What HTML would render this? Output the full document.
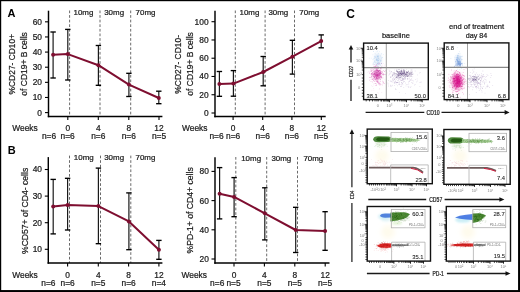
<!DOCTYPE html>
<html><head><meta charset="utf-8"><style>
html,body{margin:0;padding:0;background:#fff;}
svg{display:block;font-family:"Liberation Sans", sans-serif;filter:blur(0.3px);}
</style></head><body>
<svg width="520" height="292" viewBox="0 0 520 292">
<defs>
<filter id="b10" x="-50%" y="-50%" width="200%" height="200%"><feGaussianBlur stdDeviation="1.0"/></filter>
<filter id="b5" x="-50%" y="-50%" width="200%" height="200%"><feGaussianBlur stdDeviation="0.5"/></filter>
<filter id="b6" x="-50%" y="-50%" width="200%" height="200%"><feGaussianBlur stdDeviation="0.6"/></filter>
<filter id="b12" x="-50%" y="-50%" width="200%" height="200%"><feGaussianBlur stdDeviation="1.2"/></filter>
<filter id="b15" x="-50%" y="-50%" width="200%" height="200%"><feGaussianBlur stdDeviation="1.5"/></filter>
<filter id="b20" x="-50%" y="-50%" width="200%" height="200%"><feGaussianBlur stdDeviation="2.0"/></filter>
<filter id="b25" x="-50%" y="-50%" width="200%" height="200%"><feGaussianBlur stdDeviation="2.5"/></filter>
<filter id="b30" x="-50%" y="-50%" width="200%" height="200%"><feGaussianBlur stdDeviation="3.0"/></filter>
</defs>
<rect x="0" y="0" width="520" height="292" fill="#fff"/>
<line x1="69.60" y1="10.50" x2="69.60" y2="116.50" stroke="#6a6a6a" stroke-width="1.0" stroke-dasharray="2.7,1.9"/>
<line x1="100.00" y1="10.50" x2="100.00" y2="116.50" stroke="#6a6a6a" stroke-width="1.0" stroke-dasharray="2.7,1.9"/>
<line x1="130.70" y1="10.50" x2="130.70" y2="116.50" stroke="#6a6a6a" stroke-width="1.0" stroke-dasharray="2.7,1.9"/>
<line x1="48.50" y1="10.70" x2="48.50" y2="117.20" stroke="#000" stroke-width="1.45" />
<line x1="47.80" y1="116.50" x2="162.40" y2="116.50" stroke="#000" stroke-width="1.45" />
<line x1="45.00" y1="112.60" x2="48.50" y2="112.60" stroke="#000" stroke-width="1.1" />
<text x="42.00" y="115.50" font-size="8.4" text-anchor="end" font-weight="normal" fill="#1a1a1a" stroke="#1a1a1a" stroke-width="0.22" >0</text>
<line x1="45.00" y1="97.47" x2="48.50" y2="97.47" stroke="#000" stroke-width="1.1" />
<text x="42.00" y="100.37" font-size="8.4" text-anchor="end" font-weight="normal" fill="#1a1a1a" stroke="#1a1a1a" stroke-width="0.22" >10</text>
<line x1="45.00" y1="82.34" x2="48.50" y2="82.34" stroke="#000" stroke-width="1.1" />
<text x="42.00" y="85.24" font-size="8.4" text-anchor="end" font-weight="normal" fill="#1a1a1a" stroke="#1a1a1a" stroke-width="0.22" >20</text>
<line x1="45.00" y1="67.21" x2="48.50" y2="67.21" stroke="#000" stroke-width="1.1" />
<text x="42.00" y="70.11" font-size="8.4" text-anchor="end" font-weight="normal" fill="#1a1a1a" stroke="#1a1a1a" stroke-width="0.22" >30</text>
<line x1="45.00" y1="52.08" x2="48.50" y2="52.08" stroke="#000" stroke-width="1.1" />
<text x="42.00" y="54.98" font-size="8.4" text-anchor="end" font-weight="normal" fill="#1a1a1a" stroke="#1a1a1a" stroke-width="0.22" >40</text>
<line x1="45.00" y1="36.95" x2="48.50" y2="36.95" stroke="#000" stroke-width="1.1" />
<text x="42.00" y="39.85" font-size="8.4" text-anchor="end" font-weight="normal" fill="#1a1a1a" stroke="#1a1a1a" stroke-width="0.22" >50</text>
<line x1="45.00" y1="21.82" x2="48.50" y2="21.82" stroke="#000" stroke-width="1.1" />
<text x="42.00" y="24.72" font-size="8.4" text-anchor="end" font-weight="normal" fill="#1a1a1a" stroke="#1a1a1a" stroke-width="0.22" >60</text>
<line x1="67.80" y1="116.50" x2="67.80" y2="120.00" stroke="#000" stroke-width="1.1" />
<text x="67.80" y="131.40" font-size="8.4" text-anchor="middle" font-weight="normal" fill="#1a1a1a" stroke="#1a1a1a" stroke-width="0.22" >0</text>
<line x1="98.30" y1="116.50" x2="98.30" y2="120.00" stroke="#000" stroke-width="1.1" />
<text x="98.30" y="131.40" font-size="8.4" text-anchor="middle" font-weight="normal" fill="#1a1a1a" stroke="#1a1a1a" stroke-width="0.22" >4</text>
<line x1="128.80" y1="116.50" x2="128.80" y2="120.00" stroke="#000" stroke-width="1.1" />
<text x="128.80" y="131.40" font-size="8.4" text-anchor="middle" font-weight="normal" fill="#1a1a1a" stroke="#1a1a1a" stroke-width="0.22" >8</text>
<line x1="159.00" y1="116.50" x2="159.00" y2="120.00" stroke="#000" stroke-width="1.1" />
<text x="159.00" y="131.40" font-size="8.4" text-anchor="middle" font-weight="normal" fill="#1a1a1a" stroke="#1a1a1a" stroke-width="0.22" >12</text>
<text x="12.30" y="131.40" font-size="8.4" text-anchor="start" font-weight="normal" fill="#1a1a1a" stroke="#1a1a1a" stroke-width="0.22" >Weeks</text>
<text x="49.00" y="139.10" font-size="8.4" text-anchor="middle" font-weight="normal" fill="#1a1a1a" stroke="#1a1a1a" stroke-width="0.22" >n=6</text>
<text x="67.60" y="139.10" font-size="8.4" text-anchor="middle" font-weight="normal" fill="#1a1a1a" stroke="#1a1a1a" stroke-width="0.22" >n=6</text>
<text x="98.30" y="139.10" font-size="8.4" text-anchor="middle" font-weight="normal" fill="#1a1a1a" stroke="#1a1a1a" stroke-width="0.22" >n=6</text>
<text x="128.80" y="139.10" font-size="8.4" text-anchor="middle" font-weight="normal" fill="#1a1a1a" stroke="#1a1a1a" stroke-width="0.22" >n=6</text>
<text x="159.00" y="139.10" font-size="8.4" text-anchor="middle" font-weight="normal" fill="#1a1a1a" stroke="#1a1a1a" stroke-width="0.22" >n=5</text>
<line x1="53.10" y1="32.00" x2="53.10" y2="78.00" stroke="#1a1a1a" stroke-width="1.2" />
<line x1="50.40" y1="32.00" x2="55.80" y2="32.00" stroke="#000" stroke-width="1.35" />
<line x1="50.40" y1="78.00" x2="55.80" y2="78.00" stroke="#000" stroke-width="1.35" />
<line x1="67.80" y1="29.40" x2="67.80" y2="80.00" stroke="#1a1a1a" stroke-width="1.2" />
<line x1="65.10" y1="29.40" x2="70.50" y2="29.40" stroke="#000" stroke-width="1.35" />
<line x1="65.10" y1="80.00" x2="70.50" y2="80.00" stroke="#000" stroke-width="1.35" />
<line x1="98.40" y1="45.50" x2="98.40" y2="85.30" stroke="#1a1a1a" stroke-width="1.2" />
<line x1="95.70" y1="45.50" x2="101.10" y2="45.50" stroke="#000" stroke-width="1.35" />
<line x1="95.70" y1="85.30" x2="101.10" y2="85.30" stroke="#000" stroke-width="1.35" />
<line x1="128.90" y1="73.30" x2="128.90" y2="96.50" stroke="#1a1a1a" stroke-width="1.2" />
<line x1="126.20" y1="73.30" x2="131.60" y2="73.30" stroke="#000" stroke-width="1.35" />
<line x1="126.20" y1="96.50" x2="131.60" y2="96.50" stroke="#000" stroke-width="1.35" />
<line x1="158.80" y1="91.20" x2="158.80" y2="103.70" stroke="#1a1a1a" stroke-width="1.2" />
<line x1="156.10" y1="91.20" x2="161.50" y2="91.20" stroke="#000" stroke-width="1.35" />
<line x1="156.10" y1="103.70" x2="161.50" y2="103.70" stroke="#000" stroke-width="1.35" />
<path d="M53.10,54.70 L67.80,54.10 L98.40,65.20 L128.90,84.60 L158.80,98.00" fill="none" stroke="#7e0e30" stroke-width="2.0" stroke-linejoin="round"/>
<circle cx="53.10" cy="54.70" r="2.0" fill="#7e0e30"/>
<circle cx="67.80" cy="54.10" r="2.0" fill="#7e0e30"/>
<circle cx="98.40" cy="65.20" r="2.0" fill="#7e0e30"/>
<circle cx="128.90" cy="84.60" r="2.0" fill="#7e0e30"/>
<circle cx="158.80" cy="98.00" r="2.0" fill="#7e0e30"/>
<text x="73.50" y="14.75" font-size="7.95" text-anchor="start" font-weight="normal" fill="#1a1a1a" stroke="#1a1a1a" stroke-width="0.22" >10mg</text>
<text x="104.20" y="14.75" font-size="7.95" text-anchor="start" font-weight="normal" fill="#1a1a1a" stroke="#1a1a1a" stroke-width="0.22" >30mg</text>
<text x="135.60" y="14.75" font-size="7.95" text-anchor="start" font-weight="normal" fill="#1a1a1a" stroke="#1a1a1a" stroke-width="0.22" >70mg</text>
<text transform="translate(15.28,64.15) rotate(-90)" x="0" y="0" font-size="9.0" text-anchor="middle" fill="#1a1a1a" stroke="#1a1a1a" stroke-width="0.22" textLength="60.6" lengthAdjust="spacingAndGlyphs">%CD27- CD10+</text>
<text transform="translate(27.08,63.95) rotate(-90)" x="0" y="0" font-size="9.0" text-anchor="middle" fill="#1a1a1a" stroke="#1a1a1a" stroke-width="0.22" textLength="63.4" lengthAdjust="spacingAndGlyphs">of CD19+ B cells</text>
<line x1="235.30" y1="10.50" x2="235.30" y2="116.50" stroke="#6a6a6a" stroke-width="1.0" stroke-dasharray="2.7,1.9"/>
<line x1="265.10" y1="10.50" x2="265.10" y2="116.50" stroke="#6a6a6a" stroke-width="1.0" stroke-dasharray="2.7,1.9"/>
<line x1="294.50" y1="10.50" x2="294.50" y2="116.50" stroke="#6a6a6a" stroke-width="1.0" stroke-dasharray="2.7,1.9"/>
<line x1="215.00" y1="10.70" x2="215.00" y2="117.20" stroke="#000" stroke-width="1.45" />
<line x1="214.30" y1="116.50" x2="325.70" y2="116.50" stroke="#000" stroke-width="1.45" />
<line x1="211.50" y1="113.00" x2="215.00" y2="113.00" stroke="#000" stroke-width="1.1" />
<text x="208.60" y="115.90" font-size="8.4" text-anchor="end" font-weight="normal" fill="#1a1a1a" stroke="#1a1a1a" stroke-width="0.22" >0</text>
<line x1="211.50" y1="94.74" x2="215.00" y2="94.74" stroke="#000" stroke-width="1.1" />
<text x="208.60" y="97.64" font-size="8.4" text-anchor="end" font-weight="normal" fill="#1a1a1a" stroke="#1a1a1a" stroke-width="0.22" >20</text>
<line x1="211.50" y1="76.48" x2="215.00" y2="76.48" stroke="#000" stroke-width="1.1" />
<text x="208.60" y="79.38" font-size="8.4" text-anchor="end" font-weight="normal" fill="#1a1a1a" stroke="#1a1a1a" stroke-width="0.22" >40</text>
<line x1="211.50" y1="58.22" x2="215.00" y2="58.22" stroke="#000" stroke-width="1.1" />
<text x="208.60" y="61.12" font-size="8.4" text-anchor="end" font-weight="normal" fill="#1a1a1a" stroke="#1a1a1a" stroke-width="0.22" >60</text>
<line x1="211.50" y1="39.96" x2="215.00" y2="39.96" stroke="#000" stroke-width="1.1" />
<text x="208.60" y="42.86" font-size="8.4" text-anchor="end" font-weight="normal" fill="#1a1a1a" stroke="#1a1a1a" stroke-width="0.22" >80</text>
<line x1="211.50" y1="21.70" x2="215.00" y2="21.70" stroke="#000" stroke-width="1.1" />
<text x="208.60" y="24.60" font-size="8.4" text-anchor="end" font-weight="normal" fill="#1a1a1a" stroke="#1a1a1a" stroke-width="0.22" >100</text>
<line x1="233.10" y1="116.50" x2="233.10" y2="120.00" stroke="#000" stroke-width="1.1" />
<text x="233.10" y="131.40" font-size="8.4" text-anchor="middle" font-weight="normal" fill="#1a1a1a" stroke="#1a1a1a" stroke-width="0.22" >0</text>
<line x1="262.70" y1="116.50" x2="262.70" y2="120.00" stroke="#000" stroke-width="1.1" />
<text x="262.70" y="131.40" font-size="8.4" text-anchor="middle" font-weight="normal" fill="#1a1a1a" stroke="#1a1a1a" stroke-width="0.22" >4</text>
<line x1="291.90" y1="116.50" x2="291.90" y2="120.00" stroke="#000" stroke-width="1.1" />
<text x="291.90" y="131.40" font-size="8.4" text-anchor="middle" font-weight="normal" fill="#1a1a1a" stroke="#1a1a1a" stroke-width="0.22" >8</text>
<line x1="321.30" y1="116.50" x2="321.30" y2="120.00" stroke="#000" stroke-width="1.1" />
<text x="321.30" y="131.40" font-size="8.4" text-anchor="middle" font-weight="normal" fill="#1a1a1a" stroke="#1a1a1a" stroke-width="0.22" >12</text>
<text x="182.00" y="131.40" font-size="8.4" text-anchor="start" font-weight="normal" fill="#1a1a1a" stroke="#1a1a1a" stroke-width="0.22" >Weeks</text>
<text x="216.50" y="139.10" font-size="8.4" text-anchor="middle" font-weight="normal" fill="#1a1a1a" stroke="#1a1a1a" stroke-width="0.22" >n=6</text>
<text x="233.10" y="139.10" font-size="8.4" text-anchor="middle" font-weight="normal" fill="#1a1a1a" stroke="#1a1a1a" stroke-width="0.22" >n=6</text>
<text x="262.70" y="139.10" font-size="8.4" text-anchor="middle" font-weight="normal" fill="#1a1a1a" stroke="#1a1a1a" stroke-width="0.22" >n=6</text>
<text x="291.90" y="139.10" font-size="8.4" text-anchor="middle" font-weight="normal" fill="#1a1a1a" stroke="#1a1a1a" stroke-width="0.22" >n=6</text>
<text x="321.00" y="139.10" font-size="8.4" text-anchor="middle" font-weight="normal" fill="#1a1a1a" stroke="#1a1a1a" stroke-width="0.22" >n=5</text>
<line x1="219.40" y1="71.50" x2="219.40" y2="96.30" stroke="#1a1a1a" stroke-width="1.2" />
<line x1="216.70" y1="71.50" x2="222.10" y2="71.50" stroke="#000" stroke-width="1.35" />
<line x1="216.70" y1="96.30" x2="222.10" y2="96.30" stroke="#000" stroke-width="1.35" />
<line x1="233.40" y1="70.60" x2="233.40" y2="96.20" stroke="#1a1a1a" stroke-width="1.2" />
<line x1="230.70" y1="70.60" x2="236.10" y2="70.60" stroke="#000" stroke-width="1.35" />
<line x1="230.70" y1="96.20" x2="236.10" y2="96.20" stroke="#000" stroke-width="1.35" />
<line x1="263.20" y1="56.50" x2="263.20" y2="85.80" stroke="#1a1a1a" stroke-width="1.2" />
<line x1="260.50" y1="56.50" x2="265.90" y2="56.50" stroke="#000" stroke-width="1.35" />
<line x1="260.50" y1="85.80" x2="265.90" y2="85.80" stroke="#000" stroke-width="1.35" />
<line x1="292.40" y1="40.30" x2="292.40" y2="74.10" stroke="#1a1a1a" stroke-width="1.2" />
<line x1="289.70" y1="40.30" x2="295.10" y2="40.30" stroke="#000" stroke-width="1.35" />
<line x1="289.70" y1="74.10" x2="295.10" y2="74.10" stroke="#000" stroke-width="1.35" />
<line x1="321.20" y1="34.90" x2="321.20" y2="47.80" stroke="#1a1a1a" stroke-width="1.2" />
<line x1="318.50" y1="34.90" x2="323.90" y2="34.90" stroke="#000" stroke-width="1.35" />
<line x1="318.50" y1="47.80" x2="323.90" y2="47.80" stroke="#000" stroke-width="1.35" />
<path d="M219.40,84.00 L233.40,83.60 L263.20,72.00 L292.40,56.70 L321.20,41.10" fill="none" stroke="#7e0e30" stroke-width="2.0" stroke-linejoin="round"/>
<circle cx="219.40" cy="84.00" r="2.0" fill="#7e0e30"/>
<circle cx="233.40" cy="83.60" r="2.0" fill="#7e0e30"/>
<circle cx="263.20" cy="72.00" r="2.0" fill="#7e0e30"/>
<circle cx="292.40" cy="56.70" r="2.0" fill="#7e0e30"/>
<circle cx="321.20" cy="41.10" r="2.0" fill="#7e0e30"/>
<text x="239.50" y="14.65" font-size="7.95" text-anchor="start" font-weight="normal" fill="#1a1a1a" stroke="#1a1a1a" stroke-width="0.22" >10mg</text>
<text x="268.40" y="14.65" font-size="7.95" text-anchor="start" font-weight="normal" fill="#1a1a1a" stroke="#1a1a1a" stroke-width="0.22" >30mg</text>
<text x="299.30" y="14.65" font-size="7.95" text-anchor="start" font-weight="normal" fill="#1a1a1a" stroke="#1a1a1a" stroke-width="0.22" >70mg</text>
<text transform="translate(181.48,64.35) rotate(-90)" x="0" y="0" font-size="9.0" text-anchor="middle" fill="#1a1a1a" stroke="#1a1a1a" stroke-width="0.22" textLength="58.6" lengthAdjust="spacingAndGlyphs">%CD27- CD10-</text>
<text transform="translate(193.38,63.95) rotate(-90)" x="0" y="0" font-size="9.0" text-anchor="middle" fill="#1a1a1a" stroke="#1a1a1a" stroke-width="0.22" textLength="63.4" lengthAdjust="spacingAndGlyphs">of CD19+ B cells</text>
<line x1="69.50" y1="155.60" x2="69.50" y2="263.00" stroke="#6a6a6a" stroke-width="1.0" stroke-dasharray="2.7,1.9"/>
<line x1="100.50" y1="155.60" x2="100.50" y2="263.00" stroke="#6a6a6a" stroke-width="1.0" stroke-dasharray="2.7,1.9"/>
<line x1="130.80" y1="155.60" x2="130.80" y2="263.00" stroke="#6a6a6a" stroke-width="1.0" stroke-dasharray="2.7,1.9"/>
<line x1="48.30" y1="157.10" x2="48.30" y2="263.70" stroke="#000" stroke-width="1.45" />
<line x1="47.60" y1="263.00" x2="162.40" y2="263.00" stroke="#000" stroke-width="1.45" />
<line x1="44.80" y1="249.30" x2="48.30" y2="249.30" stroke="#000" stroke-width="1.1" />
<text x="42.00" y="252.20" font-size="8.4" text-anchor="end" font-weight="normal" fill="#1a1a1a" stroke="#1a1a1a" stroke-width="0.22" >10</text>
<line x1="44.80" y1="222.70" x2="48.30" y2="222.70" stroke="#000" stroke-width="1.1" />
<text x="42.00" y="225.60" font-size="8.4" text-anchor="end" font-weight="normal" fill="#1a1a1a" stroke="#1a1a1a" stroke-width="0.22" >20</text>
<line x1="44.80" y1="196.10" x2="48.30" y2="196.10" stroke="#000" stroke-width="1.1" />
<text x="42.00" y="199.00" font-size="8.4" text-anchor="end" font-weight="normal" fill="#1a1a1a" stroke="#1a1a1a" stroke-width="0.22" >30</text>
<line x1="44.80" y1="169.50" x2="48.30" y2="169.50" stroke="#000" stroke-width="1.1" />
<text x="42.00" y="172.40" font-size="8.4" text-anchor="end" font-weight="normal" fill="#1a1a1a" stroke="#1a1a1a" stroke-width="0.22" >40</text>
<line x1="67.60" y1="263.00" x2="67.60" y2="266.50" stroke="#000" stroke-width="1.1" />
<text x="67.60" y="277.70" font-size="8.4" text-anchor="middle" font-weight="normal" fill="#1a1a1a" stroke="#1a1a1a" stroke-width="0.22" >0</text>
<line x1="98.30" y1="263.00" x2="98.30" y2="266.50" stroke="#000" stroke-width="1.1" />
<text x="98.30" y="277.70" font-size="8.4" text-anchor="middle" font-weight="normal" fill="#1a1a1a" stroke="#1a1a1a" stroke-width="0.22" >4</text>
<line x1="128.60" y1="263.00" x2="128.60" y2="266.50" stroke="#000" stroke-width="1.1" />
<text x="128.60" y="277.70" font-size="8.4" text-anchor="middle" font-weight="normal" fill="#1a1a1a" stroke="#1a1a1a" stroke-width="0.22" >8</text>
<line x1="158.90" y1="263.00" x2="158.90" y2="266.50" stroke="#000" stroke-width="1.1" />
<text x="158.90" y="277.70" font-size="8.4" text-anchor="middle" font-weight="normal" fill="#1a1a1a" stroke="#1a1a1a" stroke-width="0.22" >12</text>
<text x="12.30" y="277.70" font-size="8.4" text-anchor="start" font-weight="normal" fill="#1a1a1a" stroke="#1a1a1a" stroke-width="0.22" >Weeks</text>
<text x="48.40" y="285.60" font-size="8.4" text-anchor="middle" font-weight="normal" fill="#1a1a1a" stroke="#1a1a1a" stroke-width="0.22" >n=6</text>
<text x="67.60" y="285.60" font-size="8.4" text-anchor="middle" font-weight="normal" fill="#1a1a1a" stroke="#1a1a1a" stroke-width="0.22" >n=6</text>
<text x="98.30" y="285.60" font-size="8.4" text-anchor="middle" font-weight="normal" fill="#1a1a1a" stroke="#1a1a1a" stroke-width="0.22" >n=5</text>
<text x="128.60" y="285.60" font-size="8.4" text-anchor="middle" font-weight="normal" fill="#1a1a1a" stroke="#1a1a1a" stroke-width="0.22" >n=6</text>
<text x="158.90" y="285.60" font-size="8.4" text-anchor="middle" font-weight="normal" fill="#1a1a1a" stroke="#1a1a1a" stroke-width="0.22" >n=4</text>
<line x1="53.20" y1="179.40" x2="53.20" y2="233.90" stroke="#1a1a1a" stroke-width="1.2" />
<line x1="50.50" y1="179.40" x2="55.90" y2="179.40" stroke="#000" stroke-width="1.35" />
<line x1="50.50" y1="233.90" x2="55.90" y2="233.90" stroke="#000" stroke-width="1.35" />
<line x1="67.60" y1="178.30" x2="67.60" y2="230.00" stroke="#1a1a1a" stroke-width="1.2" />
<line x1="64.90" y1="178.30" x2="70.30" y2="178.30" stroke="#000" stroke-width="1.35" />
<line x1="64.90" y1="230.00" x2="70.30" y2="230.00" stroke="#000" stroke-width="1.35" />
<line x1="98.40" y1="168.10" x2="98.40" y2="243.70" stroke="#1a1a1a" stroke-width="1.2" />
<line x1="95.70" y1="168.10" x2="101.10" y2="168.10" stroke="#000" stroke-width="1.35" />
<line x1="95.70" y1="243.70" x2="101.10" y2="243.70" stroke="#000" stroke-width="1.35" />
<line x1="128.90" y1="192.90" x2="128.90" y2="249.70" stroke="#1a1a1a" stroke-width="1.2" />
<line x1="126.20" y1="192.90" x2="131.60" y2="192.90" stroke="#000" stroke-width="1.35" />
<line x1="126.20" y1="249.70" x2="131.60" y2="249.70" stroke="#000" stroke-width="1.35" />
<line x1="158.90" y1="240.40" x2="158.90" y2="259.30" stroke="#1a1a1a" stroke-width="1.2" />
<line x1="156.20" y1="240.40" x2="161.60" y2="240.40" stroke="#000" stroke-width="1.35" />
<line x1="156.20" y1="259.30" x2="161.60" y2="259.30" stroke="#000" stroke-width="1.35" />
<path d="M53.20,206.50 L67.60,204.90 L98.40,206.10 L128.90,221.40 L158.90,249.70" fill="none" stroke="#7e0e30" stroke-width="2.0" stroke-linejoin="round"/>
<circle cx="53.20" cy="206.50" r="2.0" fill="#7e0e30"/>
<circle cx="67.60" cy="204.90" r="2.0" fill="#7e0e30"/>
<circle cx="98.40" cy="206.10" r="2.0" fill="#7e0e30"/>
<circle cx="128.90" cy="221.40" r="2.0" fill="#7e0e30"/>
<circle cx="158.90" cy="249.70" r="2.0" fill="#7e0e30"/>
<text x="73.80" y="160.45" font-size="7.95" text-anchor="start" font-weight="normal" fill="#1a1a1a" stroke="#1a1a1a" stroke-width="0.22" >10mg</text>
<text x="104.20" y="160.45" font-size="7.95" text-anchor="start" font-weight="normal" fill="#1a1a1a" stroke="#1a1a1a" stroke-width="0.22" >30mg</text>
<text x="135.50" y="160.45" font-size="7.95" text-anchor="start" font-weight="normal" fill="#1a1a1a" stroke="#1a1a1a" stroke-width="0.22" >70mg</text>
<text transform="translate(27.58,210.90) rotate(-90)" x="0" y="0" font-size="9.0" text-anchor="middle" fill="#1a1a1a" stroke="#1a1a1a" stroke-width="0.22" textLength="86.2" lengthAdjust="spacingAndGlyphs">%CD57+ of CD4- cells</text>
<line x1="235.80" y1="157.00" x2="235.80" y2="263.00" stroke="#6a6a6a" stroke-width="1.0" stroke-dasharray="2.7,1.9"/>
<line x1="266.70" y1="157.00" x2="266.70" y2="263.00" stroke="#6a6a6a" stroke-width="1.0" stroke-dasharray="2.7,1.9"/>
<line x1="297.50" y1="157.00" x2="297.50" y2="263.00" stroke="#6a6a6a" stroke-width="1.0" stroke-dasharray="2.7,1.9"/>
<line x1="215.00" y1="157.20" x2="215.00" y2="263.70" stroke="#000" stroke-width="1.45" />
<line x1="214.30" y1="263.00" x2="329.50" y2="263.00" stroke="#000" stroke-width="1.45" />
<line x1="211.50" y1="259.00" x2="215.00" y2="259.00" stroke="#000" stroke-width="1.1" />
<text x="208.80" y="261.90" font-size="8.4" text-anchor="end" font-weight="normal" fill="#1a1a1a" stroke="#1a1a1a" stroke-width="0.22" >20</text>
<line x1="211.50" y1="229.80" x2="215.00" y2="229.80" stroke="#000" stroke-width="1.1" />
<text x="208.80" y="232.70" font-size="8.4" text-anchor="end" font-weight="normal" fill="#1a1a1a" stroke="#1a1a1a" stroke-width="0.22" >40</text>
<line x1="211.50" y1="200.60" x2="215.00" y2="200.60" stroke="#000" stroke-width="1.1" />
<text x="208.80" y="203.50" font-size="8.4" text-anchor="end" font-weight="normal" fill="#1a1a1a" stroke="#1a1a1a" stroke-width="0.22" >60</text>
<line x1="211.50" y1="171.40" x2="215.00" y2="171.40" stroke="#000" stroke-width="1.1" />
<text x="208.80" y="174.30" font-size="8.4" text-anchor="end" font-weight="normal" fill="#1a1a1a" stroke="#1a1a1a" stroke-width="0.22" >80</text>
<line x1="234.00" y1="263.00" x2="234.00" y2="266.50" stroke="#000" stroke-width="1.1" />
<text x="234.00" y="277.70" font-size="8.4" text-anchor="middle" font-weight="normal" fill="#1a1a1a" stroke="#1a1a1a" stroke-width="0.22" >0</text>
<line x1="264.40" y1="263.00" x2="264.40" y2="266.50" stroke="#000" stroke-width="1.1" />
<text x="264.40" y="277.70" font-size="8.4" text-anchor="middle" font-weight="normal" fill="#1a1a1a" stroke="#1a1a1a" stroke-width="0.22" >4</text>
<line x1="294.80" y1="263.00" x2="294.80" y2="266.50" stroke="#000" stroke-width="1.1" />
<text x="294.80" y="277.70" font-size="8.4" text-anchor="middle" font-weight="normal" fill="#1a1a1a" stroke="#1a1a1a" stroke-width="0.22" >8</text>
<line x1="325.20" y1="263.00" x2="325.20" y2="266.50" stroke="#000" stroke-width="1.1" />
<text x="325.20" y="277.70" font-size="8.4" text-anchor="middle" font-weight="normal" fill="#1a1a1a" stroke="#1a1a1a" stroke-width="0.22" >12</text>
<text x="181.50" y="277.70" font-size="8.4" text-anchor="start" font-weight="normal" fill="#1a1a1a" stroke="#1a1a1a" stroke-width="0.22" >Weeks</text>
<text x="217.20" y="285.60" font-size="8.4" text-anchor="middle" font-weight="normal" fill="#1a1a1a" stroke="#1a1a1a" stroke-width="0.22" >n=6</text>
<text x="233.50" y="285.60" font-size="8.4" text-anchor="middle" font-weight="normal" fill="#1a1a1a" stroke="#1a1a1a" stroke-width="0.22" >n=5</text>
<text x="264.40" y="285.60" font-size="8.4" text-anchor="middle" font-weight="normal" fill="#1a1a1a" stroke="#1a1a1a" stroke-width="0.22" >n=5</text>
<text x="294.80" y="285.60" font-size="8.4" text-anchor="middle" font-weight="normal" fill="#1a1a1a" stroke="#1a1a1a" stroke-width="0.22" >n=5</text>
<text x="325.00" y="285.60" font-size="8.4" text-anchor="middle" font-weight="normal" fill="#1a1a1a" stroke="#1a1a1a" stroke-width="0.22" >n=5</text>
<line x1="219.60" y1="167.60" x2="219.60" y2="218.90" stroke="#1a1a1a" stroke-width="1.2" />
<line x1="216.90" y1="167.60" x2="222.30" y2="167.60" stroke="#000" stroke-width="1.35" />
<line x1="216.90" y1="218.90" x2="222.30" y2="218.90" stroke="#000" stroke-width="1.35" />
<line x1="234.10" y1="177.60" x2="234.10" y2="216.70" stroke="#1a1a1a" stroke-width="1.2" />
<line x1="231.40" y1="177.60" x2="236.80" y2="177.60" stroke="#000" stroke-width="1.35" />
<line x1="231.40" y1="216.70" x2="236.80" y2="216.70" stroke="#000" stroke-width="1.35" />
<line x1="264.80" y1="187.80" x2="264.80" y2="239.90" stroke="#1a1a1a" stroke-width="1.2" />
<line x1="262.10" y1="187.80" x2="267.50" y2="187.80" stroke="#000" stroke-width="1.35" />
<line x1="262.10" y1="239.90" x2="267.50" y2="239.90" stroke="#000" stroke-width="1.35" />
<line x1="295.70" y1="207.30" x2="295.70" y2="252.50" stroke="#1a1a1a" stroke-width="1.2" />
<line x1="293.00" y1="207.30" x2="298.40" y2="207.30" stroke="#000" stroke-width="1.35" />
<line x1="293.00" y1="252.50" x2="298.40" y2="252.50" stroke="#000" stroke-width="1.35" />
<line x1="325.10" y1="211.70" x2="325.10" y2="250.30" stroke="#1a1a1a" stroke-width="1.2" />
<line x1="322.40" y1="211.70" x2="327.80" y2="211.70" stroke="#000" stroke-width="1.35" />
<line x1="322.40" y1="250.30" x2="327.80" y2="250.30" stroke="#000" stroke-width="1.35" />
<path d="M219.60,193.70 L234.10,196.90 L264.80,213.30 L295.70,230.00 L325.10,231.10" fill="none" stroke="#7e0e30" stroke-width="2.0" stroke-linejoin="round"/>
<circle cx="219.60" cy="193.70" r="2.0" fill="#7e0e30"/>
<circle cx="234.10" cy="196.90" r="2.0" fill="#7e0e30"/>
<circle cx="264.80" cy="213.30" r="2.0" fill="#7e0e30"/>
<circle cx="295.70" cy="230.00" r="2.0" fill="#7e0e30"/>
<circle cx="325.10" cy="231.10" r="2.0" fill="#7e0e30"/>
<text x="241.20" y="160.95" font-size="7.95" text-anchor="start" font-weight="normal" fill="#1a1a1a" stroke="#1a1a1a" stroke-width="0.22" >10mg</text>
<text x="271.40" y="160.95" font-size="7.95" text-anchor="start" font-weight="normal" fill="#1a1a1a" stroke="#1a1a1a" stroke-width="0.22" >30mg</text>
<text x="303.40" y="160.95" font-size="7.95" text-anchor="start" font-weight="normal" fill="#1a1a1a" stroke="#1a1a1a" stroke-width="0.22" >70mg</text>
<text transform="translate(193.28,210.35) rotate(-90)" x="0" y="0" font-size="9.0" text-anchor="middle" fill="#1a1a1a" stroke="#1a1a1a" stroke-width="0.22" textLength="86.1" lengthAdjust="spacingAndGlyphs">%PD-1+ of CD4+ cells</text>
<text x="7.60" y="16.70" font-size="11" text-anchor="start" font-weight="bold" fill="#000" >A</text>
<text x="7.80" y="153.80" font-size="11" text-anchor="start" font-weight="bold" fill="#000" >B</text>
<text x="346.30" y="17.50" font-size="12" text-anchor="start" font-weight="bold" fill="#000" >C</text>
<text x="395.90" y="38.10" font-size="8.0" text-anchor="middle" font-weight="normal" fill="#1a1a1a" stroke="#1a1a1a" stroke-width="0.22" textLength="28.0" lengthAdjust="spacingAndGlyphs">baseline</text>
<text x="476.60" y="29.30" font-size="8.0" text-anchor="middle" font-weight="normal" fill="#1a1a1a" stroke="#1a1a1a" stroke-width="0.22" textLength="55.2" lengthAdjust="spacingAndGlyphs">end of treatment</text>
<text x="476.50" y="37.90" font-size="8.0" text-anchor="middle" font-weight="normal" fill="#1a1a1a" stroke="#1a1a1a" stroke-width="0.22" textLength="21.6" lengthAdjust="spacingAndGlyphs">day 84</text>
<ellipse cx="378" cy="60" rx="4" ry="7" fill="#e6eef8" fill-opacity="0.9" filter="url(#b15)"/>
<g fill="#8ab8e8" fill-opacity="0.4"><circle cx="378.0" cy="61.8" r="0.4"/><circle cx="377.3" cy="56.6" r="0.4"/><circle cx="376.8" cy="56.1" r="0.4"/><circle cx="378.2" cy="66.4" r="0.4"/><circle cx="376.7" cy="57.8" r="0.4"/><circle cx="379.3" cy="62.1" r="0.4"/><circle cx="378.3" cy="56.4" r="0.4"/><circle cx="377.9" cy="63.6" r="0.4"/><circle cx="374.4" cy="58.5" r="0.4"/><circle cx="372.9" cy="54.8" r="0.4"/><circle cx="373.0" cy="59.5" r="0.4"/><circle cx="374.6" cy="61.7" r="0.4"/><circle cx="378.4" cy="59.7" r="0.4"/><circle cx="371.2" cy="58.1" r="0.4"/><circle cx="377.9" cy="61.0" r="0.4"/><circle cx="373.9" cy="58.4" r="0.4"/><circle cx="375.4" cy="56.9" r="0.4"/><circle cx="380.9" cy="56.9" r="0.4"/><circle cx="377.9" cy="64.4" r="0.4"/><circle cx="376.4" cy="60.0" r="0.4"/><circle cx="378.3" cy="60.8" r="0.4"/><circle cx="374.7" cy="60.8" r="0.4"/><circle cx="381.7" cy="53.7" r="0.4"/><circle cx="380.3" cy="61.0" r="0.4"/><circle cx="376.3" cy="69.3" r="0.4"/><circle cx="380.1" cy="55.2" r="0.4"/><circle cx="378.2" cy="63.0" r="0.4"/><circle cx="377.5" cy="63.5" r="0.4"/><circle cx="377.8" cy="63.4" r="0.4"/><circle cx="381.9" cy="57.5" r="0.4"/><circle cx="378.5" cy="58.5" r="0.4"/><circle cx="378.3" cy="55.3" r="0.4"/><circle cx="376.4" cy="59.6" r="0.4"/><circle cx="380.4" cy="65.5" r="0.4"/><circle cx="374.4" cy="57.0" r="0.4"/><circle cx="379.7" cy="51.7" r="0.4"/><circle cx="376.7" cy="60.1" r="0.4"/><circle cx="381.4" cy="63.5" r="0.4"/><circle cx="377.1" cy="58.9" r="0.4"/><circle cx="377.3" cy="67.2" r="0.4"/><circle cx="376.8" cy="59.2" r="0.4"/><circle cx="379.0" cy="60.0" r="0.4"/><circle cx="377.5" cy="55.6" r="0.4"/><circle cx="378.0" cy="58.5" r="0.4"/><circle cx="381.1" cy="63.4" r="0.4"/><circle cx="377.9" cy="63.4" r="0.4"/><circle cx="377.1" cy="65.1" r="0.4"/><circle cx="378.0" cy="63.1" r="0.4"/><circle cx="374.5" cy="62.0" r="0.4"/><circle cx="373.4" cy="51.5" r="0.4"/><circle cx="377.2" cy="56.5" r="0.4"/><circle cx="378.4" cy="70.4" r="0.4"/><circle cx="375.8" cy="57.8" r="0.4"/><circle cx="378.6" cy="62.7" r="0.4"/><circle cx="377.5" cy="59.6" r="0.4"/><circle cx="379.9" cy="62.8" r="0.4"/><circle cx="375.2" cy="60.2" r="0.4"/><circle cx="378.1" cy="55.9" r="0.4"/><circle cx="378.7" cy="56.7" r="0.4"/><circle cx="380.6" cy="61.3" r="0.4"/><circle cx="378.2" cy="57.9" r="0.4"/><circle cx="377.7" cy="51.7" r="0.4"/><circle cx="374.9" cy="62.1" r="0.4"/><circle cx="372.3" cy="64.2" r="0.4"/><circle cx="373.3" cy="63.8" r="0.4"/><circle cx="375.7" cy="63.9" r="0.4"/><circle cx="378.4" cy="53.7" r="0.4"/><circle cx="381.4" cy="66.8" r="0.4"/><circle cx="377.8" cy="59.3" r="0.4"/><circle cx="377.6" cy="56.2" r="0.4"/><circle cx="381.0" cy="58.1" r="0.4"/><circle cx="377.9" cy="57.0" r="0.4"/><circle cx="376.3" cy="54.9" r="0.4"/><circle cx="381.4" cy="59.8" r="0.4"/><circle cx="380.6" cy="60.6" r="0.4"/><circle cx="376.1" cy="59.1" r="0.4"/><circle cx="376.5" cy="60.5" r="0.4"/><circle cx="377.0" cy="59.2" r="0.4"/><circle cx="374.3" cy="56.9" r="0.4"/><circle cx="382.5" cy="57.5" r="0.4"/><circle cx="375.2" cy="62.0" r="0.4"/><circle cx="381.8" cy="54.1" r="0.4"/><circle cx="377.4" cy="57.7" r="0.4"/><circle cx="373.2" cy="63.7" r="0.4"/><circle cx="377.9" cy="60.8" r="0.4"/><circle cx="376.0" cy="62.5" r="0.4"/><circle cx="376.5" cy="59.9" r="0.4"/><circle cx="375.0" cy="55.1" r="0.4"/><circle cx="381.6" cy="58.3" r="0.4"/><circle cx="378.8" cy="60.4" r="0.4"/><circle cx="376.8" cy="58.3" r="0.4"/><circle cx="379.7" cy="59.2" r="0.4"/><circle cx="377.6" cy="60.6" r="0.4"/><circle cx="381.2" cy="63.5" r="0.4"/><circle cx="379.0" cy="58.0" r="0.4"/><circle cx="374.3" cy="64.7" r="0.4"/><circle cx="380.6" cy="59.9" r="0.4"/><circle cx="379.5" cy="63.9" r="0.4"/><circle cx="380.2" cy="64.6" r="0.4"/><circle cx="376.8" cy="67.2" r="0.4"/><circle cx="374.6" cy="64.3" r="0.4"/><circle cx="379.3" cy="64.3" r="0.4"/><circle cx="383.1" cy="67.0" r="0.4"/><circle cx="374.9" cy="53.1" r="0.4"/><circle cx="380.2" cy="56.0" r="0.4"/><circle cx="378.0" cy="64.2" r="0.4"/><circle cx="373.6" cy="51.2" r="0.4"/><circle cx="378.7" cy="60.7" r="0.4"/><circle cx="377.3" cy="60.7" r="0.4"/><circle cx="375.7" cy="53.8" r="0.4"/><circle cx="377.6" cy="56.2" r="0.4"/><circle cx="373.6" cy="62.7" r="0.4"/><circle cx="377.8" cy="62.3" r="0.4"/><circle cx="375.3" cy="57.6" r="0.4"/><circle cx="375.3" cy="56.6" r="0.4"/><circle cx="378.5" cy="57.1" r="0.4"/><circle cx="379.0" cy="62.0" r="0.4"/><circle cx="383.5" cy="54.4" r="0.4"/><circle cx="380.4" cy="60.1" r="0.4"/><circle cx="378.0" cy="54.1" r="0.4"/><circle cx="376.8" cy="63.8" r="0.4"/><circle cx="377.8" cy="60.9" r="0.4"/><circle cx="377.2" cy="65.6" r="0.4"/><circle cx="377.9" cy="50.8" r="0.4"/><circle cx="376.1" cy="51.8" r="0.4"/><circle cx="369.2" cy="58.2" r="0.4"/><circle cx="381.6" cy="60.7" r="0.4"/><circle cx="374.8" cy="56.4" r="0.4"/><circle cx="381.1" cy="61.2" r="0.4"/><circle cx="378.1" cy="60.3" r="0.4"/></g>
<ellipse cx="377" cy="75" rx="3.2" ry="3.6" fill="#d040a8" fill-opacity="0.45" filter="url(#b12)"/>
<g fill="#c8209a" fill-opacity="0.48"><circle cx="377.1" cy="78.4" r="0.42"/><circle cx="378.8" cy="75.9" r="0.42"/><circle cx="373.6" cy="77.1" r="0.42"/><circle cx="374.7" cy="79.6" r="0.42"/><circle cx="372.8" cy="74.4" r="0.42"/><circle cx="377.0" cy="69.4" r="0.42"/><circle cx="382.7" cy="81.1" r="0.42"/><circle cx="375.5" cy="78.2" r="0.42"/><circle cx="378.2" cy="64.0" r="0.42"/><circle cx="377.8" cy="74.7" r="0.42"/><circle cx="377.3" cy="70.5" r="0.42"/><circle cx="376.1" cy="74.3" r="0.42"/><circle cx="380.9" cy="76.4" r="0.42"/><circle cx="377.0" cy="81.4" r="0.42"/><circle cx="375.2" cy="73.4" r="0.42"/><circle cx="371.0" cy="81.6" r="0.42"/><circle cx="380.2" cy="78.9" r="0.42"/><circle cx="379.2" cy="75.5" r="0.42"/><circle cx="377.7" cy="73.9" r="0.42"/><circle cx="376.3" cy="75.2" r="0.42"/><circle cx="382.0" cy="77.3" r="0.42"/><circle cx="376.8" cy="72.6" r="0.42"/><circle cx="374.9" cy="81.7" r="0.42"/><circle cx="378.7" cy="75.3" r="0.42"/><circle cx="375.9" cy="70.3" r="0.42"/><circle cx="376.8" cy="78.7" r="0.42"/><circle cx="375.7" cy="74.0" r="0.42"/><circle cx="376.3" cy="75.5" r="0.42"/><circle cx="371.7" cy="74.0" r="0.42"/><circle cx="374.2" cy="78.7" r="0.42"/><circle cx="374.5" cy="77.4" r="0.42"/><circle cx="382.0" cy="73.7" r="0.42"/><circle cx="375.0" cy="75.8" r="0.42"/><circle cx="377.0" cy="70.8" r="0.42"/><circle cx="378.5" cy="83.5" r="0.42"/><circle cx="376.1" cy="74.1" r="0.42"/><circle cx="373.6" cy="76.3" r="0.42"/><circle cx="372.9" cy="70.4" r="0.42"/><circle cx="381.2" cy="71.2" r="0.42"/><circle cx="380.6" cy="81.4" r="0.42"/><circle cx="377.9" cy="77.3" r="0.42"/><circle cx="383.4" cy="74.2" r="0.42"/><circle cx="375.0" cy="69.3" r="0.42"/><circle cx="377.1" cy="81.2" r="0.42"/><circle cx="380.2" cy="71.0" r="0.42"/><circle cx="374.2" cy="72.9" r="0.42"/><circle cx="378.0" cy="74.1" r="0.42"/><circle cx="377.7" cy="76.2" r="0.42"/><circle cx="376.0" cy="74.8" r="0.42"/><circle cx="377.7" cy="74.6" r="0.42"/><circle cx="378.7" cy="82.9" r="0.42"/><circle cx="379.0" cy="75.2" r="0.42"/><circle cx="371.4" cy="76.6" r="0.42"/><circle cx="370.6" cy="69.1" r="0.42"/><circle cx="379.8" cy="78.0" r="0.42"/><circle cx="376.5" cy="67.8" r="0.42"/><circle cx="375.8" cy="72.1" r="0.42"/><circle cx="379.1" cy="84.5" r="0.42"/><circle cx="377.7" cy="71.7" r="0.42"/><circle cx="373.1" cy="74.8" r="0.42"/><circle cx="376.4" cy="70.2" r="0.42"/><circle cx="377.4" cy="70.2" r="0.42"/><circle cx="380.7" cy="79.5" r="0.42"/><circle cx="380.6" cy="73.0" r="0.42"/><circle cx="378.7" cy="74.4" r="0.42"/><circle cx="375.7" cy="73.6" r="0.42"/><circle cx="372.7" cy="68.9" r="0.42"/><circle cx="379.6" cy="74.2" r="0.42"/><circle cx="377.7" cy="79.2" r="0.42"/><circle cx="371.3" cy="71.7" r="0.42"/><circle cx="377.6" cy="76.6" r="0.42"/><circle cx="375.8" cy="79.3" r="0.42"/><circle cx="377.7" cy="69.9" r="0.42"/><circle cx="373.9" cy="78.4" r="0.42"/><circle cx="378.5" cy="67.0" r="0.42"/><circle cx="381.4" cy="77.5" r="0.42"/><circle cx="381.4" cy="73.4" r="0.42"/><circle cx="376.0" cy="70.3" r="0.42"/><circle cx="385.4" cy="74.3" r="0.42"/><circle cx="382.2" cy="72.3" r="0.42"/><circle cx="377.5" cy="68.0" r="0.42"/><circle cx="375.7" cy="79.1" r="0.42"/><circle cx="372.9" cy="79.5" r="0.42"/><circle cx="378.1" cy="70.6" r="0.42"/><circle cx="375.3" cy="73.1" r="0.42"/><circle cx="376.8" cy="72.7" r="0.42"/><circle cx="374.3" cy="73.7" r="0.42"/><circle cx="373.6" cy="69.6" r="0.42"/><circle cx="376.8" cy="78.7" r="0.42"/><circle cx="372.0" cy="75.0" r="0.42"/><circle cx="374.9" cy="70.9" r="0.42"/><circle cx="379.8" cy="72.8" r="0.42"/><circle cx="381.9" cy="71.7" r="0.42"/><circle cx="378.3" cy="74.0" r="0.42"/><circle cx="374.5" cy="77.5" r="0.42"/><circle cx="376.5" cy="77.5" r="0.42"/><circle cx="376.8" cy="70.4" r="0.42"/><circle cx="376.7" cy="75.2" r="0.42"/><circle cx="380.2" cy="71.2" r="0.42"/><circle cx="376.9" cy="67.8" r="0.42"/><circle cx="379.1" cy="70.5" r="0.42"/><circle cx="371.0" cy="74.8" r="0.42"/><circle cx="380.6" cy="68.6" r="0.42"/><circle cx="373.4" cy="71.9" r="0.42"/><circle cx="373.3" cy="76.6" r="0.42"/><circle cx="374.3" cy="72.0" r="0.42"/><circle cx="378.9" cy="71.8" r="0.42"/><circle cx="378.4" cy="70.9" r="0.42"/><circle cx="373.0" cy="67.3" r="0.42"/><circle cx="383.1" cy="73.7" r="0.42"/><circle cx="377.8" cy="74.9" r="0.42"/><circle cx="377.5" cy="75.2" r="0.42"/><circle cx="383.3" cy="70.6" r="0.42"/><circle cx="371.9" cy="70.7" r="0.42"/><circle cx="372.6" cy="78.1" r="0.42"/><circle cx="379.7" cy="71.0" r="0.42"/><circle cx="372.4" cy="73.5" r="0.42"/><circle cx="381.6" cy="63.2" r="0.42"/><circle cx="378.7" cy="70.5" r="0.42"/><circle cx="380.4" cy="70.5" r="0.42"/><circle cx="376.1" cy="68.7" r="0.42"/><circle cx="373.8" cy="80.8" r="0.42"/><circle cx="379.7" cy="73.3" r="0.42"/><circle cx="374.1" cy="67.0" r="0.42"/><circle cx="375.7" cy="74.9" r="0.42"/><circle cx="376.7" cy="74.6" r="0.42"/><circle cx="373.3" cy="74.7" r="0.42"/><circle cx="376.9" cy="80.4" r="0.42"/><circle cx="383.2" cy="74.4" r="0.42"/><circle cx="374.5" cy="74.7" r="0.42"/><circle cx="375.0" cy="71.9" r="0.42"/><circle cx="376.8" cy="70.6" r="0.42"/><circle cx="379.0" cy="74.6" r="0.42"/><circle cx="377.8" cy="74.2" r="0.42"/><circle cx="374.6" cy="71.0" r="0.42"/><circle cx="376.2" cy="72.7" r="0.42"/><circle cx="377.8" cy="75.0" r="0.42"/><circle cx="372.5" cy="75.3" r="0.42"/><circle cx="372.6" cy="72.4" r="0.42"/><circle cx="376.0" cy="66.3" r="0.42"/><circle cx="377.3" cy="75.6" r="0.42"/><circle cx="376.5" cy="73.2" r="0.42"/><circle cx="375.8" cy="70.9" r="0.42"/><circle cx="376.1" cy="72.7" r="0.42"/><circle cx="377.3" cy="69.9" r="0.42"/><circle cx="377.8" cy="75.6" r="0.42"/><circle cx="376.5" cy="73.2" r="0.42"/><circle cx="378.8" cy="68.0" r="0.42"/><circle cx="378.5" cy="76.0" r="0.42"/><circle cx="377.9" cy="76.6" r="0.42"/><circle cx="374.8" cy="73.9" r="0.42"/><circle cx="379.1" cy="76.8" r="0.42"/><circle cx="377.7" cy="68.6" r="0.42"/><circle cx="378.8" cy="79.9" r="0.42"/><circle cx="380.3" cy="76.0" r="0.42"/><circle cx="371.9" cy="79.0" r="0.42"/><circle cx="376.5" cy="64.4" r="0.42"/><circle cx="378.2" cy="68.7" r="0.42"/><circle cx="372.7" cy="72.3" r="0.42"/><circle cx="381.2" cy="73.4" r="0.42"/><circle cx="377.9" cy="82.3" r="0.42"/><circle cx="382.3" cy="74.6" r="0.42"/><circle cx="376.2" cy="69.7" r="0.42"/><circle cx="374.7" cy="76.8" r="0.42"/><circle cx="378.3" cy="75.5" r="0.42"/><circle cx="380.3" cy="71.8" r="0.42"/><circle cx="376.8" cy="78.1" r="0.42"/><circle cx="378.9" cy="79.5" r="0.42"/><circle cx="378.3" cy="73.7" r="0.42"/><circle cx="378.2" cy="70.8" r="0.42"/><circle cx="371.6" cy="77.4" r="0.42"/><circle cx="376.8" cy="76.3" r="0.42"/><circle cx="371.4" cy="73.5" r="0.42"/><circle cx="375.0" cy="71.4" r="0.42"/><circle cx="369.6" cy="73.6" r="0.42"/><circle cx="380.0" cy="76.6" r="0.42"/><circle cx="375.0" cy="74.9" r="0.42"/><circle cx="379.5" cy="63.4" r="0.42"/><circle cx="376.6" cy="77.3" r="0.42"/><circle cx="379.3" cy="82.1" r="0.42"/><circle cx="380.7" cy="76.3" r="0.42"/><circle cx="378.0" cy="78.3" r="0.42"/><circle cx="375.2" cy="74.8" r="0.42"/><circle cx="380.0" cy="83.2" r="0.42"/><circle cx="376.5" cy="74.8" r="0.42"/><circle cx="377.7" cy="80.6" r="0.42"/><circle cx="376.9" cy="81.2" r="0.42"/><circle cx="373.8" cy="74.2" r="0.42"/><circle cx="376.3" cy="78.3" r="0.42"/><circle cx="380.4" cy="68.7" r="0.42"/><circle cx="374.0" cy="76.4" r="0.42"/><circle cx="374.8" cy="68.6" r="0.42"/><circle cx="380.4" cy="77.1" r="0.42"/><circle cx="378.6" cy="73.0" r="0.42"/><circle cx="380.4" cy="74.0" r="0.42"/><circle cx="380.6" cy="71.2" r="0.42"/><circle cx="374.2" cy="75.9" r="0.42"/><circle cx="374.7" cy="77.8" r="0.42"/><circle cx="377.9" cy="71.1" r="0.42"/><circle cx="377.2" cy="73.5" r="0.42"/><circle cx="380.0" cy="72.3" r="0.42"/><circle cx="375.6" cy="80.1" r="0.42"/><circle cx="384.4" cy="83.4" r="0.42"/><circle cx="377.2" cy="75.9" r="0.42"/><circle cx="382.1" cy="74.5" r="0.42"/><circle cx="373.8" cy="75.5" r="0.42"/><circle cx="378.5" cy="71.5" r="0.42"/><circle cx="371.6" cy="69.0" r="0.42"/><circle cx="379.2" cy="71.8" r="0.42"/><circle cx="376.5" cy="75.9" r="0.42"/><circle cx="379.0" cy="73.6" r="0.42"/><circle cx="378.6" cy="71.3" r="0.42"/><circle cx="375.8" cy="70.7" r="0.42"/><circle cx="380.7" cy="74.9" r="0.42"/><circle cx="374.6" cy="73.5" r="0.42"/><circle cx="376.3" cy="77.9" r="0.42"/><circle cx="371.7" cy="70.6" r="0.42"/><circle cx="375.8" cy="85.6" r="0.42"/><circle cx="380.2" cy="74.5" r="0.42"/><circle cx="379.3" cy="83.6" r="0.42"/><circle cx="376.2" cy="73.5" r="0.42"/><circle cx="381.0" cy="77.1" r="0.42"/><circle cx="379.2" cy="72.9" r="0.42"/><circle cx="383.3" cy="82.2" r="0.42"/><circle cx="378.9" cy="77.9" r="0.42"/><circle cx="370.3" cy="77.7" r="0.42"/><circle cx="376.4" cy="76.8" r="0.42"/><circle cx="379.3" cy="73.6" r="0.42"/><circle cx="371.4" cy="76.5" r="0.42"/><circle cx="374.6" cy="73.6" r="0.42"/><circle cx="375.0" cy="73.6" r="0.42"/><circle cx="369.4" cy="80.1" r="0.42"/><circle cx="377.8" cy="79.7" r="0.42"/><circle cx="383.5" cy="75.1" r="0.42"/><circle cx="371.1" cy="71.2" r="0.42"/><circle cx="373.0" cy="72.9" r="0.42"/><circle cx="377.3" cy="66.6" r="0.42"/><circle cx="378.1" cy="68.7" r="0.42"/><circle cx="378.0" cy="74.5" r="0.42"/><circle cx="376.0" cy="74.7" r="0.42"/><circle cx="375.2" cy="72.4" r="0.42"/><circle cx="371.4" cy="74.9" r="0.42"/><circle cx="383.1" cy="83.3" r="0.42"/><circle cx="381.4" cy="78.0" r="0.42"/><circle cx="374.8" cy="81.1" r="0.42"/><circle cx="376.8" cy="74.7" r="0.42"/><circle cx="376.0" cy="75.4" r="0.42"/><circle cx="375.6" cy="74.6" r="0.42"/><circle cx="373.4" cy="73.4" r="0.42"/><circle cx="384.5" cy="74.7" r="0.42"/><circle cx="376.2" cy="77.2" r="0.42"/><circle cx="379.3" cy="70.3" r="0.42"/><circle cx="376.3" cy="78.9" r="0.42"/><circle cx="377.9" cy="75.5" r="0.42"/><circle cx="382.1" cy="72.2" r="0.42"/><circle cx="377.3" cy="72.8" r="0.42"/><circle cx="381.9" cy="66.8" r="0.42"/><circle cx="374.8" cy="72.8" r="0.42"/><circle cx="379.2" cy="77.5" r="0.42"/><circle cx="381.6" cy="68.4" r="0.42"/><circle cx="379.5" cy="73.8" r="0.42"/><circle cx="374.8" cy="77.3" r="0.42"/><circle cx="374.0" cy="66.3" r="0.42"/><circle cx="375.8" cy="68.7" r="0.42"/><circle cx="374.9" cy="76.6" r="0.42"/><circle cx="378.0" cy="81.7" r="0.42"/><circle cx="376.3" cy="68.6" r="0.42"/><circle cx="374.5" cy="71.1" r="0.42"/><circle cx="373.0" cy="76.8" r="0.42"/><circle cx="374.9" cy="66.7" r="0.42"/><circle cx="379.3" cy="74.5" r="0.42"/><circle cx="378.2" cy="75.4" r="0.42"/><circle cx="379.1" cy="75.2" r="0.42"/><circle cx="381.1" cy="76.8" r="0.42"/><circle cx="378.3" cy="76.7" r="0.42"/><circle cx="372.2" cy="74.3" r="0.42"/><circle cx="376.1" cy="75.9" r="0.42"/><circle cx="372.5" cy="81.9" r="0.42"/><circle cx="377.3" cy="69.9" r="0.42"/><circle cx="371.4" cy="73.8" r="0.42"/><circle cx="376.7" cy="72.0" r="0.42"/><circle cx="377.3" cy="72.3" r="0.42"/><circle cx="378.8" cy="72.0" r="0.42"/><circle cx="376.9" cy="79.1" r="0.42"/><circle cx="385.5" cy="70.8" r="0.42"/><circle cx="375.5" cy="71.5" r="0.42"/><circle cx="379.6" cy="70.2" r="0.42"/><circle cx="375.4" cy="74.9" r="0.42"/><circle cx="373.8" cy="71.0" r="0.42"/><circle cx="375.4" cy="66.2" r="0.42"/><circle cx="372.2" cy="73.3" r="0.42"/><circle cx="377.5" cy="74.2" r="0.42"/><circle cx="371.1" cy="73.1" r="0.42"/><circle cx="379.6" cy="77.3" r="0.42"/><circle cx="376.7" cy="71.3" r="0.42"/><circle cx="379.1" cy="72.6" r="0.42"/><circle cx="373.1" cy="71.6" r="0.42"/><circle cx="381.8" cy="75.9" r="0.42"/><circle cx="380.8" cy="73.0" r="0.42"/><circle cx="380.1" cy="72.5" r="0.42"/><circle cx="376.5" cy="85.4" r="0.42"/><circle cx="379.5" cy="72.9" r="0.42"/><circle cx="376.7" cy="76.4" r="0.42"/><circle cx="381.0" cy="72.9" r="0.42"/><circle cx="371.3" cy="73.8" r="0.42"/><circle cx="377.1" cy="75.5" r="0.42"/><circle cx="381.3" cy="76.3" r="0.42"/><circle cx="379.7" cy="70.4" r="0.42"/><circle cx="379.9" cy="83.8" r="0.42"/><circle cx="379.6" cy="76.1" r="0.42"/><circle cx="377.5" cy="82.5" r="0.42"/><circle cx="373.9" cy="74.5" r="0.42"/><circle cx="378.5" cy="78.1" r="0.42"/><circle cx="375.6" cy="76.3" r="0.42"/><circle cx="376.1" cy="75.5" r="0.42"/><circle cx="376.6" cy="70.2" r="0.42"/><circle cx="376.9" cy="78.7" r="0.42"/><circle cx="373.8" cy="74.0" r="0.42"/><circle cx="379.2" cy="70.5" r="0.42"/><circle cx="377.6" cy="70.5" r="0.42"/><circle cx="380.7" cy="84.7" r="0.42"/><circle cx="383.7" cy="74.1" r="0.42"/><circle cx="379.4" cy="75.5" r="0.42"/><circle cx="377.3" cy="81.5" r="0.42"/><circle cx="372.6" cy="79.4" r="0.42"/><circle cx="376.8" cy="80.9" r="0.42"/><circle cx="377.6" cy="72.2" r="0.42"/><circle cx="377.9" cy="78.1" r="0.42"/><circle cx="377.1" cy="77.0" r="0.42"/><circle cx="375.3" cy="66.0" r="0.42"/><circle cx="380.0" cy="77.9" r="0.42"/><circle cx="377.5" cy="75.3" r="0.42"/><circle cx="380.4" cy="73.1" r="0.42"/><circle cx="374.7" cy="74.2" r="0.42"/><circle cx="380.9" cy="69.2" r="0.42"/><circle cx="380.9" cy="72.3" r="0.42"/><circle cx="373.4" cy="80.3" r="0.42"/><circle cx="376.7" cy="69.5" r="0.42"/><circle cx="375.8" cy="78.9" r="0.42"/><circle cx="380.9" cy="73.2" r="0.42"/><circle cx="378.3" cy="78.0" r="0.42"/><circle cx="374.9" cy="76.5" r="0.42"/><circle cx="376.9" cy="72.7" r="0.42"/><circle cx="375.4" cy="75.3" r="0.42"/><circle cx="377.1" cy="72.6" r="0.42"/><circle cx="375.6" cy="79.7" r="0.42"/><circle cx="377.7" cy="78.7" r="0.42"/><circle cx="381.0" cy="77.5" r="0.42"/><circle cx="384.5" cy="71.5" r="0.42"/><circle cx="379.7" cy="73.7" r="0.42"/><circle cx="383.1" cy="82.1" r="0.42"/><circle cx="370.6" cy="70.9" r="0.42"/><circle cx="379.2" cy="78.3" r="0.42"/><circle cx="379.4" cy="74.7" r="0.42"/><circle cx="378.5" cy="77.7" r="0.42"/><circle cx="376.7" cy="79.3" r="0.42"/><circle cx="369.5" cy="77.7" r="0.42"/><circle cx="373.6" cy="79.0" r="0.42"/><circle cx="376.2" cy="71.3" r="0.42"/><circle cx="378.2" cy="71.2" r="0.42"/><circle cx="374.0" cy="68.4" r="0.42"/><circle cx="376.9" cy="77.1" r="0.42"/><circle cx="380.4" cy="74.4" r="0.42"/><circle cx="380.5" cy="75.1" r="0.42"/><circle cx="376.7" cy="77.4" r="0.42"/><circle cx="380.5" cy="73.6" r="0.42"/><circle cx="376.2" cy="74.3" r="0.42"/><circle cx="377.3" cy="71.2" r="0.42"/><circle cx="380.4" cy="73.3" r="0.42"/><circle cx="378.5" cy="71.5" r="0.42"/><circle cx="378.2" cy="76.6" r="0.42"/><circle cx="375.6" cy="83.5" r="0.42"/><circle cx="378.2" cy="82.5" r="0.42"/><circle cx="380.2" cy="72.2" r="0.42"/><circle cx="375.7" cy="76.8" r="0.42"/><circle cx="377.2" cy="75.2" r="0.42"/><circle cx="376.1" cy="67.4" r="0.42"/><circle cx="376.3" cy="65.7" r="0.42"/><circle cx="378.2" cy="72.0" r="0.42"/><circle cx="374.6" cy="74.1" r="0.42"/></g>
<g fill="#e4a0d0" fill-opacity="0.45"><circle cx="378.2" cy="69.4" r="0.4"/><circle cx="369.1" cy="71.6" r="0.4"/><circle cx="367.8" cy="72.2" r="0.4"/><circle cx="384.2" cy="71.7" r="0.4"/><circle cx="379.9" cy="69.8" r="0.4"/><circle cx="378.3" cy="76.1" r="0.4"/><circle cx="376.7" cy="81.4" r="0.4"/><circle cx="384.9" cy="79.2" r="0.4"/><circle cx="377.6" cy="72.2" r="0.4"/><circle cx="379.6" cy="76.5" r="0.4"/><circle cx="380.7" cy="77.7" r="0.4"/><circle cx="384.8" cy="66.1" r="0.4"/><circle cx="375.7" cy="83.3" r="0.4"/><circle cx="375.4" cy="73.2" r="0.4"/><circle cx="375.8" cy="69.7" r="0.4"/><circle cx="377.5" cy="92.6" r="0.4"/><circle cx="382.2" cy="71.3" r="0.4"/><circle cx="373.1" cy="75.6" r="0.4"/><circle cx="381.5" cy="73.1" r="0.4"/><circle cx="373.9" cy="83.3" r="0.4"/><circle cx="380.9" cy="75.8" r="0.4"/><circle cx="372.0" cy="68.7" r="0.4"/><circle cx="373.9" cy="64.6" r="0.4"/><circle cx="380.4" cy="74.2" r="0.4"/><circle cx="379.2" cy="89.2" r="0.4"/><circle cx="382.3" cy="71.1" r="0.4"/><circle cx="380.9" cy="84.9" r="0.4"/><circle cx="373.6" cy="72.3" r="0.4"/><circle cx="376.5" cy="68.4" r="0.4"/><circle cx="383.6" cy="63.6" r="0.4"/><circle cx="372.0" cy="76.4" r="0.4"/><circle cx="376.0" cy="79.0" r="0.4"/><circle cx="378.2" cy="76.7" r="0.4"/><circle cx="382.1" cy="65.2" r="0.4"/><circle cx="377.0" cy="73.7" r="0.4"/><circle cx="377.6" cy="79.3" r="0.4"/><circle cx="372.9" cy="74.2" r="0.4"/><circle cx="380.6" cy="80.1" r="0.4"/><circle cx="373.9" cy="90.2" r="0.4"/><circle cx="387.4" cy="69.2" r="0.4"/><circle cx="378.4" cy="93.1" r="0.4"/><circle cx="380.5" cy="79.3" r="0.4"/><circle cx="376.1" cy="74.8" r="0.4"/><circle cx="376.0" cy="74.7" r="0.4"/><circle cx="380.4" cy="75.6" r="0.4"/><circle cx="375.0" cy="70.8" r="0.4"/><circle cx="376.8" cy="72.6" r="0.4"/><circle cx="376.2" cy="84.3" r="0.4"/><circle cx="378.6" cy="81.0" r="0.4"/><circle cx="378.6" cy="78.4" r="0.4"/><circle cx="376.4" cy="76.2" r="0.4"/><circle cx="380.4" cy="71.5" r="0.4"/><circle cx="383.0" cy="78.2" r="0.4"/><circle cx="373.6" cy="75.1" r="0.4"/><circle cx="374.0" cy="79.0" r="0.4"/><circle cx="373.8" cy="84.9" r="0.4"/><circle cx="373.5" cy="64.4" r="0.4"/><circle cx="373.7" cy="65.9" r="0.4"/><circle cx="376.8" cy="84.4" r="0.4"/><circle cx="379.9" cy="70.0" r="0.4"/><circle cx="373.6" cy="88.7" r="0.4"/><circle cx="378.4" cy="78.0" r="0.4"/><circle cx="381.8" cy="92.7" r="0.4"/><circle cx="382.8" cy="78.8" r="0.4"/><circle cx="378.6" cy="81.7" r="0.4"/><circle cx="374.2" cy="71.6" r="0.4"/><circle cx="377.2" cy="72.3" r="0.4"/><circle cx="376.7" cy="78.6" r="0.4"/><circle cx="387.5" cy="72.9" r="0.4"/><circle cx="376.5" cy="77.0" r="0.4"/><circle cx="379.0" cy="84.3" r="0.4"/><circle cx="374.8" cy="73.1" r="0.4"/><circle cx="369.6" cy="72.4" r="0.4"/><circle cx="379.4" cy="78.3" r="0.4"/><circle cx="372.4" cy="75.8" r="0.4"/><circle cx="377.1" cy="81.0" r="0.4"/><circle cx="374.3" cy="76.5" r="0.4"/><circle cx="368.8" cy="71.1" r="0.4"/><circle cx="384.3" cy="64.9" r="0.4"/><circle cx="375.5" cy="79.3" r="0.4"/><circle cx="375.3" cy="73.2" r="0.4"/><circle cx="376.7" cy="78.0" r="0.4"/><circle cx="376.6" cy="66.7" r="0.4"/><circle cx="376.3" cy="72.9" r="0.4"/><circle cx="374.5" cy="79.4" r="0.4"/><circle cx="379.9" cy="83.4" r="0.4"/><circle cx="374.8" cy="83.5" r="0.4"/><circle cx="382.3" cy="84.8" r="0.4"/><circle cx="383.3" cy="77.1" r="0.4"/><circle cx="376.2" cy="83.0" r="0.4"/><circle cx="370.9" cy="79.3" r="0.4"/><circle cx="374.6" cy="75.8" r="0.4"/><circle cx="369.2" cy="72.7" r="0.4"/><circle cx="376.9" cy="83.3" r="0.4"/><circle cx="381.5" cy="77.5" r="0.4"/><circle cx="376.1" cy="73.0" r="0.4"/><circle cx="378.8" cy="76.5" r="0.4"/><circle cx="379.7" cy="88.5" r="0.4"/><circle cx="376.9" cy="69.0" r="0.4"/><circle cx="373.1" cy="69.3" r="0.4"/><circle cx="371.6" cy="85.8" r="0.4"/><circle cx="378.0" cy="68.9" r="0.4"/><circle cx="379.9" cy="85.6" r="0.4"/><circle cx="375.4" cy="73.9" r="0.4"/><circle cx="375.5" cy="79.7" r="0.4"/><circle cx="379.9" cy="85.1" r="0.4"/><circle cx="382.5" cy="85.1" r="0.4"/><circle cx="383.1" cy="82.0" r="0.4"/><circle cx="370.1" cy="77.2" r="0.4"/><circle cx="378.4" cy="75.7" r="0.4"/><circle cx="381.1" cy="75.8" r="0.4"/><circle cx="372.8" cy="86.7" r="0.4"/><circle cx="380.0" cy="79.3" r="0.4"/><circle cx="381.2" cy="84.4" r="0.4"/><circle cx="378.5" cy="63.3" r="0.4"/><circle cx="374.0" cy="75.3" r="0.4"/><circle cx="372.6" cy="79.2" r="0.4"/><circle cx="382.4" cy="75.1" r="0.4"/><circle cx="371.9" cy="90.2" r="0.4"/><circle cx="375.0" cy="70.6" r="0.4"/></g>
<g fill="#8a6aa8" fill-opacity="0.38"><circle cx="401.8" cy="80.6" r="0.4"/><circle cx="394.7" cy="82.5" r="0.4"/><circle cx="396.3" cy="73.9" r="0.4"/><circle cx="401.3" cy="82.4" r="0.4"/><circle cx="395.2" cy="80.2" r="0.4"/><circle cx="399.3" cy="92.6" r="0.4"/><circle cx="394.7" cy="85.4" r="0.4"/><circle cx="399.6" cy="77.9" r="0.4"/><circle cx="405.4" cy="83.0" r="0.4"/><circle cx="409.5" cy="80.1" r="0.4"/><circle cx="395.5" cy="75.8" r="0.4"/><circle cx="403.8" cy="81.4" r="0.4"/><circle cx="410.5" cy="80.6" r="0.4"/><circle cx="408.0" cy="86.1" r="0.4"/><circle cx="401.2" cy="71.1" r="0.4"/><circle cx="391.2" cy="71.3" r="0.4"/><circle cx="411.9" cy="74.3" r="0.4"/><circle cx="409.2" cy="81.4" r="0.4"/><circle cx="412.9" cy="83.5" r="0.4"/><circle cx="399.2" cy="77.5" r="0.4"/><circle cx="400.6" cy="79.4" r="0.4"/><circle cx="396.0" cy="78.3" r="0.4"/><circle cx="412.1" cy="70.0" r="0.4"/><circle cx="401.9" cy="74.0" r="0.4"/><circle cx="401.4" cy="82.7" r="0.4"/><circle cx="399.6" cy="82.4" r="0.4"/><circle cx="388.1" cy="84.0" r="0.4"/><circle cx="395.5" cy="81.6" r="0.4"/><circle cx="394.3" cy="79.6" r="0.4"/><circle cx="411.7" cy="79.9" r="0.4"/><circle cx="401.9" cy="71.4" r="0.4"/><circle cx="410.7" cy="87.5" r="0.4"/><circle cx="400.2" cy="77.4" r="0.4"/><circle cx="387.9" cy="82.9" r="0.4"/><circle cx="420.3" cy="82.1" r="0.4"/><circle cx="409.5" cy="81.2" r="0.4"/><circle cx="392.6" cy="85.2" r="0.4"/><circle cx="390.7" cy="77.4" r="0.4"/><circle cx="402.1" cy="82.9" r="0.4"/><circle cx="403.1" cy="80.4" r="0.4"/><circle cx="394.3" cy="72.1" r="0.4"/><circle cx="400.5" cy="74.9" r="0.4"/><circle cx="390.2" cy="72.2" r="0.4"/><circle cx="396.3" cy="69.2" r="0.4"/><circle cx="389.9" cy="70.3" r="0.4"/><circle cx="401.4" cy="80.5" r="0.4"/><circle cx="415.1" cy="71.0" r="0.4"/><circle cx="394.9" cy="83.1" r="0.4"/><circle cx="398.4" cy="76.9" r="0.4"/><circle cx="412.8" cy="76.8" r="0.4"/><circle cx="391.3" cy="71.9" r="0.4"/><circle cx="402.5" cy="80.0" r="0.4"/><circle cx="389.7" cy="73.6" r="0.4"/><circle cx="404.0" cy="81.4" r="0.4"/><circle cx="395.2" cy="81.6" r="0.4"/><circle cx="404.3" cy="69.6" r="0.4"/><circle cx="397.7" cy="80.6" r="0.4"/><circle cx="397.9" cy="82.3" r="0.4"/><circle cx="419.6" cy="72.9" r="0.4"/><circle cx="407.2" cy="84.7" r="0.4"/><circle cx="407.4" cy="79.2" r="0.4"/><circle cx="391.3" cy="81.6" r="0.4"/><circle cx="421.2" cy="82.0" r="0.4"/><circle cx="413.6" cy="73.9" r="0.4"/><circle cx="411.0" cy="86.4" r="0.4"/><circle cx="411.7" cy="78.4" r="0.4"/><circle cx="391.0" cy="77.6" r="0.4"/><circle cx="400.7" cy="73.5" r="0.4"/><circle cx="398.8" cy="78.0" r="0.4"/><circle cx="414.5" cy="85.0" r="0.4"/><circle cx="399.7" cy="84.5" r="0.4"/><circle cx="394.2" cy="76.8" r="0.4"/><circle cx="406.8" cy="72.3" r="0.4"/><circle cx="397.9" cy="71.9" r="0.4"/><circle cx="400.9" cy="86.7" r="0.4"/><circle cx="394.4" cy="79.6" r="0.4"/><circle cx="393.3" cy="72.8" r="0.4"/><circle cx="390.7" cy="85.8" r="0.4"/><circle cx="417.7" cy="80.9" r="0.4"/><circle cx="394.6" cy="82.0" r="0.4"/><circle cx="397.5" cy="82.5" r="0.4"/><circle cx="402.2" cy="79.9" r="0.4"/><circle cx="404.6" cy="75.6" r="0.4"/><circle cx="397.0" cy="69.9" r="0.4"/><circle cx="396.7" cy="71.4" r="0.4"/><circle cx="398.9" cy="73.7" r="0.4"/><circle cx="400.8" cy="80.8" r="0.4"/><circle cx="389.3" cy="74.4" r="0.4"/><circle cx="392.9" cy="82.2" r="0.4"/><circle cx="412.8" cy="82.8" r="0.4"/><circle cx="397.4" cy="85.8" r="0.4"/><circle cx="388.6" cy="86.0" r="0.4"/><circle cx="419.9" cy="86.4" r="0.4"/><circle cx="392.3" cy="79.3" r="0.4"/><circle cx="398.4" cy="79.0" r="0.4"/><circle cx="388.9" cy="75.1" r="0.4"/><circle cx="403.5" cy="79.6" r="0.4"/><circle cx="409.0" cy="78.9" r="0.4"/><circle cx="417.6" cy="74.9" r="0.4"/><circle cx="390.6" cy="85.1" r="0.4"/><circle cx="392.9" cy="81.2" r="0.4"/><circle cx="399.5" cy="73.3" r="0.4"/><circle cx="397.4" cy="75.9" r="0.4"/><circle cx="396.3" cy="82.3" r="0.4"/><circle cx="404.9" cy="75.6" r="0.4"/><circle cx="393.2" cy="79.9" r="0.4"/><circle cx="399.2" cy="83.6" r="0.4"/><circle cx="419.9" cy="82.7" r="0.4"/><circle cx="399.7" cy="77.6" r="0.4"/><circle cx="393.6" cy="74.0" r="0.4"/><circle cx="392.5" cy="76.5" r="0.4"/><circle cx="396.8" cy="82.2" r="0.4"/><circle cx="397.0" cy="77.5" r="0.4"/><circle cx="390.9" cy="86.7" r="0.4"/><circle cx="403.8" cy="87.4" r="0.4"/><circle cx="406.0" cy="85.9" r="0.4"/><circle cx="398.1" cy="82.1" r="0.4"/><circle cx="420.3" cy="72.4" r="0.4"/><circle cx="408.8" cy="87.0" r="0.4"/><circle cx="403.2" cy="82.3" r="0.4"/><circle cx="409.6" cy="75.1" r="0.4"/><circle cx="403.1" cy="74.1" r="0.4"/><circle cx="394.8" cy="75.3" r="0.4"/><circle cx="398.9" cy="79.2" r="0.4"/><circle cx="403.5" cy="71.2" r="0.4"/><circle cx="415.2" cy="84.4" r="0.4"/><circle cx="405.6" cy="76.7" r="0.4"/><circle cx="399.3" cy="81.3" r="0.4"/><circle cx="403.2" cy="69.9" r="0.4"/><circle cx="405.7" cy="93.4" r="0.4"/><circle cx="402.8" cy="77.9" r="0.4"/><circle cx="410.6" cy="72.4" r="0.4"/><circle cx="401.3" cy="86.0" r="0.4"/><circle cx="398.5" cy="76.4" r="0.4"/><circle cx="400.9" cy="76.2" r="0.4"/><circle cx="411.9" cy="73.8" r="0.4"/><circle cx="406.7" cy="72.1" r="0.4"/><circle cx="405.2" cy="78.0" r="0.4"/><circle cx="391.8" cy="76.2" r="0.4"/><circle cx="411.9" cy="72.8" r="0.4"/><circle cx="391.8" cy="85.9" r="0.4"/><circle cx="400.9" cy="86.4" r="0.4"/><circle cx="402.5" cy="74.0" r="0.4"/><circle cx="399.5" cy="84.8" r="0.4"/><circle cx="407.3" cy="78.5" r="0.4"/><circle cx="400.4" cy="77.9" r="0.4"/><circle cx="395.5" cy="88.4" r="0.4"/><circle cx="400.1" cy="72.7" r="0.4"/><circle cx="396.3" cy="82.2" r="0.4"/><circle cx="404.9" cy="77.8" r="0.4"/><circle cx="394.8" cy="78.6" r="0.4"/><circle cx="406.2" cy="76.0" r="0.4"/><circle cx="402.9" cy="84.8" r="0.4"/><circle cx="405.0" cy="78.6" r="0.4"/><circle cx="416.4" cy="81.9" r="0.4"/><circle cx="397.3" cy="82.3" r="0.4"/><circle cx="403.1" cy="74.1" r="0.4"/><circle cx="400.6" cy="77.7" r="0.4"/><circle cx="397.8" cy="76.2" r="0.4"/><circle cx="399.7" cy="79.0" r="0.4"/><circle cx="391.2" cy="81.8" r="0.4"/><circle cx="390.6" cy="77.3" r="0.4"/><circle cx="410.1" cy="74.9" r="0.4"/><circle cx="396.1" cy="84.0" r="0.4"/><circle cx="397.0" cy="77.0" r="0.4"/><circle cx="401.7" cy="83.9" r="0.4"/><circle cx="392.2" cy="72.9" r="0.4"/><circle cx="393.4" cy="74.2" r="0.4"/><circle cx="402.3" cy="73.9" r="0.4"/><circle cx="400.9" cy="80.6" r="0.4"/><circle cx="394.4" cy="79.2" r="0.4"/><circle cx="412.6" cy="80.2" r="0.4"/><circle cx="395.1" cy="78.2" r="0.4"/><circle cx="393.0" cy="79.9" r="0.4"/><circle cx="406.6" cy="74.3" r="0.4"/><circle cx="398.4" cy="84.2" r="0.4"/><circle cx="396.2" cy="79.5" r="0.4"/><circle cx="392.2" cy="74.3" r="0.4"/><circle cx="396.1" cy="89.4" r="0.4"/><circle cx="396.9" cy="75.9" r="0.4"/><circle cx="395.8" cy="77.7" r="0.4"/><circle cx="404.9" cy="79.4" r="0.4"/><circle cx="415.4" cy="79.6" r="0.4"/><circle cx="410.9" cy="79.9" r="0.4"/><circle cx="404.5" cy="71.3" r="0.4"/><circle cx="399.0" cy="78.2" r="0.4"/><circle cx="406.6" cy="76.6" r="0.4"/><circle cx="396.7" cy="77.2" r="0.4"/><circle cx="398.3" cy="80.5" r="0.4"/><circle cx="390.5" cy="73.8" r="0.4"/><circle cx="402.2" cy="79.2" r="0.4"/><circle cx="397.2" cy="75.6" r="0.4"/><circle cx="393.7" cy="78.2" r="0.4"/><circle cx="408.9" cy="73.2" r="0.4"/><circle cx="411.4" cy="82.7" r="0.4"/><circle cx="396.6" cy="82.4" r="0.4"/><circle cx="389.0" cy="69.8" r="0.4"/><circle cx="390.3" cy="76.5" r="0.4"/><circle cx="397.6" cy="75.9" r="0.4"/><circle cx="403.7" cy="71.4" r="0.4"/><circle cx="395.0" cy="76.4" r="0.4"/><circle cx="391.3" cy="71.6" r="0.4"/><circle cx="392.5" cy="78.4" r="0.4"/><circle cx="404.4" cy="81.3" r="0.4"/><circle cx="392.5" cy="74.5" r="0.4"/><circle cx="393.1" cy="80.7" r="0.4"/><circle cx="396.4" cy="74.6" r="0.4"/><circle cx="402.5" cy="83.7" r="0.4"/><circle cx="402.6" cy="83.8" r="0.4"/><circle cx="401.0" cy="84.6" r="0.4"/><circle cx="409.3" cy="78.0" r="0.4"/><circle cx="410.8" cy="79.3" r="0.4"/><circle cx="400.7" cy="73.9" r="0.4"/><circle cx="397.8" cy="82.4" r="0.4"/><circle cx="390.2" cy="81.7" r="0.4"/><circle cx="402.6" cy="79.9" r="0.4"/><circle cx="404.9" cy="74.7" r="0.4"/><circle cx="405.0" cy="75.2" r="0.4"/><circle cx="406.5" cy="69.3" r="0.4"/><circle cx="405.2" cy="77.3" r="0.4"/><circle cx="406.1" cy="73.9" r="0.4"/><circle cx="395.4" cy="89.7" r="0.4"/><circle cx="393.8" cy="75.0" r="0.4"/><circle cx="397.9" cy="73.4" r="0.4"/><circle cx="408.9" cy="87.1" r="0.4"/><circle cx="394.7" cy="69.9" r="0.4"/><circle cx="408.8" cy="84.0" r="0.4"/><circle cx="406.2" cy="84.3" r="0.4"/><circle cx="393.5" cy="77.7" r="0.4"/><circle cx="389.6" cy="71.4" r="0.4"/><circle cx="407.4" cy="75.1" r="0.4"/><circle cx="417.1" cy="78.9" r="0.4"/><circle cx="395.2" cy="82.5" r="0.4"/><circle cx="413.5" cy="80.9" r="0.4"/><circle cx="390.9" cy="80.4" r="0.4"/><circle cx="410.3" cy="76.0" r="0.4"/><circle cx="394.2" cy="83.6" r="0.4"/><circle cx="401.0" cy="73.0" r="0.4"/><circle cx="397.2" cy="74.7" r="0.4"/><circle cx="402.2" cy="79.0" r="0.4"/><circle cx="408.6" cy="82.0" r="0.4"/><circle cx="388.3" cy="80.5" r="0.4"/></g>
<g fill="#4a2e6e" fill-opacity="0.5"><circle cx="407.0" cy="74.7" r="0.4"/><circle cx="407.6" cy="72.7" r="0.4"/><circle cx="398.7" cy="75.7" r="0.4"/><circle cx="398.2" cy="69.5" r="0.4"/><circle cx="407.6" cy="72.4" r="0.4"/><circle cx="401.6" cy="71.0" r="0.4"/><circle cx="397.0" cy="71.5" r="0.4"/><circle cx="401.4" cy="74.5" r="0.4"/><circle cx="392.7" cy="75.3" r="0.4"/><circle cx="397.7" cy="71.7" r="0.4"/><circle cx="406.1" cy="73.7" r="0.4"/><circle cx="396.1" cy="77.5" r="0.4"/><circle cx="399.1" cy="74.3" r="0.4"/><circle cx="403.9" cy="76.6" r="0.4"/><circle cx="400.9" cy="75.8" r="0.4"/><circle cx="399.7" cy="76.0" r="0.4"/><circle cx="399.6" cy="73.1" r="0.4"/><circle cx="411.5" cy="74.4" r="0.4"/><circle cx="403.5" cy="78.3" r="0.4"/><circle cx="404.6" cy="72.2" r="0.4"/><circle cx="406.3" cy="71.4" r="0.4"/><circle cx="408.1" cy="76.2" r="0.4"/><circle cx="400.4" cy="72.5" r="0.4"/><circle cx="403.8" cy="73.8" r="0.4"/><circle cx="398.6" cy="74.9" r="0.4"/><circle cx="393.8" cy="72.9" r="0.4"/><circle cx="401.2" cy="73.3" r="0.4"/><circle cx="404.4" cy="71.3" r="0.4"/><circle cx="405.6" cy="73.4" r="0.4"/><circle cx="400.1" cy="71.1" r="0.4"/><circle cx="397.7" cy="74.5" r="0.4"/><circle cx="398.7" cy="73.9" r="0.4"/><circle cx="407.8" cy="75.9" r="0.4"/><circle cx="410.0" cy="73.2" r="0.4"/><circle cx="398.1" cy="75.8" r="0.4"/><circle cx="404.4" cy="76.0" r="0.4"/><circle cx="403.0" cy="76.2" r="0.4"/><circle cx="406.8" cy="75.2" r="0.4"/><circle cx="405.3" cy="74.6" r="0.4"/><circle cx="404.0" cy="74.3" r="0.4"/><circle cx="407.5" cy="72.8" r="0.4"/><circle cx="410.8" cy="73.6" r="0.4"/><circle cx="407.4" cy="73.6" r="0.4"/><circle cx="401.9" cy="77.9" r="0.4"/><circle cx="401.6" cy="71.2" r="0.4"/><circle cx="399.8" cy="73.2" r="0.4"/><circle cx="412.7" cy="74.2" r="0.4"/><circle cx="407.2" cy="71.8" r="0.4"/><circle cx="404.6" cy="75.1" r="0.4"/><circle cx="411.1" cy="72.4" r="0.4"/><circle cx="405.7" cy="74.4" r="0.4"/><circle cx="398.4" cy="73.8" r="0.4"/><circle cx="401.8" cy="69.1" r="0.4"/><circle cx="405.7" cy="74.9" r="0.4"/><circle cx="401.0" cy="71.1" r="0.4"/><circle cx="409.7" cy="74.3" r="0.4"/><circle cx="407.6" cy="76.6" r="0.4"/><circle cx="400.7" cy="75.4" r="0.4"/><circle cx="401.9" cy="73.7" r="0.4"/><circle cx="402.6" cy="73.8" r="0.4"/><circle cx="408.0" cy="74.0" r="0.4"/><circle cx="402.3" cy="73.2" r="0.4"/><circle cx="404.5" cy="72.0" r="0.4"/><circle cx="400.7" cy="73.7" r="0.4"/><circle cx="400.5" cy="73.6" r="0.4"/><circle cx="400.3" cy="77.8" r="0.4"/><circle cx="409.0" cy="74.7" r="0.4"/><circle cx="402.8" cy="78.2" r="0.4"/><circle cx="404.5" cy="73.6" r="0.4"/><circle cx="404.4" cy="74.4" r="0.4"/><circle cx="409.3" cy="73.8" r="0.4"/><circle cx="412.4" cy="72.0" r="0.4"/><circle cx="406.1" cy="71.8" r="0.4"/><circle cx="411.2" cy="73.1" r="0.4"/><circle cx="402.7" cy="75.6" r="0.4"/><circle cx="408.6" cy="71.6" r="0.4"/><circle cx="401.4" cy="71.0" r="0.4"/><circle cx="403.6" cy="73.6" r="0.4"/><circle cx="401.4" cy="72.4" r="0.4"/><circle cx="401.3" cy="72.3" r="0.4"/><circle cx="405.4" cy="76.8" r="0.4"/><circle cx="394.3" cy="73.6" r="0.4"/><circle cx="401.1" cy="74.8" r="0.4"/><circle cx="398.7" cy="73.5" r="0.4"/><circle cx="398.3" cy="75.2" r="0.4"/><circle cx="403.4" cy="73.5" r="0.4"/><circle cx="404.7" cy="73.3" r="0.4"/><circle cx="396.0" cy="75.0" r="0.4"/><circle cx="404.3" cy="73.5" r="0.4"/><circle cx="407.4" cy="76.2" r="0.4"/><circle cx="398.1" cy="72.2" r="0.4"/><circle cx="410.0" cy="76.6" r="0.4"/><circle cx="399.7" cy="71.4" r="0.4"/><circle cx="400.1" cy="72.8" r="0.4"/><circle cx="395.9" cy="73.9" r="0.4"/><circle cx="397.2" cy="71.4" r="0.4"/><circle cx="407.1" cy="72.4" r="0.4"/><circle cx="402.7" cy="75.1" r="0.4"/><circle cx="406.7" cy="73.1" r="0.4"/><circle cx="403.2" cy="72.1" r="0.4"/><circle cx="410.9" cy="75.1" r="0.4"/><circle cx="398.0" cy="73.8" r="0.4"/><circle cx="406.2" cy="74.8" r="0.4"/><circle cx="411.2" cy="76.5" r="0.4"/><circle cx="400.6" cy="73.6" r="0.4"/><circle cx="397.2" cy="74.3" r="0.4"/><circle cx="403.7" cy="79.2" r="0.4"/><circle cx="403.4" cy="69.6" r="0.4"/><circle cx="400.0" cy="74.0" r="0.4"/><circle cx="397.3" cy="72.1" r="0.4"/><circle cx="401.4" cy="74.5" r="0.4"/><circle cx="402.3" cy="72.0" r="0.4"/><circle cx="406.5" cy="72.7" r="0.4"/><circle cx="400.8" cy="71.0" r="0.4"/><circle cx="399.5" cy="75.1" r="0.4"/><circle cx="395.7" cy="73.7" r="0.4"/><circle cx="406.2" cy="73.0" r="0.4"/><circle cx="404.1" cy="71.6" r="0.4"/><circle cx="408.9" cy="76.0" r="0.4"/><circle cx="404.1" cy="70.3" r="0.4"/><circle cx="398.3" cy="75.8" r="0.4"/><circle cx="410.7" cy="74.4" r="0.4"/><circle cx="408.6" cy="72.6" r="0.4"/><circle cx="402.1" cy="73.8" r="0.4"/><circle cx="404.9" cy="70.7" r="0.4"/><circle cx="407.2" cy="76.4" r="0.4"/><circle cx="397.8" cy="71.1" r="0.4"/><circle cx="404.6" cy="72.5" r="0.4"/><circle cx="392.3" cy="75.4" r="0.4"/><circle cx="403.7" cy="72.8" r="0.4"/><circle cx="412.5" cy="74.1" r="0.4"/><circle cx="399.6" cy="74.0" r="0.4"/><circle cx="398.3" cy="72.3" r="0.4"/><circle cx="404.7" cy="72.7" r="0.4"/><circle cx="401.0" cy="77.1" r="0.4"/><circle cx="406.9" cy="75.4" r="0.4"/><circle cx="405.4" cy="74.8" r="0.4"/><circle cx="409.6" cy="73.8" r="0.4"/><circle cx="411.3" cy="71.9" r="0.4"/><circle cx="401.9" cy="71.0" r="0.4"/><circle cx="401.5" cy="74.8" r="0.4"/><circle cx="409.5" cy="72.5" r="0.4"/><circle cx="403.0" cy="73.1" r="0.4"/><circle cx="399.7" cy="71.4" r="0.4"/><circle cx="403.3" cy="70.3" r="0.4"/><circle cx="403.5" cy="73.8" r="0.4"/><circle cx="400.0" cy="71.8" r="0.4"/><circle cx="396.8" cy="77.5" r="0.4"/><circle cx="397.0" cy="76.9" r="0.4"/><circle cx="405.7" cy="73.1" r="0.4"/><circle cx="397.8" cy="75.9" r="0.4"/><circle cx="410.8" cy="71.9" r="0.4"/><circle cx="401.7" cy="75.9" r="0.4"/><circle cx="404.5" cy="77.8" r="0.4"/><circle cx="400.4" cy="74.9" r="0.4"/><circle cx="397.4" cy="78.0" r="0.4"/><circle cx="399.7" cy="69.4" r="0.4"/><circle cx="402.4" cy="73.5" r="0.4"/><circle cx="411.6" cy="73.1" r="0.4"/><circle cx="402.9" cy="75.0" r="0.4"/><circle cx="410.1" cy="73.7" r="0.4"/><circle cx="407.7" cy="74.8" r="0.4"/><circle cx="401.7" cy="74.0" r="0.4"/><circle cx="403.1" cy="72.0" r="0.4"/><circle cx="408.5" cy="71.0" r="0.4"/><circle cx="408.3" cy="75.7" r="0.4"/><circle cx="402.6" cy="72.3" r="0.4"/><circle cx="402.0" cy="74.7" r="0.4"/><circle cx="406.3" cy="74.4" r="0.4"/><circle cx="407.5" cy="72.7" r="0.4"/><circle cx="404.1" cy="70.7" r="0.4"/><circle cx="406.4" cy="74.1" r="0.4"/><circle cx="401.1" cy="76.1" r="0.4"/><circle cx="403.2" cy="70.9" r="0.4"/><circle cx="407.8" cy="78.8" r="0.4"/><circle cx="400.7" cy="73.9" r="0.4"/><circle cx="401.9" cy="74.5" r="0.4"/><circle cx="405.9" cy="76.4" r="0.4"/><circle cx="398.6" cy="76.9" r="0.4"/><circle cx="398.8" cy="74.4" r="0.4"/><circle cx="408.2" cy="75.2" r="0.4"/><circle cx="398.8" cy="72.4" r="0.4"/><circle cx="400.9" cy="73.7" r="0.4"/><circle cx="408.2" cy="71.2" r="0.4"/><circle cx="405.1" cy="75.0" r="0.4"/><circle cx="405.5" cy="74.7" r="0.4"/><circle cx="409.8" cy="74.8" r="0.4"/><circle cx="406.9" cy="74.9" r="0.4"/><circle cx="411.1" cy="70.0" r="0.4"/><circle cx="408.8" cy="73.3" r="0.4"/><circle cx="401.7" cy="71.9" r="0.4"/><circle cx="394.6" cy="73.0" r="0.4"/><circle cx="399.9" cy="74.8" r="0.4"/><circle cx="396.4" cy="76.7" r="0.4"/><circle cx="404.2" cy="73.3" r="0.4"/><circle cx="399.8" cy="72.2" r="0.4"/><circle cx="397.9" cy="72.7" r="0.4"/><circle cx="403.0" cy="73.4" r="0.4"/><circle cx="396.6" cy="73.3" r="0.4"/><circle cx="399.0" cy="74.1" r="0.4"/><circle cx="411.4" cy="75.1" r="0.4"/><circle cx="401.6" cy="70.6" r="0.4"/><circle cx="396.6" cy="70.4" r="0.4"/><circle cx="406.3" cy="72.3" r="0.4"/><circle cx="403.3" cy="72.6" r="0.4"/><circle cx="403.4" cy="76.6" r="0.4"/><circle cx="399.9" cy="73.1" r="0.4"/><circle cx="399.4" cy="75.5" r="0.4"/><circle cx="398.4" cy="71.5" r="0.4"/><circle cx="396.8" cy="71.0" r="0.4"/><circle cx="405.1" cy="78.9" r="0.4"/><circle cx="398.5" cy="75.7" r="0.4"/><circle cx="404.1" cy="71.6" r="0.4"/><circle cx="401.8" cy="73.3" r="0.4"/><circle cx="399.9" cy="77.7" r="0.4"/><circle cx="394.4" cy="74.6" r="0.4"/><circle cx="404.5" cy="72.6" r="0.4"/><circle cx="403.7" cy="75.6" r="0.4"/><circle cx="403.7" cy="74.6" r="0.4"/></g>
<line x1="386.30" y1="43.10" x2="386.30" y2="99.60" stroke="#8a8a8a" stroke-width="0.8" />
<line x1="363.60" y1="67.60" x2="428.30" y2="67.60" stroke="#888" stroke-width="1.3" />
<rect x="363.60" y="43.10" width="64.70" height="56.50" fill="none" stroke="#111" stroke-width="1.4"/>
<line x1="361.00" y1="48.30" x2="363.60" y2="48.30" stroke="#111" stroke-width="0.9" />
<line x1="361.80" y1="57.25" x2="363.60" y2="57.25" stroke="#111" stroke-width="0.75" />
<line x1="361.80" y1="54.99" x2="363.60" y2="54.99" stroke="#111" stroke-width="0.75" />
<line x1="361.80" y1="53.39" x2="363.60" y2="53.39" stroke="#111" stroke-width="0.75" />
<line x1="361.80" y1="52.15" x2="363.60" y2="52.15" stroke="#111" stroke-width="0.75" />
<line x1="361.80" y1="51.14" x2="363.60" y2="51.14" stroke="#111" stroke-width="0.75" />
<line x1="361.80" y1="50.28" x2="363.60" y2="50.28" stroke="#111" stroke-width="0.75" />
<line x1="361.80" y1="49.54" x2="363.60" y2="49.54" stroke="#111" stroke-width="0.75" />
<line x1="361.80" y1="48.89" x2="363.60" y2="48.89" stroke="#111" stroke-width="0.75" />
<line x1="361.00" y1="61.10" x2="363.60" y2="61.10" stroke="#111" stroke-width="0.9" />
<line x1="361.80" y1="70.05" x2="363.60" y2="70.05" stroke="#111" stroke-width="0.75" />
<line x1="361.80" y1="67.79" x2="363.60" y2="67.79" stroke="#111" stroke-width="0.75" />
<line x1="361.80" y1="66.19" x2="363.60" y2="66.19" stroke="#111" stroke-width="0.75" />
<line x1="361.80" y1="64.95" x2="363.60" y2="64.95" stroke="#111" stroke-width="0.75" />
<line x1="361.80" y1="63.94" x2="363.60" y2="63.94" stroke="#111" stroke-width="0.75" />
<line x1="361.80" y1="63.08" x2="363.60" y2="63.08" stroke="#111" stroke-width="0.75" />
<line x1="361.80" y1="62.34" x2="363.60" y2="62.34" stroke="#111" stroke-width="0.75" />
<line x1="361.80" y1="61.69" x2="363.60" y2="61.69" stroke="#111" stroke-width="0.75" />
<line x1="361.80" y1="74.60" x2="363.60" y2="74.60" stroke="#111" stroke-width="0.75" />
<line x1="361.80" y1="78.00" x2="363.60" y2="78.00" stroke="#111" stroke-width="0.75" />
<line x1="361.80" y1="81.00" x2="363.60" y2="81.00" stroke="#111" stroke-width="0.75" />
<line x1="361.80" y1="84.00" x2="363.60" y2="84.00" stroke="#111" stroke-width="0.75" />
<line x1="361.80" y1="87.50" x2="363.60" y2="87.50" stroke="#111" stroke-width="0.75" />
<line x1="361.80" y1="90.30" x2="363.60" y2="90.30" stroke="#111" stroke-width="0.75" />
<line x1="361.80" y1="93.20" x2="363.60" y2="93.20" stroke="#111" stroke-width="0.75" />
<line x1="361.80" y1="96.30" x2="363.60" y2="96.30" stroke="#111" stroke-width="0.75" />
<text x="359.00" y="49.60" font-size="3.9" text-anchor="middle" font-weight="normal" fill="#808080" >10⁵</text>
<text x="359.00" y="62.40" font-size="3.9" text-anchor="middle" font-weight="normal" fill="#808080" >10⁴</text>
<text x="359.00" y="75.90" font-size="3.9" text-anchor="middle" font-weight="normal" fill="#808080" >10³</text>
<text x="359.00" y="88.80" font-size="3.9" text-anchor="middle" font-weight="normal" fill="#808080" >0</text>
<line x1="389.40" y1="99.60" x2="389.40" y2="102.20" stroke="#111" stroke-width="0.9" />
<line x1="381.36" y1="99.60" x2="381.36" y2="101.40" stroke="#111" stroke-width="0.75" />
<line x1="383.39" y1="99.60" x2="383.39" y2="101.40" stroke="#111" stroke-width="0.75" />
<line x1="384.82" y1="99.60" x2="384.82" y2="101.40" stroke="#111" stroke-width="0.75" />
<line x1="385.94" y1="99.60" x2="385.94" y2="101.40" stroke="#111" stroke-width="0.75" />
<line x1="386.85" y1="99.60" x2="386.85" y2="101.40" stroke="#111" stroke-width="0.75" />
<line x1="387.62" y1="99.60" x2="387.62" y2="101.40" stroke="#111" stroke-width="0.75" />
<line x1="388.29" y1="99.60" x2="388.29" y2="101.40" stroke="#111" stroke-width="0.75" />
<line x1="388.87" y1="99.60" x2="388.87" y2="101.40" stroke="#111" stroke-width="0.75" />
<line x1="406.50" y1="99.60" x2="406.50" y2="102.20" stroke="#111" stroke-width="0.9" />
<line x1="394.62" y1="99.60" x2="394.62" y2="101.40" stroke="#111" stroke-width="0.75" />
<line x1="397.61" y1="99.60" x2="397.61" y2="101.40" stroke="#111" stroke-width="0.75" />
<line x1="399.74" y1="99.60" x2="399.74" y2="101.40" stroke="#111" stroke-width="0.75" />
<line x1="401.38" y1="99.60" x2="401.38" y2="101.40" stroke="#111" stroke-width="0.75" />
<line x1="402.73" y1="99.60" x2="402.73" y2="101.40" stroke="#111" stroke-width="0.75" />
<line x1="403.87" y1="99.60" x2="403.87" y2="101.40" stroke="#111" stroke-width="0.75" />
<line x1="404.85" y1="99.60" x2="404.85" y2="101.40" stroke="#111" stroke-width="0.75" />
<line x1="405.72" y1="99.60" x2="405.72" y2="101.40" stroke="#111" stroke-width="0.75" />
<line x1="422.20" y1="99.60" x2="422.20" y2="102.20" stroke="#111" stroke-width="0.9" />
<line x1="411.23" y1="99.60" x2="411.23" y2="101.40" stroke="#111" stroke-width="0.75" />
<line x1="413.99" y1="99.60" x2="413.99" y2="101.40" stroke="#111" stroke-width="0.75" />
<line x1="415.95" y1="99.60" x2="415.95" y2="101.40" stroke="#111" stroke-width="0.75" />
<line x1="417.47" y1="99.60" x2="417.47" y2="101.40" stroke="#111" stroke-width="0.75" />
<line x1="418.72" y1="99.60" x2="418.72" y2="101.40" stroke="#111" stroke-width="0.75" />
<line x1="419.77" y1="99.60" x2="419.77" y2="101.40" stroke="#111" stroke-width="0.75" />
<line x1="420.68" y1="99.60" x2="420.68" y2="101.40" stroke="#111" stroke-width="0.75" />
<line x1="421.48" y1="99.60" x2="421.48" y2="101.40" stroke="#111" stroke-width="0.75" />
<line x1="366.20" y1="99.60" x2="366.20" y2="101.40" stroke="#111" stroke-width="0.75" />
<line x1="369.50" y1="99.60" x2="369.50" y2="101.40" stroke="#111" stroke-width="0.75" />
<line x1="372.50" y1="99.60" x2="372.50" y2="101.40" stroke="#111" stroke-width="0.75" />
<line x1="375.00" y1="99.60" x2="375.00" y2="101.40" stroke="#111" stroke-width="0.75" />
<line x1="376.90" y1="99.60" x2="376.90" y2="101.40" stroke="#111" stroke-width="0.75" />
<line x1="378.30" y1="99.60" x2="378.30" y2="101.40" stroke="#111" stroke-width="0.75" />
<line x1="381.00" y1="99.60" x2="381.00" y2="101.40" stroke="#111" stroke-width="0.75" />
<line x1="384.00" y1="99.60" x2="384.00" y2="101.40" stroke="#111" stroke-width="0.75" />
<text x="377.90" y="106.80" font-size="3.9" text-anchor="middle" font-weight="normal" fill="#808080" >0</text>
<text x="389.40" y="106.80" font-size="3.9" text-anchor="middle" font-weight="normal" fill="#808080" >10³</text>
<text x="406.50" y="106.80" font-size="3.9" text-anchor="middle" font-weight="normal" fill="#808080" >10⁴</text>
<text x="422.20" y="106.80" font-size="3.9" text-anchor="middle" font-weight="normal" fill="#808080" >10⁵</text>
<text x="366.50" y="49.60" font-size="5.8" text-anchor="start" font-weight="normal" fill="#1a1a1a" stroke="#1a1a1a" stroke-width="0.08" >10.4</text>
<text x="366.50" y="98.30" font-size="5.8" text-anchor="start" font-weight="normal" fill="#1a1a1a" stroke="#1a1a1a" stroke-width="0.08" >38.1</text>
<text x="425.90" y="98.30" font-size="5.8" text-anchor="end" font-weight="normal" fill="#1a1a1a" stroke="#1a1a1a" stroke-width="0.08" >50.0</text>
<ellipse cx="458.5" cy="60" rx="2.8" ry="5.5" fill="#d0e0f4" fill-opacity="0.9" filter="url(#b12)"/>
<g fill="#8ab4e4" fill-opacity="0.45"><circle cx="460.0" cy="53.2" r="0.4"/><circle cx="461.8" cy="68.7" r="0.4"/><circle cx="460.7" cy="64.1" r="0.4"/><circle cx="455.4" cy="60.1" r="0.4"/><circle cx="456.7" cy="58.4" r="0.4"/><circle cx="460.6" cy="57.6" r="0.4"/><circle cx="458.2" cy="53.6" r="0.4"/><circle cx="458.2" cy="60.8" r="0.4"/><circle cx="456.9" cy="57.9" r="0.4"/><circle cx="462.7" cy="56.1" r="0.4"/><circle cx="456.2" cy="57.6" r="0.4"/><circle cx="461.1" cy="68.1" r="0.4"/><circle cx="459.2" cy="57.9" r="0.4"/><circle cx="457.6" cy="64.3" r="0.4"/><circle cx="456.5" cy="65.7" r="0.4"/><circle cx="461.6" cy="60.8" r="0.4"/><circle cx="459.9" cy="63.2" r="0.4"/><circle cx="461.9" cy="56.7" r="0.4"/><circle cx="461.1" cy="59.1" r="0.4"/><circle cx="456.8" cy="60.9" r="0.4"/><circle cx="458.0" cy="56.9" r="0.4"/><circle cx="455.0" cy="57.1" r="0.4"/><circle cx="461.7" cy="67.6" r="0.4"/><circle cx="459.9" cy="64.8" r="0.4"/><circle cx="457.4" cy="60.2" r="0.4"/><circle cx="459.1" cy="56.6" r="0.4"/><circle cx="456.3" cy="60.8" r="0.4"/><circle cx="457.8" cy="56.7" r="0.4"/><circle cx="459.4" cy="59.6" r="0.4"/><circle cx="460.7" cy="60.5" r="0.4"/><circle cx="457.8" cy="61.0" r="0.4"/><circle cx="458.1" cy="58.1" r="0.4"/><circle cx="457.6" cy="63.2" r="0.4"/><circle cx="459.9" cy="65.1" r="0.4"/><circle cx="454.8" cy="59.1" r="0.4"/><circle cx="457.6" cy="61.1" r="0.4"/><circle cx="457.5" cy="58.7" r="0.4"/><circle cx="460.2" cy="61.1" r="0.4"/><circle cx="455.9" cy="65.3" r="0.4"/><circle cx="460.7" cy="58.4" r="0.4"/><circle cx="460.3" cy="57.9" r="0.4"/><circle cx="461.0" cy="59.7" r="0.4"/><circle cx="456.7" cy="59.2" r="0.4"/><circle cx="456.8" cy="61.2" r="0.4"/><circle cx="458.9" cy="60.6" r="0.4"/><circle cx="457.3" cy="47.3" r="0.4"/><circle cx="458.7" cy="53.7" r="0.4"/><circle cx="459.0" cy="64.6" r="0.4"/><circle cx="459.1" cy="59.1" r="0.4"/><circle cx="458.1" cy="60.0" r="0.4"/><circle cx="457.3" cy="58.4" r="0.4"/><circle cx="456.5" cy="64.8" r="0.4"/><circle cx="458.5" cy="63.9" r="0.4"/><circle cx="457.9" cy="60.8" r="0.4"/><circle cx="458.1" cy="62.2" r="0.4"/><circle cx="460.3" cy="61.4" r="0.4"/><circle cx="457.0" cy="57.7" r="0.4"/><circle cx="462.2" cy="59.5" r="0.4"/><circle cx="457.9" cy="65.8" r="0.4"/><circle cx="460.9" cy="62.4" r="0.4"/><circle cx="457.6" cy="69.0" r="0.4"/><circle cx="459.4" cy="62.5" r="0.4"/><circle cx="458.1" cy="55.4" r="0.4"/><circle cx="455.6" cy="62.0" r="0.4"/><circle cx="459.4" cy="59.6" r="0.4"/><circle cx="455.9" cy="55.3" r="0.4"/><circle cx="457.8" cy="55.3" r="0.4"/><circle cx="460.5" cy="64.6" r="0.4"/><circle cx="464.7" cy="63.7" r="0.4"/><circle cx="457.2" cy="57.4" r="0.4"/><circle cx="450.9" cy="58.4" r="0.4"/><circle cx="458.1" cy="64.0" r="0.4"/><circle cx="459.8" cy="62.6" r="0.4"/><circle cx="459.0" cy="62.9" r="0.4"/><circle cx="461.7" cy="56.7" r="0.4"/><circle cx="457.5" cy="55.5" r="0.4"/><circle cx="462.1" cy="65.2" r="0.4"/><circle cx="460.2" cy="56.2" r="0.4"/><circle cx="458.9" cy="59.7" r="0.4"/><circle cx="458.7" cy="59.8" r="0.4"/><circle cx="459.6" cy="59.1" r="0.4"/><circle cx="460.4" cy="61.4" r="0.4"/><circle cx="457.9" cy="60.1" r="0.4"/><circle cx="457.5" cy="63.4" r="0.4"/><circle cx="457.9" cy="61.6" r="0.4"/><circle cx="457.6" cy="55.2" r="0.4"/><circle cx="460.5" cy="56.7" r="0.4"/><circle cx="460.0" cy="62.0" r="0.4"/><circle cx="454.9" cy="57.1" r="0.4"/><circle cx="457.4" cy="57.5" r="0.4"/><circle cx="455.9" cy="63.2" r="0.4"/><circle cx="458.0" cy="61.9" r="0.4"/><circle cx="457.6" cy="61.6" r="0.4"/><circle cx="456.8" cy="60.4" r="0.4"/><circle cx="459.8" cy="60.7" r="0.4"/><circle cx="457.5" cy="56.6" r="0.4"/><circle cx="458.9" cy="61.7" r="0.4"/><circle cx="457.9" cy="57.7" r="0.4"/><circle cx="459.7" cy="69.4" r="0.4"/><circle cx="457.8" cy="61.7" r="0.4"/><circle cx="459.3" cy="51.3" r="0.4"/><circle cx="458.8" cy="58.0" r="0.4"/><circle cx="461.5" cy="59.6" r="0.4"/><circle cx="456.8" cy="59.7" r="0.4"/><circle cx="458.9" cy="58.5" r="0.4"/><circle cx="458.4" cy="55.6" r="0.4"/><circle cx="458.0" cy="63.3" r="0.4"/><circle cx="462.8" cy="63.0" r="0.4"/><circle cx="459.1" cy="64.8" r="0.4"/><circle cx="460.7" cy="66.5" r="0.4"/></g>
<g fill="#4a7ad0" fill-opacity="0.5"><circle cx="460.7" cy="63.8" r="0.4"/><circle cx="459.0" cy="64.4" r="0.4"/><circle cx="459.1" cy="64.4" r="0.4"/><circle cx="456.9" cy="59.8" r="0.4"/><circle cx="457.2" cy="59.9" r="0.4"/><circle cx="458.6" cy="64.0" r="0.4"/><circle cx="455.1" cy="65.4" r="0.4"/><circle cx="460.2" cy="64.2" r="0.4"/><circle cx="456.1" cy="66.1" r="0.4"/><circle cx="459.4" cy="64.8" r="0.4"/><circle cx="460.4" cy="62.6" r="0.4"/><circle cx="457.3" cy="62.3" r="0.4"/><circle cx="457.0" cy="63.8" r="0.4"/><circle cx="455.6" cy="61.9" r="0.4"/><circle cx="459.7" cy="63.9" r="0.4"/><circle cx="459.3" cy="60.2" r="0.4"/><circle cx="456.9" cy="62.9" r="0.4"/><circle cx="458.6" cy="62.8" r="0.4"/><circle cx="460.4" cy="63.9" r="0.4"/><circle cx="458.5" cy="64.0" r="0.4"/><circle cx="459.9" cy="63.1" r="0.4"/><circle cx="460.7" cy="64.9" r="0.4"/><circle cx="458.8" cy="64.1" r="0.4"/><circle cx="459.5" cy="66.0" r="0.4"/><circle cx="460.4" cy="64.8" r="0.4"/><circle cx="460.3" cy="64.2" r="0.4"/><circle cx="461.0" cy="63.9" r="0.4"/><circle cx="454.3" cy="66.7" r="0.4"/><circle cx="458.7" cy="61.7" r="0.4"/><circle cx="458.1" cy="62.2" r="0.4"/><circle cx="462.7" cy="65.0" r="0.4"/><circle cx="455.4" cy="65.1" r="0.4"/><circle cx="456.4" cy="59.5" r="0.4"/><circle cx="458.6" cy="63.3" r="0.4"/><circle cx="457.7" cy="59.7" r="0.4"/><circle cx="454.7" cy="66.3" r="0.4"/><circle cx="459.4" cy="63.6" r="0.4"/><circle cx="460.7" cy="65.1" r="0.4"/><circle cx="457.3" cy="65.4" r="0.4"/><circle cx="457.5" cy="60.4" r="0.4"/><circle cx="462.6" cy="63.3" r="0.4"/><circle cx="457.3" cy="64.7" r="0.4"/><circle cx="455.4" cy="61.3" r="0.4"/><circle cx="457.5" cy="63.0" r="0.4"/><circle cx="458.6" cy="66.2" r="0.4"/><circle cx="457.6" cy="65.0" r="0.4"/><circle cx="459.7" cy="61.8" r="0.4"/><circle cx="459.0" cy="62.1" r="0.4"/><circle cx="460.6" cy="64.9" r="0.4"/><circle cx="458.5" cy="61.3" r="0.4"/><circle cx="458.7" cy="62.5" r="0.4"/><circle cx="459.9" cy="63.8" r="0.4"/><circle cx="456.9" cy="65.9" r="0.4"/><circle cx="459.9" cy="62.8" r="0.4"/><circle cx="460.8" cy="63.4" r="0.4"/><circle cx="457.9" cy="64.2" r="0.4"/><circle cx="457.0" cy="63.1" r="0.4"/><circle cx="461.5" cy="63.5" r="0.4"/><circle cx="461.7" cy="63.9" r="0.4"/><circle cx="459.3" cy="65.8" r="0.4"/><circle cx="459.0" cy="61.6" r="0.4"/><circle cx="461.1" cy="63.2" r="0.4"/><circle cx="457.9" cy="58.0" r="0.4"/><circle cx="460.5" cy="65.6" r="0.4"/><circle cx="460.1" cy="66.0" r="0.4"/><circle cx="461.9" cy="63.9" r="0.4"/><circle cx="460.4" cy="62.5" r="0.4"/><circle cx="457.8" cy="66.1" r="0.4"/><circle cx="459.3" cy="61.3" r="0.4"/><circle cx="459.2" cy="63.6" r="0.4"/><circle cx="456.9" cy="64.9" r="0.4"/><circle cx="457.7" cy="60.9" r="0.4"/><circle cx="455.5" cy="64.4" r="0.4"/><circle cx="459.7" cy="65.3" r="0.4"/><circle cx="456.0" cy="63.4" r="0.4"/><circle cx="458.8" cy="65.6" r="0.4"/><circle cx="457.2" cy="61.7" r="0.4"/><circle cx="460.5" cy="66.2" r="0.4"/><circle cx="459.2" cy="62.8" r="0.4"/><circle cx="459.3" cy="64.2" r="0.4"/><circle cx="460.2" cy="61.5" r="0.4"/><circle cx="458.7" cy="63.7" r="0.4"/><circle cx="456.3" cy="64.4" r="0.4"/></g>
<ellipse cx="457.5" cy="82" rx="5.5" ry="8.5" fill="#f0b0d8" fill-opacity="0.8" filter="url(#b20)"/>
<ellipse cx="457.5" cy="81" rx="3.8" ry="6.5" fill="#e0209a" fill-opacity="0.75" filter="url(#b15)"/>
<g fill="#d80a88" fill-opacity="0.5"><circle cx="457.6" cy="79.4" r="0.42"/><circle cx="458.8" cy="74.4" r="0.42"/><circle cx="457.3" cy="83.7" r="0.42"/><circle cx="458.4" cy="86.9" r="0.42"/><circle cx="453.5" cy="74.0" r="0.42"/><circle cx="458.3" cy="83.8" r="0.42"/><circle cx="464.5" cy="84.6" r="0.42"/><circle cx="454.6" cy="85.5" r="0.42"/><circle cx="454.7" cy="74.1" r="0.42"/><circle cx="466.1" cy="83.1" r="0.42"/><circle cx="459.9" cy="84.3" r="0.42"/><circle cx="463.5" cy="82.9" r="0.42"/><circle cx="461.5" cy="76.4" r="0.42"/><circle cx="452.9" cy="88.6" r="0.42"/><circle cx="462.4" cy="84.1" r="0.42"/><circle cx="458.2" cy="82.3" r="0.42"/><circle cx="455.2" cy="89.2" r="0.42"/><circle cx="459.7" cy="84.0" r="0.42"/><circle cx="458.7" cy="86.7" r="0.42"/><circle cx="459.2" cy="85.2" r="0.42"/><circle cx="453.6" cy="84.1" r="0.42"/><circle cx="464.7" cy="78.9" r="0.42"/><circle cx="457.1" cy="86.0" r="0.42"/><circle cx="460.7" cy="84.6" r="0.42"/><circle cx="452.2" cy="84.0" r="0.42"/><circle cx="453.6" cy="77.4" r="0.42"/><circle cx="459.3" cy="80.0" r="0.42"/><circle cx="460.2" cy="97.2" r="0.42"/><circle cx="460.1" cy="85.1" r="0.42"/><circle cx="454.5" cy="78.3" r="0.42"/><circle cx="454.0" cy="78.8" r="0.42"/><circle cx="453.9" cy="78.2" r="0.42"/><circle cx="456.8" cy="76.5" r="0.42"/><circle cx="452.8" cy="74.7" r="0.42"/><circle cx="459.0" cy="81.8" r="0.42"/><circle cx="460.9" cy="86.7" r="0.42"/><circle cx="456.4" cy="84.9" r="0.42"/><circle cx="452.7" cy="92.9" r="0.42"/><circle cx="461.4" cy="80.4" r="0.42"/><circle cx="453.7" cy="83.4" r="0.42"/><circle cx="451.3" cy="77.6" r="0.42"/><circle cx="460.0" cy="81.9" r="0.42"/><circle cx="455.9" cy="86.3" r="0.42"/><circle cx="454.1" cy="82.9" r="0.42"/><circle cx="455.9" cy="77.3" r="0.42"/><circle cx="459.0" cy="76.5" r="0.42"/><circle cx="463.8" cy="78.6" r="0.42"/><circle cx="464.1" cy="76.0" r="0.42"/><circle cx="459.5" cy="75.5" r="0.42"/><circle cx="453.1" cy="82.3" r="0.42"/><circle cx="459.7" cy="75.1" r="0.42"/><circle cx="461.4" cy="77.5" r="0.42"/><circle cx="457.9" cy="83.4" r="0.42"/><circle cx="459.5" cy="72.5" r="0.42"/><circle cx="462.8" cy="84.3" r="0.42"/><circle cx="456.1" cy="76.4" r="0.42"/><circle cx="451.9" cy="74.7" r="0.42"/><circle cx="459.3" cy="79.8" r="0.42"/><circle cx="453.8" cy="78.9" r="0.42"/><circle cx="462.7" cy="79.8" r="0.42"/><circle cx="455.6" cy="88.3" r="0.42"/><circle cx="459.0" cy="81.7" r="0.42"/><circle cx="455.5" cy="73.7" r="0.42"/><circle cx="453.6" cy="79.1" r="0.42"/><circle cx="456.8" cy="83.3" r="0.42"/><circle cx="459.3" cy="82.6" r="0.42"/><circle cx="458.2" cy="76.5" r="0.42"/><circle cx="450.4" cy="78.9" r="0.42"/><circle cx="454.4" cy="78.2" r="0.42"/><circle cx="456.6" cy="75.3" r="0.42"/><circle cx="453.8" cy="81.0" r="0.42"/><circle cx="457.9" cy="78.2" r="0.42"/><circle cx="459.1" cy="80.4" r="0.42"/><circle cx="454.1" cy="81.7" r="0.42"/><circle cx="463.7" cy="78.1" r="0.42"/><circle cx="461.3" cy="88.4" r="0.42"/><circle cx="462.4" cy="77.4" r="0.42"/><circle cx="464.2" cy="82.1" r="0.42"/><circle cx="456.7" cy="80.3" r="0.42"/><circle cx="459.5" cy="81.8" r="0.42"/><circle cx="456.9" cy="87.9" r="0.42"/><circle cx="455.1" cy="76.3" r="0.42"/><circle cx="460.1" cy="85.0" r="0.42"/><circle cx="461.1" cy="76.1" r="0.42"/><circle cx="461.1" cy="83.9" r="0.42"/><circle cx="463.3" cy="75.3" r="0.42"/><circle cx="458.2" cy="80.1" r="0.42"/><circle cx="452.3" cy="77.9" r="0.42"/><circle cx="461.2" cy="79.2" r="0.42"/><circle cx="455.1" cy="85.8" r="0.42"/><circle cx="460.8" cy="86.4" r="0.42"/><circle cx="454.9" cy="81.2" r="0.42"/><circle cx="460.9" cy="78.2" r="0.42"/><circle cx="455.0" cy="85.6" r="0.42"/><circle cx="462.7" cy="75.7" r="0.42"/><circle cx="448.9" cy="74.2" r="0.42"/><circle cx="454.2" cy="80.8" r="0.42"/><circle cx="459.5" cy="80.8" r="0.42"/><circle cx="455.2" cy="82.3" r="0.42"/><circle cx="454.3" cy="81.3" r="0.42"/><circle cx="455.4" cy="94.9" r="0.42"/><circle cx="460.2" cy="77.3" r="0.42"/><circle cx="454.2" cy="79.3" r="0.42"/><circle cx="452.1" cy="77.8" r="0.42"/><circle cx="455.1" cy="85.9" r="0.42"/><circle cx="456.1" cy="77.5" r="0.42"/><circle cx="453.1" cy="75.6" r="0.42"/><circle cx="457.3" cy="80.4" r="0.42"/><circle cx="461.2" cy="78.4" r="0.42"/><circle cx="461.0" cy="82.8" r="0.42"/><circle cx="457.5" cy="71.5" r="0.42"/><circle cx="453.2" cy="85.2" r="0.42"/><circle cx="462.1" cy="82.5" r="0.42"/><circle cx="460.0" cy="79.5" r="0.42"/><circle cx="456.3" cy="78.2" r="0.42"/><circle cx="460.7" cy="83.2" r="0.42"/><circle cx="456.7" cy="79.9" r="0.42"/><circle cx="459.3" cy="83.1" r="0.42"/><circle cx="454.8" cy="90.1" r="0.42"/><circle cx="458.3" cy="81.6" r="0.42"/><circle cx="462.4" cy="86.6" r="0.42"/><circle cx="457.2" cy="84.2" r="0.42"/><circle cx="454.0" cy="78.3" r="0.42"/><circle cx="450.0" cy="87.6" r="0.42"/><circle cx="451.2" cy="84.9" r="0.42"/><circle cx="454.8" cy="76.6" r="0.42"/><circle cx="456.9" cy="82.8" r="0.42"/><circle cx="459.5" cy="90.4" r="0.42"/><circle cx="458.7" cy="85.9" r="0.42"/><circle cx="455.5" cy="85.1" r="0.42"/><circle cx="458.0" cy="79.2" r="0.42"/><circle cx="457.2" cy="81.2" r="0.42"/><circle cx="458.1" cy="83.5" r="0.42"/><circle cx="455.8" cy="77.8" r="0.42"/><circle cx="460.0" cy="73.0" r="0.42"/><circle cx="455.5" cy="89.3" r="0.42"/><circle cx="448.6" cy="78.0" r="0.42"/><circle cx="459.8" cy="73.2" r="0.42"/><circle cx="466.1" cy="68.6" r="0.42"/><circle cx="462.2" cy="89.3" r="0.42"/><circle cx="460.5" cy="80.4" r="0.42"/><circle cx="458.7" cy="77.0" r="0.42"/><circle cx="460.2" cy="75.9" r="0.42"/><circle cx="456.6" cy="86.5" r="0.42"/><circle cx="453.8" cy="79.7" r="0.42"/><circle cx="458.0" cy="74.8" r="0.42"/><circle cx="461.3" cy="83.2" r="0.42"/><circle cx="452.5" cy="81.3" r="0.42"/><circle cx="454.9" cy="78.2" r="0.42"/><circle cx="457.8" cy="78.0" r="0.42"/><circle cx="460.7" cy="78.0" r="0.42"/><circle cx="460.7" cy="81.3" r="0.42"/><circle cx="460.3" cy="78.8" r="0.42"/><circle cx="455.8" cy="75.7" r="0.42"/><circle cx="459.4" cy="86.2" r="0.42"/><circle cx="464.5" cy="88.0" r="0.42"/><circle cx="458.3" cy="80.4" r="0.42"/><circle cx="458.8" cy="81.4" r="0.42"/><circle cx="462.3" cy="86.2" r="0.42"/><circle cx="454.7" cy="78.1" r="0.42"/><circle cx="462.0" cy="83.0" r="0.42"/><circle cx="456.7" cy="87.4" r="0.42"/><circle cx="456.2" cy="80.1" r="0.42"/><circle cx="456.0" cy="71.7" r="0.42"/><circle cx="460.4" cy="75.5" r="0.42"/><circle cx="455.6" cy="77.8" r="0.42"/><circle cx="459.9" cy="81.2" r="0.42"/><circle cx="457.6" cy="73.1" r="0.42"/><circle cx="457.2" cy="74.1" r="0.42"/><circle cx="458.5" cy="83.3" r="0.42"/><circle cx="457.4" cy="91.7" r="0.42"/><circle cx="459.2" cy="84.5" r="0.42"/><circle cx="458.0" cy="80.5" r="0.42"/><circle cx="460.7" cy="87.0" r="0.42"/><circle cx="453.2" cy="86.8" r="0.42"/><circle cx="459.2" cy="86.3" r="0.42"/><circle cx="459.0" cy="75.3" r="0.42"/><circle cx="453.6" cy="90.6" r="0.42"/><circle cx="458.3" cy="74.4" r="0.42"/><circle cx="458.6" cy="79.7" r="0.42"/><circle cx="451.4" cy="70.0" r="0.42"/><circle cx="452.2" cy="82.9" r="0.42"/><circle cx="457.3" cy="80.3" r="0.42"/><circle cx="458.4" cy="84.5" r="0.42"/><circle cx="450.6" cy="80.0" r="0.42"/><circle cx="454.8" cy="75.3" r="0.42"/><circle cx="455.7" cy="80.9" r="0.42"/><circle cx="456.6" cy="74.2" r="0.42"/><circle cx="455.9" cy="91.6" r="0.42"/><circle cx="454.0" cy="73.1" r="0.42"/><circle cx="458.4" cy="84.5" r="0.42"/><circle cx="459.0" cy="75.9" r="0.42"/><circle cx="460.8" cy="77.6" r="0.42"/><circle cx="453.8" cy="78.5" r="0.42"/><circle cx="457.1" cy="85.1" r="0.42"/><circle cx="459.6" cy="81.4" r="0.42"/><circle cx="460.6" cy="81.9" r="0.42"/><circle cx="460.5" cy="74.5" r="0.42"/><circle cx="452.3" cy="85.4" r="0.42"/><circle cx="452.9" cy="80.0" r="0.42"/><circle cx="457.2" cy="79.1" r="0.42"/><circle cx="456.0" cy="88.5" r="0.42"/><circle cx="449.2" cy="85.9" r="0.42"/><circle cx="465.1" cy="81.6" r="0.42"/><circle cx="457.4" cy="85.1" r="0.42"/><circle cx="463.5" cy="75.6" r="0.42"/><circle cx="457.8" cy="80.6" r="0.42"/><circle cx="459.3" cy="82.3" r="0.42"/><circle cx="459.7" cy="79.4" r="0.42"/><circle cx="457.7" cy="78.1" r="0.42"/><circle cx="455.3" cy="80.8" r="0.42"/><circle cx="457.0" cy="75.6" r="0.42"/><circle cx="462.7" cy="80.8" r="0.42"/><circle cx="452.9" cy="87.0" r="0.42"/><circle cx="455.0" cy="84.0" r="0.42"/><circle cx="457.4" cy="82.8" r="0.42"/><circle cx="458.1" cy="78.6" r="0.42"/><circle cx="457.6" cy="91.7" r="0.42"/><circle cx="450.1" cy="81.8" r="0.42"/><circle cx="458.9" cy="76.2" r="0.42"/><circle cx="453.0" cy="92.3" r="0.42"/><circle cx="456.3" cy="91.9" r="0.42"/><circle cx="459.3" cy="81.9" r="0.42"/><circle cx="459.1" cy="84.7" r="0.42"/><circle cx="461.4" cy="83.7" r="0.42"/><circle cx="458.0" cy="82.4" r="0.42"/><circle cx="462.0" cy="85.6" r="0.42"/><circle cx="454.2" cy="78.3" r="0.42"/><circle cx="458.6" cy="78.4" r="0.42"/><circle cx="456.3" cy="76.7" r="0.42"/><circle cx="456.6" cy="83.6" r="0.42"/><circle cx="460.8" cy="81.5" r="0.42"/><circle cx="464.3" cy="81.1" r="0.42"/><circle cx="468.0" cy="86.5" r="0.42"/><circle cx="459.1" cy="79.0" r="0.42"/><circle cx="448.2" cy="80.7" r="0.42"/><circle cx="458.1" cy="91.1" r="0.42"/><circle cx="452.9" cy="91.0" r="0.42"/><circle cx="456.7" cy="85.1" r="0.42"/><circle cx="449.1" cy="82.2" r="0.42"/><circle cx="456.4" cy="84.9" r="0.42"/><circle cx="457.8" cy="75.8" r="0.42"/><circle cx="460.6" cy="85.0" r="0.42"/><circle cx="459.5" cy="86.5" r="0.42"/><circle cx="461.1" cy="81.4" r="0.42"/><circle cx="453.0" cy="74.6" r="0.42"/><circle cx="462.0" cy="85.1" r="0.42"/><circle cx="457.8" cy="79.3" r="0.42"/><circle cx="457.6" cy="81.6" r="0.42"/><circle cx="456.4" cy="78.0" r="0.42"/><circle cx="464.6" cy="82.6" r="0.42"/><circle cx="455.5" cy="75.0" r="0.42"/><circle cx="455.1" cy="85.1" r="0.42"/><circle cx="460.0" cy="80.4" r="0.42"/><circle cx="457.7" cy="80.0" r="0.42"/><circle cx="453.8" cy="88.0" r="0.42"/><circle cx="458.7" cy="93.9" r="0.42"/><circle cx="455.0" cy="80.8" r="0.42"/><circle cx="460.4" cy="80.3" r="0.42"/><circle cx="452.9" cy="76.8" r="0.42"/><circle cx="457.8" cy="83.2" r="0.42"/><circle cx="457.2" cy="86.5" r="0.42"/><circle cx="460.8" cy="83.1" r="0.42"/><circle cx="457.6" cy="80.2" r="0.42"/><circle cx="459.3" cy="86.1" r="0.42"/><circle cx="457.7" cy="83.7" r="0.42"/><circle cx="456.4" cy="74.4" r="0.42"/><circle cx="454.2" cy="85.3" r="0.42"/><circle cx="459.0" cy="89.5" r="0.42"/><circle cx="457.7" cy="85.8" r="0.42"/><circle cx="461.9" cy="86.5" r="0.42"/><circle cx="455.5" cy="80.6" r="0.42"/><circle cx="457.9" cy="76.6" r="0.42"/><circle cx="459.1" cy="86.6" r="0.42"/><circle cx="455.9" cy="91.4" r="0.42"/><circle cx="456.5" cy="80.5" r="0.42"/><circle cx="456.7" cy="78.0" r="0.42"/><circle cx="458.9" cy="81.6" r="0.42"/><circle cx="463.0" cy="84.5" r="0.42"/><circle cx="459.3" cy="80.4" r="0.42"/><circle cx="452.8" cy="81.1" r="0.42"/><circle cx="454.7" cy="86.3" r="0.42"/><circle cx="457.4" cy="89.8" r="0.42"/><circle cx="459.9" cy="85.7" r="0.42"/><circle cx="458.3" cy="82.5" r="0.42"/><circle cx="459.7" cy="86.1" r="0.42"/><circle cx="455.2" cy="84.0" r="0.42"/><circle cx="466.1" cy="81.1" r="0.42"/><circle cx="456.7" cy="78.0" r="0.42"/><circle cx="452.7" cy="87.4" r="0.42"/><circle cx="457.7" cy="83.0" r="0.42"/><circle cx="463.6" cy="94.0" r="0.42"/><circle cx="454.6" cy="86.8" r="0.42"/><circle cx="459.6" cy="83.5" r="0.42"/><circle cx="459.1" cy="81.4" r="0.42"/><circle cx="462.8" cy="84.6" r="0.42"/><circle cx="458.6" cy="87.7" r="0.42"/><circle cx="460.5" cy="83.8" r="0.42"/><circle cx="458.6" cy="90.3" r="0.42"/><circle cx="459.2" cy="81.1" r="0.42"/><circle cx="454.7" cy="79.8" r="0.42"/><circle cx="454.0" cy="82.1" r="0.42"/><circle cx="458.4" cy="71.3" r="0.42"/><circle cx="457.6" cy="84.8" r="0.42"/><circle cx="458.1" cy="76.7" r="0.42"/><circle cx="461.7" cy="78.0" r="0.42"/><circle cx="453.5" cy="76.1" r="0.42"/><circle cx="457.5" cy="86.4" r="0.42"/><circle cx="461.4" cy="82.6" r="0.42"/><circle cx="453.6" cy="78.2" r="0.42"/><circle cx="454.5" cy="80.6" r="0.42"/><circle cx="451.7" cy="82.1" r="0.42"/><circle cx="459.6" cy="80.8" r="0.42"/><circle cx="459.0" cy="76.8" r="0.42"/><circle cx="452.7" cy="78.3" r="0.42"/><circle cx="461.3" cy="86.7" r="0.42"/><circle cx="456.0" cy="87.5" r="0.42"/><circle cx="456.4" cy="89.1" r="0.42"/><circle cx="459.1" cy="79.2" r="0.42"/><circle cx="460.1" cy="77.6" r="0.42"/><circle cx="454.4" cy="74.2" r="0.42"/><circle cx="458.4" cy="81.2" r="0.42"/><circle cx="457.2" cy="79.5" r="0.42"/><circle cx="462.2" cy="79.4" r="0.42"/><circle cx="455.1" cy="87.7" r="0.42"/><circle cx="462.2" cy="83.2" r="0.42"/><circle cx="451.8" cy="78.5" r="0.42"/><circle cx="459.5" cy="81.6" r="0.42"/><circle cx="462.6" cy="74.7" r="0.42"/><circle cx="459.7" cy="78.4" r="0.42"/><circle cx="461.9" cy="81.1" r="0.42"/><circle cx="460.9" cy="78.3" r="0.42"/><circle cx="452.8" cy="75.9" r="0.42"/><circle cx="455.5" cy="76.4" r="0.42"/><circle cx="461.5" cy="88.2" r="0.42"/><circle cx="458.4" cy="76.3" r="0.42"/><circle cx="457.1" cy="78.1" r="0.42"/><circle cx="462.3" cy="83.1" r="0.42"/><circle cx="459.1" cy="79.5" r="0.42"/><circle cx="450.9" cy="77.6" r="0.42"/><circle cx="453.8" cy="83.4" r="0.42"/><circle cx="457.8" cy="77.5" r="0.42"/><circle cx="456.2" cy="89.3" r="0.42"/><circle cx="454.3" cy="76.9" r="0.42"/><circle cx="456.7" cy="78.0" r="0.42"/><circle cx="456.1" cy="84.2" r="0.42"/><circle cx="463.2" cy="72.6" r="0.42"/><circle cx="457.4" cy="81.7" r="0.42"/><circle cx="457.2" cy="80.6" r="0.42"/><circle cx="456.4" cy="86.5" r="0.42"/><circle cx="456.0" cy="80.9" r="0.42"/><circle cx="457.5" cy="82.0" r="0.42"/><circle cx="456.9" cy="86.5" r="0.42"/><circle cx="457.5" cy="82.4" r="0.42"/><circle cx="457.3" cy="76.5" r="0.42"/><circle cx="454.8" cy="76.2" r="0.42"/><circle cx="458.1" cy="77.9" r="0.42"/><circle cx="454.0" cy="82.7" r="0.42"/><circle cx="459.2" cy="72.7" r="0.42"/><circle cx="463.1" cy="81.7" r="0.42"/><circle cx="457.2" cy="86.8" r="0.42"/><circle cx="457.7" cy="78.5" r="0.42"/><circle cx="464.7" cy="76.1" r="0.42"/><circle cx="457.2" cy="85.7" r="0.42"/><circle cx="454.0" cy="81.0" r="0.42"/><circle cx="458.8" cy="93.5" r="0.42"/><circle cx="454.6" cy="81.3" r="0.42"/><circle cx="459.7" cy="81.9" r="0.42"/><circle cx="453.5" cy="83.5" r="0.42"/><circle cx="457.9" cy="83.7" r="0.42"/><circle cx="461.2" cy="86.6" r="0.42"/><circle cx="458.8" cy="83.1" r="0.42"/><circle cx="453.9" cy="80.8" r="0.42"/><circle cx="458.2" cy="79.5" r="0.42"/><circle cx="457.8" cy="77.4" r="0.42"/><circle cx="462.6" cy="92.3" r="0.42"/><circle cx="456.2" cy="83.5" r="0.42"/><circle cx="456.7" cy="87.8" r="0.42"/><circle cx="458.9" cy="81.9" r="0.42"/><circle cx="456.8" cy="82.1" r="0.42"/><circle cx="454.2" cy="84.9" r="0.42"/><circle cx="455.1" cy="84.2" r="0.42"/><circle cx="457.9" cy="87.0" r="0.42"/><circle cx="457.4" cy="86.6" r="0.42"/><circle cx="454.5" cy="84.5" r="0.42"/><circle cx="456.8" cy="82.5" r="0.42"/><circle cx="457.7" cy="86.2" r="0.42"/><circle cx="450.8" cy="83.1" r="0.42"/><circle cx="452.6" cy="87.5" r="0.42"/><circle cx="451.0" cy="76.5" r="0.42"/><circle cx="452.0" cy="89.7" r="0.42"/><circle cx="453.2" cy="82.1" r="0.42"/><circle cx="455.7" cy="72.5" r="0.42"/><circle cx="456.4" cy="84.8" r="0.42"/><circle cx="456.9" cy="86.2" r="0.42"/><circle cx="456.3" cy="81.5" r="0.42"/><circle cx="456.2" cy="83.2" r="0.42"/><circle cx="463.8" cy="83.3" r="0.42"/><circle cx="458.1" cy="78.4" r="0.42"/><circle cx="455.0" cy="88.8" r="0.42"/><circle cx="453.8" cy="76.9" r="0.42"/><circle cx="457.2" cy="79.4" r="0.42"/><circle cx="464.0" cy="69.7" r="0.42"/><circle cx="458.7" cy="85.1" r="0.42"/><circle cx="453.8" cy="78.3" r="0.42"/><circle cx="458.9" cy="89.6" r="0.42"/><circle cx="454.5" cy="73.6" r="0.42"/><circle cx="460.7" cy="89.1" r="0.42"/><circle cx="456.4" cy="70.4" r="0.42"/><circle cx="462.3" cy="80.5" r="0.42"/><circle cx="461.2" cy="81.3" r="0.42"/><circle cx="456.3" cy="79.2" r="0.42"/><circle cx="462.4" cy="88.7" r="0.42"/><circle cx="450.4" cy="76.8" r="0.42"/><circle cx="463.4" cy="79.7" r="0.42"/><circle cx="453.0" cy="81.5" r="0.42"/><circle cx="457.1" cy="81.0" r="0.42"/><circle cx="455.9" cy="79.9" r="0.42"/><circle cx="456.0" cy="83.2" r="0.42"/><circle cx="454.8" cy="80.1" r="0.42"/><circle cx="457.0" cy="88.0" r="0.42"/><circle cx="458.7" cy="81.0" r="0.42"/><circle cx="459.3" cy="83.5" r="0.42"/><circle cx="461.1" cy="84.0" r="0.42"/><circle cx="463.4" cy="88.2" r="0.42"/><circle cx="457.4" cy="79.4" r="0.42"/><circle cx="460.4" cy="84.1" r="0.42"/><circle cx="457.2" cy="74.1" r="0.42"/><circle cx="451.5" cy="83.2" r="0.42"/><circle cx="460.0" cy="85.5" r="0.42"/><circle cx="453.3" cy="86.7" r="0.42"/><circle cx="455.7" cy="83.4" r="0.42"/><circle cx="458.9" cy="77.5" r="0.42"/><circle cx="455.5" cy="71.1" r="0.42"/><circle cx="454.5" cy="72.5" r="0.42"/><circle cx="458.9" cy="81.8" r="0.42"/><circle cx="460.5" cy="83.3" r="0.42"/><circle cx="455.4" cy="83.2" r="0.42"/><circle cx="456.2" cy="84.5" r="0.42"/><circle cx="458.5" cy="76.6" r="0.42"/><circle cx="457.5" cy="81.8" r="0.42"/><circle cx="456.5" cy="86.0" r="0.42"/><circle cx="463.2" cy="79.7" r="0.42"/><circle cx="456.3" cy="70.3" r="0.42"/><circle cx="457.1" cy="79.3" r="0.42"/><circle cx="450.4" cy="82.9" r="0.42"/><circle cx="459.5" cy="77.8" r="0.42"/><circle cx="456.3" cy="76.7" r="0.42"/><circle cx="460.0" cy="73.9" r="0.42"/><circle cx="456.5" cy="91.3" r="0.42"/><circle cx="457.7" cy="83.8" r="0.42"/><circle cx="457.0" cy="75.6" r="0.42"/><circle cx="457.4" cy="83.5" r="0.42"/><circle cx="454.1" cy="83.2" r="0.42"/><circle cx="461.6" cy="86.8" r="0.42"/><circle cx="452.3" cy="76.6" r="0.42"/><circle cx="452.2" cy="86.9" r="0.42"/><circle cx="459.5" cy="85.0" r="0.42"/><circle cx="454.6" cy="75.7" r="0.42"/><circle cx="457.8" cy="82.0" r="0.42"/><circle cx="454.7" cy="82.2" r="0.42"/><circle cx="459.6" cy="82.6" r="0.42"/><circle cx="454.1" cy="70.9" r="0.42"/><circle cx="456.6" cy="82.3" r="0.42"/><circle cx="456.6" cy="79.4" r="0.42"/><circle cx="455.2" cy="85.1" r="0.42"/><circle cx="457.3" cy="82.1" r="0.42"/><circle cx="454.3" cy="78.4" r="0.42"/><circle cx="458.0" cy="76.5" r="0.42"/><circle cx="453.3" cy="79.9" r="0.42"/><circle cx="461.5" cy="82.5" r="0.42"/><circle cx="462.3" cy="80.8" r="0.42"/><circle cx="456.5" cy="74.5" r="0.42"/><circle cx="455.6" cy="88.7" r="0.42"/><circle cx="458.6" cy="85.2" r="0.42"/><circle cx="459.8" cy="81.5" r="0.42"/><circle cx="456.8" cy="82.1" r="0.42"/><circle cx="459.7" cy="83.8" r="0.42"/><circle cx="459.1" cy="82.3" r="0.42"/><circle cx="455.0" cy="80.2" r="0.42"/><circle cx="454.4" cy="86.5" r="0.42"/><circle cx="450.6" cy="80.4" r="0.42"/><circle cx="465.4" cy="79.8" r="0.42"/><circle cx="453.8" cy="81.4" r="0.42"/><circle cx="461.8" cy="80.7" r="0.42"/><circle cx="459.5" cy="82.0" r="0.42"/><circle cx="456.3" cy="97.3" r="0.42"/><circle cx="457.7" cy="78.8" r="0.42"/><circle cx="455.9" cy="83.4" r="0.42"/><circle cx="458.9" cy="85.4" r="0.42"/><circle cx="458.0" cy="74.3" r="0.42"/><circle cx="459.3" cy="80.0" r="0.42"/><circle cx="456.6" cy="74.1" r="0.42"/><circle cx="455.6" cy="77.9" r="0.42"/><circle cx="457.4" cy="74.2" r="0.42"/><circle cx="457.7" cy="82.1" r="0.42"/><circle cx="453.8" cy="78.4" r="0.42"/><circle cx="454.7" cy="86.0" r="0.42"/><circle cx="449.2" cy="79.8" r="0.42"/><circle cx="452.0" cy="79.3" r="0.42"/></g>
<g fill="#8a6aa8" fill-opacity="0.42"><circle cx="481.5" cy="78.3" r="0.4"/><circle cx="476.9" cy="77.3" r="0.4"/><circle cx="488.6" cy="86.1" r="0.4"/><circle cx="483.3" cy="74.9" r="0.4"/><circle cx="468.8" cy="86.9" r="0.4"/><circle cx="474.7" cy="80.2" r="0.4"/><circle cx="478.2" cy="75.2" r="0.4"/><circle cx="481.0" cy="81.6" r="0.4"/><circle cx="479.1" cy="78.1" r="0.4"/><circle cx="479.3" cy="78.0" r="0.4"/><circle cx="482.2" cy="87.1" r="0.4"/><circle cx="481.9" cy="84.1" r="0.4"/><circle cx="481.4" cy="80.1" r="0.4"/><circle cx="476.6" cy="80.1" r="0.4"/><circle cx="480.3" cy="88.6" r="0.4"/><circle cx="472.0" cy="77.0" r="0.4"/><circle cx="485.4" cy="77.1" r="0.4"/><circle cx="489.5" cy="81.8" r="0.4"/><circle cx="470.3" cy="86.4" r="0.4"/><circle cx="487.0" cy="74.3" r="0.4"/><circle cx="486.1" cy="80.1" r="0.4"/><circle cx="485.7" cy="79.6" r="0.4"/><circle cx="482.0" cy="92.0" r="0.4"/><circle cx="487.2" cy="85.0" r="0.4"/><circle cx="474.5" cy="78.9" r="0.4"/><circle cx="474.1" cy="77.3" r="0.4"/><circle cx="474.2" cy="68.8" r="0.4"/><circle cx="477.2" cy="81.4" r="0.4"/><circle cx="492.7" cy="85.3" r="0.4"/><circle cx="472.9" cy="84.3" r="0.4"/><circle cx="468.0" cy="78.5" r="0.4"/><circle cx="479.9" cy="75.6" r="0.4"/><circle cx="475.6" cy="86.2" r="0.4"/><circle cx="479.2" cy="83.4" r="0.4"/><circle cx="470.4" cy="78.3" r="0.4"/><circle cx="476.6" cy="86.1" r="0.4"/><circle cx="470.6" cy="75.9" r="0.4"/><circle cx="483.4" cy="76.8" r="0.4"/><circle cx="483.0" cy="82.7" r="0.4"/><circle cx="481.7" cy="90.2" r="0.4"/><circle cx="480.5" cy="85.4" r="0.4"/><circle cx="470.0" cy="78.0" r="0.4"/><circle cx="480.2" cy="89.2" r="0.4"/><circle cx="485.0" cy="93.1" r="0.4"/><circle cx="478.0" cy="82.5" r="0.4"/><circle cx="482.5" cy="81.6" r="0.4"/><circle cx="475.6" cy="76.3" r="0.4"/><circle cx="482.4" cy="76.1" r="0.4"/><circle cx="479.3" cy="74.4" r="0.4"/><circle cx="483.1" cy="76.4" r="0.4"/><circle cx="481.5" cy="73.6" r="0.4"/><circle cx="473.1" cy="87.4" r="0.4"/><circle cx="470.8" cy="81.8" r="0.4"/><circle cx="472.9" cy="70.0" r="0.4"/><circle cx="478.0" cy="83.7" r="0.4"/><circle cx="468.8" cy="84.4" r="0.4"/><circle cx="470.8" cy="76.5" r="0.4"/><circle cx="476.0" cy="78.1" r="0.4"/><circle cx="490.9" cy="73.7" r="0.4"/><circle cx="480.8" cy="86.4" r="0.4"/><circle cx="479.7" cy="79.1" r="0.4"/><circle cx="478.5" cy="87.2" r="0.4"/><circle cx="473.6" cy="76.2" r="0.4"/><circle cx="470.0" cy="83.1" r="0.4"/><circle cx="477.5" cy="74.6" r="0.4"/><circle cx="487.2" cy="86.9" r="0.4"/><circle cx="481.5" cy="75.6" r="0.4"/><circle cx="473.4" cy="78.8" r="0.4"/><circle cx="473.3" cy="75.9" r="0.4"/><circle cx="478.8" cy="82.6" r="0.4"/><circle cx="478.4" cy="79.0" r="0.4"/><circle cx="484.4" cy="82.4" r="0.4"/><circle cx="475.6" cy="86.3" r="0.4"/><circle cx="474.0" cy="80.2" r="0.4"/><circle cx="471.7" cy="84.8" r="0.4"/><circle cx="473.1" cy="78.5" r="0.4"/><circle cx="471.2" cy="84.3" r="0.4"/><circle cx="472.5" cy="73.1" r="0.4"/><circle cx="480.0" cy="78.0" r="0.4"/><circle cx="478.3" cy="83.4" r="0.4"/><circle cx="483.8" cy="86.7" r="0.4"/><circle cx="472.3" cy="80.7" r="0.4"/><circle cx="478.9" cy="88.5" r="0.4"/><circle cx="473.9" cy="71.3" r="0.4"/><circle cx="486.0" cy="82.0" r="0.4"/><circle cx="476.9" cy="81.8" r="0.4"/><circle cx="480.2" cy="84.2" r="0.4"/><circle cx="472.6" cy="79.2" r="0.4"/><circle cx="487.2" cy="86.1" r="0.4"/><circle cx="473.8" cy="72.2" r="0.4"/><circle cx="477.1" cy="84.2" r="0.4"/><circle cx="475.5" cy="75.3" r="0.4"/><circle cx="470.9" cy="75.2" r="0.4"/><circle cx="477.4" cy="85.6" r="0.4"/><circle cx="482.7" cy="77.8" r="0.4"/><circle cx="477.5" cy="84.3" r="0.4"/><circle cx="472.7" cy="80.8" r="0.4"/><circle cx="489.8" cy="82.5" r="0.4"/><circle cx="481.7" cy="79.3" r="0.4"/><circle cx="476.3" cy="72.9" r="0.4"/><circle cx="475.8" cy="87.5" r="0.4"/><circle cx="489.6" cy="87.5" r="0.4"/><circle cx="480.5" cy="81.8" r="0.4"/><circle cx="472.1" cy="80.7" r="0.4"/><circle cx="480.0" cy="77.6" r="0.4"/><circle cx="482.1" cy="76.6" r="0.4"/><circle cx="483.4" cy="80.5" r="0.4"/><circle cx="477.4" cy="87.3" r="0.4"/><circle cx="484.2" cy="79.0" r="0.4"/><circle cx="484.6" cy="83.4" r="0.4"/><circle cx="476.0" cy="83.7" r="0.4"/><circle cx="475.3" cy="84.5" r="0.4"/><circle cx="473.6" cy="80.9" r="0.4"/><circle cx="482.3" cy="88.6" r="0.4"/><circle cx="481.0" cy="87.8" r="0.4"/><circle cx="473.4" cy="80.0" r="0.4"/><circle cx="478.1" cy="80.0" r="0.4"/><circle cx="472.7" cy="89.8" r="0.4"/><circle cx="474.7" cy="76.7" r="0.4"/><circle cx="479.2" cy="90.7" r="0.4"/><circle cx="476.5" cy="87.7" r="0.4"/><circle cx="473.2" cy="79.0" r="0.4"/><circle cx="471.5" cy="80.8" r="0.4"/><circle cx="487.9" cy="75.7" r="0.4"/><circle cx="486.6" cy="76.5" r="0.4"/><circle cx="474.5" cy="85.7" r="0.4"/><circle cx="480.1" cy="82.9" r="0.4"/><circle cx="469.4" cy="94.3" r="0.4"/><circle cx="474.6" cy="82.4" r="0.4"/><circle cx="468.5" cy="79.1" r="0.4"/><circle cx="474.3" cy="84.3" r="0.4"/><circle cx="471.6" cy="79.0" r="0.4"/><circle cx="484.4" cy="76.6" r="0.4"/><circle cx="468.6" cy="79.3" r="0.4"/><circle cx="481.9" cy="77.4" r="0.4"/><circle cx="481.7" cy="78.1" r="0.4"/><circle cx="485.7" cy="88.1" r="0.4"/><circle cx="472.9" cy="80.4" r="0.4"/><circle cx="470.6" cy="82.5" r="0.4"/><circle cx="483.5" cy="74.3" r="0.4"/><circle cx="482.0" cy="74.9" r="0.4"/><circle cx="470.4" cy="72.6" r="0.4"/><circle cx="489.7" cy="81.8" r="0.4"/><circle cx="477.6" cy="78.1" r="0.4"/><circle cx="482.9" cy="71.0" r="0.4"/><circle cx="476.2" cy="92.5" r="0.4"/><circle cx="473.5" cy="81.6" r="0.4"/><circle cx="480.4" cy="77.4" r="0.4"/><circle cx="476.1" cy="86.3" r="0.4"/><circle cx="477.3" cy="83.4" r="0.4"/><circle cx="473.7" cy="83.1" r="0.4"/><circle cx="476.4" cy="88.8" r="0.4"/><circle cx="480.7" cy="80.3" r="0.4"/><circle cx="480.9" cy="76.9" r="0.4"/><circle cx="482.0" cy="76.2" r="0.4"/><circle cx="473.0" cy="82.6" r="0.4"/><circle cx="484.0" cy="81.4" r="0.4"/><circle cx="475.3" cy="78.8" r="0.4"/><circle cx="486.6" cy="86.8" r="0.4"/><circle cx="475.4" cy="74.5" r="0.4"/><circle cx="470.9" cy="84.4" r="0.4"/><circle cx="471.3" cy="86.0" r="0.4"/><circle cx="478.3" cy="83.0" r="0.4"/><circle cx="480.2" cy="84.0" r="0.4"/><circle cx="470.4" cy="79.9" r="0.4"/><circle cx="491.2" cy="75.5" r="0.4"/><circle cx="472.9" cy="86.8" r="0.4"/><circle cx="475.0" cy="77.4" r="0.4"/><circle cx="482.6" cy="88.5" r="0.4"/><circle cx="476.3" cy="86.7" r="0.4"/><circle cx="469.3" cy="82.3" r="0.4"/><circle cx="471.6" cy="82.4" r="0.4"/><circle cx="480.9" cy="86.8" r="0.4"/><circle cx="469.6" cy="87.8" r="0.4"/><circle cx="472.9" cy="76.4" r="0.4"/><circle cx="474.9" cy="74.2" r="0.4"/><circle cx="476.0" cy="82.9" r="0.4"/><circle cx="474.7" cy="84.2" r="0.4"/><circle cx="474.0" cy="81.5" r="0.4"/><circle cx="470.5" cy="79.3" r="0.4"/><circle cx="475.4" cy="82.5" r="0.4"/><circle cx="474.0" cy="83.9" r="0.4"/><circle cx="478.3" cy="86.0" r="0.4"/><circle cx="484.5" cy="84.0" r="0.4"/><circle cx="475.9" cy="76.3" r="0.4"/><circle cx="469.9" cy="79.2" r="0.4"/><circle cx="477.7" cy="82.6" r="0.4"/><circle cx="476.0" cy="80.7" r="0.4"/><circle cx="480.1" cy="82.5" r="0.4"/><circle cx="477.9" cy="83.0" r="0.4"/><circle cx="472.4" cy="76.3" r="0.4"/><circle cx="479.2" cy="83.6" r="0.4"/><circle cx="474.6" cy="79.4" r="0.4"/><circle cx="490.8" cy="77.7" r="0.4"/><circle cx="474.6" cy="82.8" r="0.4"/><circle cx="468.5" cy="82.1" r="0.4"/><circle cx="487.7" cy="86.2" r="0.4"/><circle cx="480.1" cy="84.5" r="0.4"/><circle cx="476.7" cy="86.3" r="0.4"/><circle cx="475.0" cy="79.4" r="0.4"/></g>
<g fill="#4a2e6e" fill-opacity="0.45"><circle cx="474.8" cy="79.9" r="0.4"/><circle cx="475.3" cy="79.5" r="0.4"/><circle cx="469.4" cy="80.3" r="0.4"/><circle cx="480.4" cy="80.5" r="0.4"/><circle cx="473.7" cy="77.2" r="0.4"/><circle cx="475.2" cy="77.0" r="0.4"/><circle cx="476.3" cy="77.7" r="0.4"/><circle cx="476.9" cy="80.5" r="0.4"/><circle cx="469.4" cy="78.9" r="0.4"/><circle cx="472.8" cy="76.4" r="0.4"/><circle cx="473.0" cy="78.2" r="0.4"/><circle cx="477.1" cy="76.2" r="0.4"/><circle cx="477.1" cy="81.5" r="0.4"/><circle cx="476.0" cy="79.3" r="0.4"/><circle cx="474.5" cy="76.7" r="0.4"/><circle cx="475.8" cy="79.1" r="0.4"/><circle cx="476.3" cy="82.4" r="0.4"/><circle cx="476.3" cy="79.1" r="0.4"/><circle cx="478.4" cy="76.5" r="0.4"/><circle cx="471.6" cy="77.9" r="0.4"/><circle cx="472.9" cy="79.5" r="0.4"/><circle cx="473.7" cy="81.1" r="0.4"/><circle cx="478.3" cy="79.7" r="0.4"/><circle cx="473.5" cy="79.4" r="0.4"/><circle cx="476.5" cy="76.9" r="0.4"/><circle cx="475.4" cy="79.6" r="0.4"/><circle cx="475.0" cy="80.9" r="0.4"/><circle cx="477.5" cy="77.3" r="0.4"/><circle cx="474.8" cy="77.2" r="0.4"/><circle cx="475.9" cy="77.2" r="0.4"/><circle cx="476.8" cy="79.1" r="0.4"/><circle cx="476.9" cy="78.3" r="0.4"/><circle cx="470.9" cy="81.1" r="0.4"/><circle cx="474.1" cy="80.6" r="0.4"/><circle cx="475.6" cy="79.5" r="0.4"/><circle cx="479.1" cy="79.0" r="0.4"/><circle cx="478.0" cy="76.3" r="0.4"/><circle cx="476.7" cy="78.1" r="0.4"/><circle cx="474.2" cy="78.5" r="0.4"/><circle cx="475.4" cy="81.0" r="0.4"/><circle cx="469.9" cy="78.6" r="0.4"/><circle cx="472.7" cy="80.2" r="0.4"/><circle cx="473.4" cy="79.2" r="0.4"/><circle cx="473.5" cy="79.5" r="0.4"/><circle cx="477.0" cy="77.9" r="0.4"/><circle cx="474.6" cy="76.4" r="0.4"/><circle cx="475.3" cy="79.8" r="0.4"/><circle cx="473.1" cy="80.2" r="0.4"/><circle cx="469.3" cy="75.7" r="0.4"/><circle cx="471.0" cy="77.8" r="0.4"/><circle cx="474.5" cy="78.4" r="0.4"/><circle cx="474.3" cy="79.6" r="0.4"/><circle cx="473.3" cy="76.6" r="0.4"/><circle cx="471.4" cy="81.7" r="0.4"/><circle cx="468.6" cy="78.2" r="0.4"/><circle cx="478.1" cy="79.2" r="0.4"/><circle cx="472.4" cy="78.5" r="0.4"/><circle cx="476.7" cy="80.3" r="0.4"/><circle cx="472.3" cy="79.6" r="0.4"/><circle cx="475.1" cy="80.2" r="0.4"/></g>
<line x1="467.50" y1="42.90" x2="467.50" y2="99.60" stroke="#8a8a8a" stroke-width="0.8" />
<line x1="444.20" y1="67.40" x2="508.90" y2="67.40" stroke="#888" stroke-width="1.3" />
<rect x="444.20" y="42.90" width="64.70" height="56.70" fill="none" stroke="#111" stroke-width="1.4"/>
<line x1="441.60" y1="48.30" x2="444.20" y2="48.30" stroke="#111" stroke-width="0.9" />
<line x1="442.40" y1="57.25" x2="444.20" y2="57.25" stroke="#111" stroke-width="0.75" />
<line x1="442.40" y1="54.99" x2="444.20" y2="54.99" stroke="#111" stroke-width="0.75" />
<line x1="442.40" y1="53.39" x2="444.20" y2="53.39" stroke="#111" stroke-width="0.75" />
<line x1="442.40" y1="52.15" x2="444.20" y2="52.15" stroke="#111" stroke-width="0.75" />
<line x1="442.40" y1="51.14" x2="444.20" y2="51.14" stroke="#111" stroke-width="0.75" />
<line x1="442.40" y1="50.28" x2="444.20" y2="50.28" stroke="#111" stroke-width="0.75" />
<line x1="442.40" y1="49.54" x2="444.20" y2="49.54" stroke="#111" stroke-width="0.75" />
<line x1="442.40" y1="48.89" x2="444.20" y2="48.89" stroke="#111" stroke-width="0.75" />
<line x1="441.60" y1="61.10" x2="444.20" y2="61.10" stroke="#111" stroke-width="0.9" />
<line x1="442.40" y1="70.05" x2="444.20" y2="70.05" stroke="#111" stroke-width="0.75" />
<line x1="442.40" y1="67.79" x2="444.20" y2="67.79" stroke="#111" stroke-width="0.75" />
<line x1="442.40" y1="66.19" x2="444.20" y2="66.19" stroke="#111" stroke-width="0.75" />
<line x1="442.40" y1="64.95" x2="444.20" y2="64.95" stroke="#111" stroke-width="0.75" />
<line x1="442.40" y1="63.94" x2="444.20" y2="63.94" stroke="#111" stroke-width="0.75" />
<line x1="442.40" y1="63.08" x2="444.20" y2="63.08" stroke="#111" stroke-width="0.75" />
<line x1="442.40" y1="62.34" x2="444.20" y2="62.34" stroke="#111" stroke-width="0.75" />
<line x1="442.40" y1="61.69" x2="444.20" y2="61.69" stroke="#111" stroke-width="0.75" />
<line x1="442.40" y1="74.60" x2="444.20" y2="74.60" stroke="#111" stroke-width="0.75" />
<line x1="442.40" y1="78.00" x2="444.20" y2="78.00" stroke="#111" stroke-width="0.75" />
<line x1="442.40" y1="81.00" x2="444.20" y2="81.00" stroke="#111" stroke-width="0.75" />
<line x1="442.40" y1="84.00" x2="444.20" y2="84.00" stroke="#111" stroke-width="0.75" />
<line x1="442.40" y1="87.70" x2="444.20" y2="87.70" stroke="#111" stroke-width="0.75" />
<line x1="442.40" y1="90.50" x2="444.20" y2="90.50" stroke="#111" stroke-width="0.75" />
<line x1="442.40" y1="93.20" x2="444.20" y2="93.20" stroke="#111" stroke-width="0.75" />
<line x1="442.40" y1="96.30" x2="444.20" y2="96.30" stroke="#111" stroke-width="0.75" />
<text x="439.60" y="49.60" font-size="3.9" text-anchor="middle" font-weight="normal" fill="#808080" >10⁵</text>
<text x="439.60" y="62.40" font-size="3.9" text-anchor="middle" font-weight="normal" fill="#808080" >10⁴</text>
<text x="439.60" y="75.90" font-size="3.9" text-anchor="middle" font-weight="normal" fill="#808080" >10³</text>
<text x="439.60" y="88.80" font-size="3.9" text-anchor="middle" font-weight="normal" fill="#808080" >0</text>
<line x1="470.00" y1="99.60" x2="470.00" y2="102.20" stroke="#111" stroke-width="0.9" />
<line x1="461.96" y1="99.60" x2="461.96" y2="101.40" stroke="#111" stroke-width="0.75" />
<line x1="463.99" y1="99.60" x2="463.99" y2="101.40" stroke="#111" stroke-width="0.75" />
<line x1="465.42" y1="99.60" x2="465.42" y2="101.40" stroke="#111" stroke-width="0.75" />
<line x1="466.54" y1="99.60" x2="466.54" y2="101.40" stroke="#111" stroke-width="0.75" />
<line x1="467.45" y1="99.60" x2="467.45" y2="101.40" stroke="#111" stroke-width="0.75" />
<line x1="468.22" y1="99.60" x2="468.22" y2="101.40" stroke="#111" stroke-width="0.75" />
<line x1="468.89" y1="99.60" x2="468.89" y2="101.40" stroke="#111" stroke-width="0.75" />
<line x1="469.47" y1="99.60" x2="469.47" y2="101.40" stroke="#111" stroke-width="0.75" />
<line x1="487.00" y1="99.60" x2="487.00" y2="102.20" stroke="#111" stroke-width="0.9" />
<line x1="475.12" y1="99.60" x2="475.12" y2="101.40" stroke="#111" stroke-width="0.75" />
<line x1="478.11" y1="99.60" x2="478.11" y2="101.40" stroke="#111" stroke-width="0.75" />
<line x1="480.24" y1="99.60" x2="480.24" y2="101.40" stroke="#111" stroke-width="0.75" />
<line x1="481.88" y1="99.60" x2="481.88" y2="101.40" stroke="#111" stroke-width="0.75" />
<line x1="483.23" y1="99.60" x2="483.23" y2="101.40" stroke="#111" stroke-width="0.75" />
<line x1="484.37" y1="99.60" x2="484.37" y2="101.40" stroke="#111" stroke-width="0.75" />
<line x1="485.35" y1="99.60" x2="485.35" y2="101.40" stroke="#111" stroke-width="0.75" />
<line x1="486.22" y1="99.60" x2="486.22" y2="101.40" stroke="#111" stroke-width="0.75" />
<line x1="503.00" y1="99.60" x2="503.00" y2="102.20" stroke="#111" stroke-width="0.9" />
<line x1="492.03" y1="99.60" x2="492.03" y2="101.40" stroke="#111" stroke-width="0.75" />
<line x1="494.79" y1="99.60" x2="494.79" y2="101.40" stroke="#111" stroke-width="0.75" />
<line x1="496.75" y1="99.60" x2="496.75" y2="101.40" stroke="#111" stroke-width="0.75" />
<line x1="498.27" y1="99.60" x2="498.27" y2="101.40" stroke="#111" stroke-width="0.75" />
<line x1="499.52" y1="99.60" x2="499.52" y2="101.40" stroke="#111" stroke-width="0.75" />
<line x1="500.57" y1="99.60" x2="500.57" y2="101.40" stroke="#111" stroke-width="0.75" />
<line x1="501.48" y1="99.60" x2="501.48" y2="101.40" stroke="#111" stroke-width="0.75" />
<line x1="502.28" y1="99.60" x2="502.28" y2="101.40" stroke="#111" stroke-width="0.75" />
<line x1="447.00" y1="99.60" x2="447.00" y2="101.40" stroke="#111" stroke-width="0.75" />
<line x1="450.00" y1="99.60" x2="450.00" y2="101.40" stroke="#111" stroke-width="0.75" />
<line x1="453.00" y1="99.60" x2="453.00" y2="101.40" stroke="#111" stroke-width="0.75" />
<line x1="456.00" y1="99.60" x2="456.00" y2="101.40" stroke="#111" stroke-width="0.75" />
<line x1="457.50" y1="99.60" x2="457.50" y2="101.40" stroke="#111" stroke-width="0.75" />
<line x1="459.00" y1="99.60" x2="459.00" y2="101.40" stroke="#111" stroke-width="0.75" />
<line x1="461.50" y1="99.60" x2="461.50" y2="101.40" stroke="#111" stroke-width="0.75" />
<line x1="464.50" y1="99.60" x2="464.50" y2="101.40" stroke="#111" stroke-width="0.75" />
<text x="458.30" y="106.80" font-size="3.9" text-anchor="middle" font-weight="normal" fill="#808080" >0</text>
<text x="470.00" y="106.80" font-size="3.9" text-anchor="middle" font-weight="normal" fill="#808080" >10³</text>
<text x="487.00" y="106.80" font-size="3.9" text-anchor="middle" font-weight="normal" fill="#808080" >10⁴</text>
<text x="503.00" y="106.80" font-size="3.9" text-anchor="middle" font-weight="normal" fill="#808080" >10⁵</text>
<text x="445.80" y="49.60" font-size="5.8" text-anchor="start" font-weight="normal" fill="#1a1a1a" stroke="#1a1a1a" stroke-width="0.08" >8.8</text>
<text x="447.80" y="98.30" font-size="5.8" text-anchor="start" font-weight="normal" fill="#1a1a1a" stroke="#1a1a1a" stroke-width="0.08" >84.1</text>
<text x="505.90" y="98.30" font-size="5.8" text-anchor="end" font-weight="normal" fill="#1a1a1a" stroke="#1a1a1a" stroke-width="0.08" >6.8</text>
<line x1="351.00" y1="48.00" x2="351.00" y2="62.50" stroke="#1a1a1a" stroke-width="1.3" />
<line x1="351.00" y1="79.80" x2="351.00" y2="101.00" stroke="#1a1a1a" stroke-width="1.3" />
<path d="M351,45 L353.3,49.6 L348.7,49.6 Z" fill="#111"/>
<text transform="translate(352.94,71.50) rotate(-90)" x="0" y="0" font-size="5.6" text-anchor="middle" fill="#1a1a1a" stroke="#1a1a1a" stroke-width="0.22" textLength="11.4" lengthAdjust="spacingAndGlyphs">CD27</text>
<line x1="365.60" y1="112.40" x2="424.30" y2="112.40" stroke="#1a1a1a" stroke-width="1.3" />
<line x1="441.50" y1="112.40" x2="505.00" y2="112.40" stroke="#1a1a1a" stroke-width="1.3" />
<path d="M509.6,112.4 L504.6,110.1 L504.6,114.7 Z" fill="#111"/>
<text x="433.10" y="114.80" font-size="6.3" text-anchor="middle" font-weight="normal" fill="#1a1a1a" stroke="#1a1a1a" stroke-width="0.22" textLength="13.2" lengthAdjust="spacingAndGlyphs">CD10</text>
<ellipse cx="382" cy="156" rx="7" ry="7" fill="#fcf6d8" fill-opacity="0.45" filter="url(#b25)"/>
<ellipse cx="381" cy="144.2" rx="5" ry="2.2" fill="#d4e8c8" fill-opacity="0.5" filter="url(#b12)"/>
<g fill="#70a860" fill-opacity="0.35"><circle cx="385.9" cy="144.4" r="0.35"/><circle cx="375.9" cy="145.7" r="0.35"/><circle cx="387.2" cy="146.2" r="0.35"/><circle cx="381.8" cy="149.3" r="0.35"/><circle cx="377.4" cy="146.6" r="0.35"/><circle cx="379.0" cy="145.1" r="0.35"/><circle cx="381.3" cy="147.7" r="0.35"/><circle cx="377.7" cy="144.0" r="0.35"/><circle cx="375.4" cy="145.9" r="0.35"/><circle cx="379.4" cy="145.8" r="0.35"/><circle cx="377.2" cy="144.4" r="0.35"/><circle cx="384.6" cy="144.7" r="0.35"/><circle cx="383.2" cy="146.0" r="0.35"/><circle cx="379.8" cy="142.2" r="0.35"/><circle cx="384.4" cy="145.3" r="0.35"/><circle cx="384.4" cy="141.4" r="0.35"/><circle cx="375.2" cy="141.1" r="0.35"/><circle cx="377.9" cy="146.9" r="0.35"/><circle cx="383.0" cy="144.9" r="0.35"/><circle cx="381.5" cy="146.4" r="0.35"/><circle cx="379.9" cy="145.7" r="0.35"/><circle cx="381.5" cy="141.1" r="0.35"/><circle cx="379.7" cy="147.4" r="0.35"/><circle cx="379.6" cy="144.7" r="0.35"/><circle cx="378.9" cy="144.1" r="0.35"/><circle cx="384.9" cy="144.5" r="0.35"/><circle cx="377.4" cy="139.4" r="0.35"/><circle cx="379.0" cy="141.5" r="0.35"/><circle cx="374.6" cy="146.4" r="0.35"/><circle cx="383.5" cy="141.5" r="0.35"/><circle cx="384.0" cy="145.8" r="0.35"/><circle cx="378.3" cy="146.3" r="0.35"/><circle cx="375.3" cy="142.8" r="0.35"/><circle cx="376.0" cy="143.0" r="0.35"/><circle cx="384.1" cy="142.6" r="0.35"/><circle cx="377.0" cy="143.3" r="0.35"/><circle cx="381.7" cy="144.4" r="0.35"/><circle cx="384.0" cy="143.7" r="0.35"/><circle cx="376.5" cy="144.1" r="0.35"/><circle cx="381.1" cy="143.3" r="0.35"/></g>
<path d="M373.2,139.2 Q373.5,136.3 378,136.2 L389,136.6 Q391.5,137.2 391.5,139.3 Q391.5,141.6 388,142 L378,142.2 Q373.3,142.2 373.2,139.2 Z" fill="#3c7a28" fill-opacity="0.9" filter="url(#b6)"/>
<path d="M376,139.2 Q377,137.3 380,137.3 L388,137.6 Q390,138.2 389.5,139.6 Q389,140.9 386,141 L380,141.1 Q376.5,141 376,139.2 Z" fill="#1e5410" fill-opacity="0.9" filter="url(#b5)"/>
<path d="M390,137.8 L412,138.6 Q418,139.3 420.2,140.3 Q418,141.6 412,141.8 L390,142 Z" fill="#9cc88a" fill-opacity="0.85" filter="url(#b6)"/>
<g fill="#4e8a38" fill-opacity="0.55"><circle cx="406.2" cy="142.0" r="0.35"/><circle cx="399.3" cy="140.0" r="0.35"/><circle cx="414.7" cy="139.3" r="0.35"/><circle cx="397.1" cy="138.8" r="0.35"/><circle cx="407.1" cy="140.6" r="0.35"/><circle cx="402.7" cy="140.0" r="0.35"/><circle cx="414.1" cy="140.9" r="0.35"/><circle cx="392.6" cy="140.0" r="0.35"/><circle cx="404.7" cy="140.8" r="0.35"/><circle cx="402.0" cy="139.3" r="0.35"/><circle cx="400.1" cy="138.0" r="0.35"/><circle cx="403.6" cy="139.3" r="0.35"/><circle cx="407.5" cy="138.8" r="0.35"/><circle cx="400.3" cy="138.9" r="0.35"/><circle cx="395.2" cy="140.7" r="0.35"/><circle cx="400.0" cy="140.5" r="0.35"/><circle cx="394.8" cy="140.1" r="0.35"/><circle cx="390.2" cy="139.4" r="0.35"/><circle cx="399.7" cy="140.6" r="0.35"/><circle cx="405.1" cy="139.8" r="0.35"/><circle cx="410.4" cy="140.2" r="0.35"/><circle cx="408.0" cy="140.8" r="0.35"/><circle cx="403.1" cy="139.6" r="0.35"/><circle cx="406.3" cy="139.5" r="0.35"/><circle cx="406.7" cy="141.2" r="0.35"/><circle cx="410.5" cy="139.5" r="0.35"/><circle cx="393.4" cy="139.9" r="0.35"/><circle cx="402.6" cy="141.2" r="0.35"/><circle cx="400.6" cy="139.7" r="0.35"/><circle cx="409.5" cy="139.4" r="0.35"/><circle cx="402.4" cy="141.8" r="0.35"/><circle cx="415.5" cy="140.6" r="0.35"/><circle cx="405.8" cy="138.9" r="0.35"/><circle cx="408.1" cy="140.0" r="0.35"/><circle cx="405.4" cy="139.4" r="0.35"/><circle cx="403.5" cy="139.7" r="0.35"/><circle cx="406.1" cy="141.5" r="0.35"/><circle cx="406.5" cy="138.1" r="0.35"/><circle cx="395.9" cy="138.2" r="0.35"/><circle cx="397.3" cy="140.6" r="0.35"/><circle cx="406.8" cy="139.3" r="0.35"/><circle cx="405.7" cy="139.1" r="0.35"/><circle cx="392.3" cy="138.4" r="0.35"/><circle cx="396.8" cy="141.5" r="0.35"/><circle cx="392.9" cy="141.3" r="0.35"/><circle cx="414.2" cy="139.7" r="0.35"/><circle cx="403.2" cy="139.3" r="0.35"/><circle cx="403.4" cy="140.7" r="0.35"/><circle cx="403.7" cy="141.0" r="0.35"/><circle cx="413.1" cy="140.3" r="0.35"/><circle cx="406.2" cy="139.9" r="0.35"/><circle cx="406.4" cy="138.7" r="0.35"/><circle cx="406.8" cy="140.2" r="0.35"/><circle cx="396.7" cy="142.3" r="0.35"/><circle cx="395.8" cy="139.0" r="0.35"/><circle cx="405.8" cy="137.8" r="0.35"/><circle cx="397.3" cy="138.3" r="0.35"/><circle cx="395.9" cy="139.8" r="0.35"/><circle cx="406.1" cy="141.2" r="0.35"/><circle cx="410.0" cy="141.2" r="0.35"/><circle cx="408.3" cy="139.4" r="0.35"/><circle cx="412.5" cy="139.4" r="0.35"/><circle cx="398.7" cy="141.6" r="0.35"/><circle cx="409.9" cy="140.2" r="0.35"/><circle cx="409.6" cy="140.9" r="0.35"/><circle cx="392.7" cy="139.8" r="0.35"/><circle cx="394.1" cy="140.1" r="0.35"/><circle cx="398.2" cy="141.4" r="0.35"/><circle cx="407.7" cy="139.0" r="0.35"/><circle cx="403.4" cy="138.6" r="0.35"/><circle cx="403.9" cy="140.5" r="0.35"/><circle cx="405.7" cy="137.8" r="0.35"/><circle cx="400.9" cy="140.5" r="0.35"/><circle cx="406.0" cy="141.2" r="0.35"/><circle cx="393.3" cy="140.5" r="0.35"/><circle cx="398.3" cy="140.2" r="0.35"/><circle cx="406.8" cy="140.7" r="0.35"/><circle cx="398.9" cy="140.1" r="0.35"/><circle cx="394.2" cy="138.4" r="0.35"/><circle cx="408.0" cy="139.9" r="0.35"/><circle cx="390.6" cy="139.0" r="0.35"/><circle cx="403.7" cy="141.6" r="0.35"/><circle cx="411.9" cy="140.8" r="0.35"/><circle cx="407.4" cy="140.4" r="0.35"/><circle cx="406.9" cy="139.7" r="0.35"/><circle cx="417.6" cy="141.6" r="0.35"/><circle cx="402.8" cy="138.9" r="0.35"/><circle cx="420.0" cy="139.3" r="0.35"/><circle cx="413.1" cy="142.0" r="0.35"/><circle cx="396.0" cy="140.3" r="0.35"/><circle cx="400.8" cy="140.5" r="0.35"/><circle cx="406.1" cy="142.1" r="0.35"/><circle cx="408.3" cy="139.9" r="0.35"/><circle cx="412.5" cy="139.6" r="0.35"/><circle cx="400.6" cy="142.4" r="0.35"/><circle cx="397.0" cy="139.4" r="0.35"/><circle cx="403.9" cy="138.8" r="0.35"/><circle cx="397.3" cy="139.3" r="0.35"/><circle cx="400.6" cy="138.9" r="0.35"/><circle cx="394.9" cy="140.1" r="0.35"/><circle cx="409.5" cy="138.3" r="0.35"/><circle cx="403.3" cy="138.6" r="0.35"/><circle cx="409.7" cy="139.7" r="0.35"/><circle cx="403.8" cy="139.8" r="0.35"/><circle cx="398.9" cy="138.3" r="0.35"/><circle cx="408.2" cy="138.4" r="0.35"/><circle cx="394.1" cy="139.6" r="0.35"/><circle cx="397.9" cy="140.2" r="0.35"/><circle cx="411.6" cy="140.2" r="0.35"/><circle cx="405.1" cy="140.0" r="0.35"/><circle cx="410.4" cy="137.9" r="0.35"/><circle cx="406.5" cy="138.9" r="0.35"/><circle cx="393.7" cy="139.9" r="0.35"/><circle cx="400.4" cy="140.6" r="0.35"/><circle cx="412.3" cy="137.4" r="0.35"/><circle cx="402.9" cy="142.1" r="0.35"/><circle cx="410.5" cy="141.5" r="0.35"/><circle cx="404.3" cy="138.4" r="0.35"/><circle cx="394.5" cy="140.7" r="0.35"/><circle cx="411.2" cy="139.1" r="0.35"/><circle cx="401.4" cy="140.2" r="0.35"/><circle cx="416.5" cy="142.3" r="0.35"/><circle cx="402.7" cy="141.9" r="0.35"/><circle cx="399.3" cy="139.0" r="0.35"/><circle cx="400.5" cy="142.5" r="0.35"/><circle cx="406.2" cy="140.1" r="0.35"/><circle cx="400.6" cy="139.8" r="0.35"/><circle cx="411.4" cy="139.3" r="0.35"/><circle cx="404.3" cy="140.4" r="0.35"/><circle cx="411.2" cy="140.1" r="0.35"/><circle cx="417.3" cy="139.7" r="0.35"/><circle cx="398.7" cy="139.4" r="0.35"/><circle cx="411.6" cy="140.2" r="0.35"/><circle cx="397.0" cy="140.3" r="0.35"/><circle cx="407.8" cy="140.7" r="0.35"/><circle cx="397.4" cy="140.9" r="0.35"/><circle cx="418.5" cy="139.5" r="0.35"/><circle cx="409.5" cy="138.2" r="0.35"/><circle cx="403.9" cy="140.2" r="0.35"/><circle cx="398.9" cy="139.6" r="0.35"/><circle cx="410.1" cy="141.8" r="0.35"/><circle cx="401.8" cy="138.1" r="0.35"/><circle cx="413.8" cy="140.6" r="0.35"/><circle cx="409.0" cy="140.1" r="0.35"/><circle cx="407.7" cy="137.9" r="0.35"/><circle cx="399.0" cy="139.2" r="0.35"/><circle cx="403.4" cy="140.3" r="0.35"/><circle cx="397.6" cy="141.8" r="0.35"/><circle cx="395.1" cy="139.4" r="0.35"/><circle cx="405.5" cy="138.6" r="0.35"/><circle cx="408.2" cy="140.6" r="0.35"/><circle cx="401.2" cy="142.0" r="0.35"/><circle cx="404.2" cy="140.3" r="0.35"/><circle cx="395.9" cy="138.1" r="0.35"/><circle cx="398.5" cy="139.6" r="0.35"/><circle cx="399.9" cy="140.8" r="0.35"/><circle cx="399.1" cy="139.4" r="0.35"/><circle cx="394.8" cy="140.9" r="0.35"/><circle cx="400.3" cy="140.2" r="0.35"/><circle cx="406.8" cy="140.6" r="0.35"/><circle cx="413.5" cy="139.7" r="0.35"/><circle cx="402.3" cy="140.7" r="0.35"/><circle cx="407.0" cy="139.7" r="0.35"/><circle cx="404.0" cy="139.4" r="0.35"/><circle cx="409.3" cy="141.0" r="0.35"/><circle cx="403.6" cy="142.0" r="0.35"/><circle cx="391.3" cy="139.7" r="0.35"/><circle cx="417.3" cy="139.5" r="0.35"/><circle cx="390.8" cy="141.5" r="0.35"/><circle cx="408.0" cy="138.6" r="0.35"/><circle cx="409.8" cy="138.8" r="0.35"/><circle cx="392.9" cy="139.8" r="0.35"/><circle cx="399.8" cy="138.7" r="0.35"/><circle cx="400.7" cy="138.8" r="0.35"/><circle cx="404.1" cy="139.9" r="0.35"/><circle cx="409.6" cy="139.4" r="0.35"/><circle cx="392.9" cy="138.5" r="0.35"/><circle cx="401.6" cy="141.6" r="0.35"/><circle cx="410.4" cy="139.2" r="0.35"/><circle cx="411.2" cy="138.7" r="0.35"/><circle cx="411.7" cy="139.5" r="0.35"/><circle cx="409.8" cy="140.6" r="0.35"/><circle cx="401.4" cy="140.3" r="0.35"/><circle cx="395.1" cy="139.9" r="0.35"/><circle cx="412.3" cy="144.5" r="0.35"/><circle cx="409.3" cy="140.0" r="0.35"/><circle cx="395.5" cy="141.1" r="0.35"/><circle cx="390.3" cy="139.1" r="0.35"/><circle cx="406.5" cy="138.6" r="0.35"/><circle cx="416.0" cy="141.2" r="0.35"/><circle cx="399.1" cy="139.3" r="0.35"/><circle cx="393.0" cy="138.4" r="0.35"/><circle cx="407.2" cy="140.6" r="0.35"/><circle cx="406.5" cy="140.2" r="0.35"/><circle cx="399.1" cy="140.3" r="0.35"/><circle cx="391.8" cy="140.0" r="0.35"/><circle cx="415.5" cy="141.4" r="0.35"/><circle cx="399.9" cy="139.6" r="0.35"/><circle cx="414.7" cy="141.9" r="0.35"/><circle cx="391.6" cy="139.5" r="0.35"/><circle cx="405.5" cy="141.3" r="0.35"/><circle cx="396.9" cy="140.7" r="0.35"/><circle cx="401.2" cy="142.6" r="0.35"/><circle cx="407.1" cy="139.8" r="0.35"/><circle cx="400.9" cy="141.1" r="0.35"/><circle cx="409.1" cy="138.8" r="0.35"/></g>
<g fill="#e8a0aa" fill-opacity="0.45"><circle cx="382.9" cy="160.7" r="0.35"/><circle cx="378.0" cy="160.8" r="0.35"/><circle cx="375.1" cy="162.0" r="0.35"/><circle cx="376.9" cy="164.5" r="0.35"/><circle cx="385.8" cy="162.9" r="0.35"/><circle cx="376.2" cy="165.0" r="0.35"/><circle cx="371.6" cy="159.5" r="0.35"/><circle cx="385.4" cy="164.7" r="0.35"/><circle cx="386.7" cy="163.0" r="0.35"/><circle cx="375.4" cy="162.4" r="0.35"/><circle cx="384.6" cy="161.9" r="0.35"/><circle cx="378.3" cy="160.6" r="0.35"/><circle cx="375.9" cy="165.1" r="0.35"/><circle cx="384.1" cy="161.1" r="0.35"/><circle cx="376.4" cy="162.3" r="0.35"/><circle cx="384.5" cy="161.1" r="0.35"/><circle cx="380.9" cy="159.1" r="0.35"/><circle cx="375.5" cy="164.3" r="0.35"/><circle cx="386.3" cy="161.1" r="0.35"/><circle cx="377.9" cy="165.0" r="0.35"/><circle cx="379.8" cy="162.3" r="0.35"/><circle cx="384.4" cy="163.8" r="0.35"/><circle cx="387.4" cy="165.0" r="0.35"/><circle cx="378.9" cy="163.2" r="0.35"/><circle cx="381.5" cy="160.7" r="0.35"/><circle cx="376.9" cy="165.4" r="0.35"/><circle cx="373.8" cy="165.4" r="0.35"/><circle cx="383.2" cy="163.1" r="0.35"/><circle cx="384.5" cy="164.4" r="0.35"/><circle cx="387.9" cy="162.6" r="0.35"/><circle cx="380.6" cy="162.9" r="0.35"/><circle cx="391.2" cy="165.3" r="0.35"/><circle cx="377.2" cy="162.7" r="0.35"/><circle cx="378.2" cy="163.4" r="0.35"/><circle cx="382.9" cy="168.0" r="0.35"/><circle cx="372.6" cy="165.5" r="0.35"/><circle cx="384.0" cy="162.0" r="0.35"/><circle cx="381.0" cy="162.4" r="0.35"/><circle cx="382.1" cy="165.4" r="0.35"/><circle cx="374.2" cy="166.1" r="0.35"/><circle cx="379.9" cy="166.4" r="0.35"/><circle cx="383.9" cy="165.9" r="0.35"/><circle cx="384.6" cy="165.6" r="0.35"/><circle cx="382.1" cy="161.8" r="0.35"/><circle cx="385.2" cy="164.9" r="0.35"/><circle cx="392.3" cy="159.4" r="0.35"/><circle cx="380.8" cy="165.6" r="0.35"/><circle cx="375.5" cy="163.0" r="0.35"/><circle cx="392.4" cy="166.3" r="0.35"/><circle cx="377.4" cy="166.3" r="0.35"/><circle cx="387.8" cy="165.0" r="0.35"/><circle cx="383.7" cy="163.9" r="0.35"/><circle cx="377.5" cy="162.4" r="0.35"/><circle cx="385.5" cy="163.7" r="0.35"/><circle cx="391.1" cy="162.8" r="0.35"/><circle cx="369.8" cy="162.8" r="0.35"/><circle cx="383.2" cy="164.2" r="0.35"/><circle cx="382.2" cy="161.8" r="0.35"/><circle cx="389.3" cy="162.1" r="0.35"/><circle cx="385.4" cy="162.9" r="0.35"/></g>
<path d="M369,167.6 L413,167.6 Q419,168.2 423,172.6" fill="none" stroke="#6e5c5c" stroke-width="1.8"/>
<path d="M411,168.3 Q418,169 422.8,173.2" fill="none" stroke="#d02040" stroke-width="1.0"/>
<rect x="391.0" y="132.5" width="37.00" height="19.10" fill="none" stroke="#b0b0b0" stroke-width="0.8"/>
<path d="M390.7,183.7 L390.7,164.9 L428.2,164.9 L428.2,183.7" fill="none" stroke="#b0b0b0" stroke-width="0.8"/>
<rect x="367.20" y="129.10" width="65.10" height="54.60" fill="none" stroke="#111" stroke-width="1.4"/>
<line x1="364.60" y1="135.60" x2="367.20" y2="135.60" stroke="#111" stroke-width="0.9" />
<line x1="365.40" y1="143.01" x2="367.20" y2="143.01" stroke="#111" stroke-width="0.75" />
<line x1="365.40" y1="141.14" x2="367.20" y2="141.14" stroke="#111" stroke-width="0.75" />
<line x1="365.40" y1="139.82" x2="367.20" y2="139.82" stroke="#111" stroke-width="0.75" />
<line x1="365.40" y1="138.79" x2="367.20" y2="138.79" stroke="#111" stroke-width="0.75" />
<line x1="365.40" y1="137.95" x2="367.20" y2="137.95" stroke="#111" stroke-width="0.75" />
<line x1="365.40" y1="137.24" x2="367.20" y2="137.24" stroke="#111" stroke-width="0.75" />
<line x1="365.40" y1="136.63" x2="367.20" y2="136.63" stroke="#111" stroke-width="0.75" />
<line x1="365.40" y1="136.09" x2="367.20" y2="136.09" stroke="#111" stroke-width="0.75" />
<line x1="364.60" y1="146.20" x2="367.20" y2="146.20" stroke="#111" stroke-width="0.9" />
<line x1="365.40" y1="153.61" x2="367.20" y2="153.61" stroke="#111" stroke-width="0.75" />
<line x1="365.40" y1="151.74" x2="367.20" y2="151.74" stroke="#111" stroke-width="0.75" />
<line x1="365.40" y1="150.42" x2="367.20" y2="150.42" stroke="#111" stroke-width="0.75" />
<line x1="365.40" y1="149.39" x2="367.20" y2="149.39" stroke="#111" stroke-width="0.75" />
<line x1="365.40" y1="148.55" x2="367.20" y2="148.55" stroke="#111" stroke-width="0.75" />
<line x1="365.40" y1="147.84" x2="367.20" y2="147.84" stroke="#111" stroke-width="0.75" />
<line x1="365.40" y1="147.23" x2="367.20" y2="147.23" stroke="#111" stroke-width="0.75" />
<line x1="365.40" y1="146.69" x2="367.20" y2="146.69" stroke="#111" stroke-width="0.75" />
<line x1="365.40" y1="157.40" x2="367.20" y2="157.40" stroke="#111" stroke-width="0.75" />
<line x1="365.40" y1="160.00" x2="367.20" y2="160.00" stroke="#111" stroke-width="0.75" />
<line x1="365.40" y1="162.00" x2="367.20" y2="162.00" stroke="#111" stroke-width="0.75" />
<line x1="365.40" y1="163.80" x2="367.20" y2="163.80" stroke="#111" stroke-width="0.75" />
<line x1="365.40" y1="165.50" x2="367.20" y2="165.50" stroke="#111" stroke-width="0.75" />
<line x1="365.40" y1="167.20" x2="367.20" y2="167.20" stroke="#111" stroke-width="0.75" />
<line x1="365.40" y1="169.00" x2="367.20" y2="169.00" stroke="#111" stroke-width="0.75" />
<line x1="365.40" y1="171.00" x2="367.20" y2="171.00" stroke="#111" stroke-width="0.75" />
<line x1="365.40" y1="173.00" x2="367.20" y2="173.00" stroke="#111" stroke-width="0.75" />
<line x1="365.40" y1="175.20" x2="367.20" y2="175.20" stroke="#111" stroke-width="0.75" />
<line x1="365.40" y1="177.50" x2="367.20" y2="177.50" stroke="#111" stroke-width="0.75" />
<line x1="365.40" y1="180.00" x2="367.20" y2="180.00" stroke="#111" stroke-width="0.75" />
<line x1="365.40" y1="182.30" x2="367.20" y2="182.30" stroke="#111" stroke-width="0.75" />
<text x="362.60" y="136.90" font-size="3.9" text-anchor="middle" font-weight="normal" fill="#808080" >10⁵</text>
<text x="362.60" y="147.50" font-size="3.9" text-anchor="middle" font-weight="normal" fill="#808080" >10⁴</text>
<text x="362.60" y="158.50" font-size="3.9" text-anchor="middle" font-weight="normal" fill="#808080" >10³</text>
<text x="362.60" y="165.30" font-size="3.9" text-anchor="middle" font-weight="normal" fill="#808080" >0</text>
<text x="362.60" y="172.30" font-size="3.9" text-anchor="middle" font-weight="normal" fill="#808080" >-10³</text>
<line x1="396.50" y1="183.70" x2="396.50" y2="186.30" stroke="#111" stroke-width="0.9" />
<line x1="387.76" y1="183.70" x2="387.76" y2="185.50" stroke="#111" stroke-width="0.75" />
<line x1="389.96" y1="183.70" x2="389.96" y2="185.50" stroke="#111" stroke-width="0.75" />
<line x1="391.53" y1="183.70" x2="391.53" y2="185.50" stroke="#111" stroke-width="0.75" />
<line x1="392.74" y1="183.70" x2="392.74" y2="185.50" stroke="#111" stroke-width="0.75" />
<line x1="393.73" y1="183.70" x2="393.73" y2="185.50" stroke="#111" stroke-width="0.75" />
<line x1="394.56" y1="183.70" x2="394.56" y2="185.50" stroke="#111" stroke-width="0.75" />
<line x1="395.29" y1="183.70" x2="395.29" y2="185.50" stroke="#111" stroke-width="0.75" />
<line x1="395.93" y1="183.70" x2="395.93" y2="185.50" stroke="#111" stroke-width="0.75" />
<line x1="412.00" y1="183.70" x2="412.00" y2="186.30" stroke="#111" stroke-width="0.9" />
<line x1="401.17" y1="183.70" x2="401.17" y2="185.50" stroke="#111" stroke-width="0.75" />
<line x1="403.90" y1="183.70" x2="403.90" y2="185.50" stroke="#111" stroke-width="0.75" />
<line x1="405.83" y1="183.70" x2="405.83" y2="185.50" stroke="#111" stroke-width="0.75" />
<line x1="407.33" y1="183.70" x2="407.33" y2="185.50" stroke="#111" stroke-width="0.75" />
<line x1="408.56" y1="183.70" x2="408.56" y2="185.50" stroke="#111" stroke-width="0.75" />
<line x1="409.60" y1="183.70" x2="409.60" y2="185.50" stroke="#111" stroke-width="0.75" />
<line x1="410.50" y1="183.70" x2="410.50" y2="185.50" stroke="#111" stroke-width="0.75" />
<line x1="411.29" y1="183.70" x2="411.29" y2="185.50" stroke="#111" stroke-width="0.75" />
<line x1="426.50" y1="183.70" x2="426.50" y2="186.30" stroke="#111" stroke-width="0.9" />
<line x1="416.36" y1="183.70" x2="416.36" y2="185.50" stroke="#111" stroke-width="0.75" />
<line x1="418.92" y1="183.70" x2="418.92" y2="185.50" stroke="#111" stroke-width="0.75" />
<line x1="420.73" y1="183.70" x2="420.73" y2="185.50" stroke="#111" stroke-width="0.75" />
<line x1="422.14" y1="183.70" x2="422.14" y2="185.50" stroke="#111" stroke-width="0.75" />
<line x1="423.28" y1="183.70" x2="423.28" y2="185.50" stroke="#111" stroke-width="0.75" />
<line x1="424.25" y1="183.70" x2="424.25" y2="185.50" stroke="#111" stroke-width="0.75" />
<line x1="425.09" y1="183.70" x2="425.09" y2="185.50" stroke="#111" stroke-width="0.75" />
<line x1="425.84" y1="183.70" x2="425.84" y2="185.50" stroke="#111" stroke-width="0.75" />
<line x1="369.50" y1="183.70" x2="369.50" y2="185.50" stroke="#111" stroke-width="0.75" />
<line x1="371.50" y1="183.70" x2="371.50" y2="185.50" stroke="#111" stroke-width="0.75" />
<line x1="373.50" y1="183.70" x2="373.50" y2="185.50" stroke="#111" stroke-width="0.75" />
<line x1="375.50" y1="183.70" x2="375.50" y2="185.50" stroke="#111" stroke-width="0.75" />
<line x1="377.50" y1="183.70" x2="377.50" y2="185.50" stroke="#111" stroke-width="0.75" />
<line x1="379.50" y1="183.70" x2="379.50" y2="185.50" stroke="#111" stroke-width="0.75" />
<line x1="381.50" y1="183.70" x2="381.50" y2="185.50" stroke="#111" stroke-width="0.75" />
<line x1="384.00" y1="183.70" x2="384.00" y2="185.50" stroke="#111" stroke-width="0.75" />
<line x1="386.50" y1="183.70" x2="386.50" y2="185.50" stroke="#111" stroke-width="0.75" />
<line x1="389.00" y1="183.70" x2="389.00" y2="185.50" stroke="#111" stroke-width="0.75" />
<text x="374.00" y="190.90" font-size="3.9" text-anchor="middle" font-weight="normal" fill="#808080" >-10²</text>
<text x="378.50" y="190.90" font-size="3.9" text-anchor="middle" font-weight="normal" fill="#808080" >0</text>
<text x="383.00" y="190.90" font-size="3.9" text-anchor="middle" font-weight="normal" fill="#808080" >10²</text>
<text x="396.50" y="190.90" font-size="3.9" text-anchor="middle" font-weight="normal" fill="#808080" >10³</text>
<text x="412.00" y="190.90" font-size="3.9" text-anchor="middle" font-weight="normal" fill="#808080" >10⁴</text>
<text x="426.50" y="190.90" font-size="3.9" text-anchor="middle" font-weight="normal" fill="#808080" >10⁵</text>
<text x="427.20" y="139.40" font-size="5.8" text-anchor="end" font-weight="normal" fill="#1a1a1a" stroke="#1a1a1a" stroke-width="0.08" >15.6</text>
<text x="426.80" y="181.60" font-size="5.8" text-anchor="end" font-weight="normal" fill="#1a1a1a" stroke="#1a1a1a" stroke-width="0.08" >23.8</text>
<text x="419.50" y="150.00" font-size="2.7" text-anchor="middle" font-weight="normal" fill="#666" >CD57+CD4+</text>
<text x="423.50" y="168.60" font-size="2.3" text-anchor="middle" font-weight="normal" fill="#777" >CD4+</text>
<ellipse cx="460" cy="156" rx="7" ry="7" fill="#fcf6d8" fill-opacity="0.45" filter="url(#b25)"/>
<ellipse cx="457" cy="145.6" rx="5" ry="2.2" fill="#d4e8c8" fill-opacity="0.5" filter="url(#b12)"/>
<g fill="#70a860" fill-opacity="0.35"><circle cx="452.7" cy="148.9" r="0.35"/><circle cx="448.1" cy="144.8" r="0.35"/><circle cx="458.4" cy="145.7" r="0.35"/><circle cx="459.5" cy="146.2" r="0.35"/><circle cx="455.3" cy="150.2" r="0.35"/><circle cx="456.1" cy="146.1" r="0.35"/><circle cx="453.1" cy="145.0" r="0.35"/><circle cx="459.2" cy="147.4" r="0.35"/><circle cx="456.9" cy="145.1" r="0.35"/><circle cx="459.3" cy="143.3" r="0.35"/><circle cx="455.7" cy="145.9" r="0.35"/><circle cx="454.0" cy="146.6" r="0.35"/><circle cx="454.6" cy="144.9" r="0.35"/><circle cx="463.2" cy="147.7" r="0.35"/><circle cx="461.1" cy="146.5" r="0.35"/><circle cx="460.3" cy="147.8" r="0.35"/><circle cx="461.2" cy="150.6" r="0.35"/><circle cx="456.2" cy="146.8" r="0.35"/><circle cx="456.8" cy="140.1" r="0.35"/><circle cx="452.1" cy="146.4" r="0.35"/><circle cx="459.2" cy="145.3" r="0.35"/><circle cx="460.9" cy="148.7" r="0.35"/><circle cx="455.5" cy="149.0" r="0.35"/><circle cx="463.1" cy="147.2" r="0.35"/><circle cx="453.5" cy="149.0" r="0.35"/><circle cx="456.4" cy="145.7" r="0.35"/><circle cx="457.4" cy="145.4" r="0.35"/><circle cx="460.7" cy="147.8" r="0.35"/><circle cx="461.3" cy="147.4" r="0.35"/><circle cx="454.2" cy="146.1" r="0.35"/><circle cx="460.1" cy="145.7" r="0.35"/><circle cx="467.2" cy="146.0" r="0.35"/><circle cx="454.9" cy="148.5" r="0.35"/><circle cx="459.6" cy="146.3" r="0.35"/><circle cx="456.2" cy="147.2" r="0.35"/><circle cx="459.9" cy="147.8" r="0.35"/><circle cx="455.9" cy="147.2" r="0.35"/><circle cx="460.0" cy="147.8" r="0.35"/><circle cx="446.2" cy="144.8" r="0.35"/><circle cx="454.3" cy="146.0" r="0.35"/></g>
<path d="M447.8,140.4 Q448,137.4 452,137.2 L461,137.6 Q463.8,138.3 463.8,140.5 Q463.8,143 460,143.4 L452,143.6 Q448,143.5 447.8,140.4 Z" fill="#3c7a28" fill-opacity="0.9" filter="url(#b6)"/>
<path d="M450.5,140.4 Q451.5,138.4 454,138.4 L460.5,138.7 Q462.5,139.3 462,140.8 Q461.5,142.2 459,142.3 L454,142.4 Q451,142.3 450.5,140.4 Z" fill="#1e5410" fill-opacity="0.9" filter="url(#b5)"/>
<path d="M462,139 L486,139.8 Q491,140.5 493.6,141.4 Q491,142.6 486,142.8 L462,143 Z" fill="#9cc88a" fill-opacity="0.85" filter="url(#b6)"/>
<g fill="#4e8a38" fill-opacity="0.55"><circle cx="478.5" cy="142.0" r="0.35"/><circle cx="482.3" cy="140.9" r="0.35"/><circle cx="477.2" cy="142.9" r="0.35"/><circle cx="471.8" cy="141.3" r="0.35"/><circle cx="490.3" cy="141.4" r="0.35"/><circle cx="473.7" cy="140.9" r="0.35"/><circle cx="485.9" cy="141.5" r="0.35"/><circle cx="474.8" cy="142.0" r="0.35"/><circle cx="480.7" cy="141.1" r="0.35"/><circle cx="479.6" cy="141.3" r="0.35"/><circle cx="474.1" cy="140.5" r="0.35"/><circle cx="477.2" cy="140.0" r="0.35"/><circle cx="466.3" cy="142.4" r="0.35"/><circle cx="475.0" cy="141.0" r="0.35"/><circle cx="475.9" cy="141.0" r="0.35"/><circle cx="477.2" cy="141.1" r="0.35"/><circle cx="470.2" cy="142.0" r="0.35"/><circle cx="471.1" cy="142.1" r="0.35"/><circle cx="485.4" cy="140.8" r="0.35"/><circle cx="471.3" cy="141.4" r="0.35"/><circle cx="468.1" cy="141.1" r="0.35"/><circle cx="471.5" cy="141.6" r="0.35"/><circle cx="484.4" cy="140.1" r="0.35"/><circle cx="490.7" cy="140.3" r="0.35"/><circle cx="490.1" cy="140.9" r="0.35"/><circle cx="471.5" cy="140.2" r="0.35"/><circle cx="467.7" cy="142.5" r="0.35"/><circle cx="476.3" cy="143.0" r="0.35"/><circle cx="475.3" cy="138.4" r="0.35"/><circle cx="484.2" cy="140.6" r="0.35"/><circle cx="475.0" cy="142.7" r="0.35"/><circle cx="474.8" cy="142.3" r="0.35"/><circle cx="477.0" cy="140.2" r="0.35"/><circle cx="481.3" cy="140.3" r="0.35"/><circle cx="487.4" cy="142.1" r="0.35"/><circle cx="477.5" cy="141.7" r="0.35"/><circle cx="481.8" cy="140.7" r="0.35"/><circle cx="484.6" cy="140.7" r="0.35"/><circle cx="482.2" cy="140.0" r="0.35"/><circle cx="477.9" cy="141.5" r="0.35"/><circle cx="470.3" cy="140.5" r="0.35"/><circle cx="472.5" cy="141.8" r="0.35"/><circle cx="470.9" cy="141.5" r="0.35"/><circle cx="490.0" cy="141.4" r="0.35"/><circle cx="463.3" cy="141.1" r="0.35"/><circle cx="485.9" cy="140.7" r="0.35"/><circle cx="486.5" cy="141.7" r="0.35"/><circle cx="480.6" cy="140.7" r="0.35"/><circle cx="472.7" cy="140.7" r="0.35"/><circle cx="477.6" cy="141.6" r="0.35"/><circle cx="480.7" cy="140.7" r="0.35"/><circle cx="477.6" cy="141.4" r="0.35"/><circle cx="463.3" cy="140.2" r="0.35"/><circle cx="470.3" cy="140.8" r="0.35"/><circle cx="474.8" cy="140.7" r="0.35"/><circle cx="469.7" cy="141.8" r="0.35"/><circle cx="479.5" cy="139.2" r="0.35"/><circle cx="477.2" cy="139.8" r="0.35"/><circle cx="491.6" cy="140.5" r="0.35"/><circle cx="473.8" cy="141.1" r="0.35"/><circle cx="475.4" cy="141.0" r="0.35"/><circle cx="490.3" cy="141.3" r="0.35"/><circle cx="484.2" cy="142.3" r="0.35"/><circle cx="468.9" cy="142.9" r="0.35"/><circle cx="483.0" cy="142.1" r="0.35"/><circle cx="469.8" cy="141.9" r="0.35"/><circle cx="480.7" cy="140.4" r="0.35"/><circle cx="475.1" cy="141.2" r="0.35"/><circle cx="484.9" cy="142.3" r="0.35"/><circle cx="482.1" cy="142.4" r="0.35"/><circle cx="489.7" cy="139.7" r="0.35"/><circle cx="473.0" cy="140.0" r="0.35"/><circle cx="478.0" cy="142.6" r="0.35"/><circle cx="482.7" cy="139.9" r="0.35"/><circle cx="474.7" cy="142.2" r="0.35"/><circle cx="472.7" cy="140.9" r="0.35"/><circle cx="479.8" cy="139.0" r="0.35"/><circle cx="483.8" cy="141.4" r="0.35"/><circle cx="482.0" cy="139.9" r="0.35"/><circle cx="470.6" cy="140.4" r="0.35"/><circle cx="479.3" cy="141.1" r="0.35"/><circle cx="478.3" cy="143.0" r="0.35"/><circle cx="488.3" cy="140.2" r="0.35"/><circle cx="471.6" cy="142.9" r="0.35"/><circle cx="474.5" cy="142.5" r="0.35"/><circle cx="490.8" cy="140.4" r="0.35"/><circle cx="474.9" cy="141.1" r="0.35"/><circle cx="469.8" cy="139.9" r="0.35"/><circle cx="473.8" cy="142.0" r="0.35"/><circle cx="473.4" cy="140.8" r="0.35"/><circle cx="473.2" cy="139.5" r="0.35"/><circle cx="489.8" cy="138.4" r="0.35"/><circle cx="471.6" cy="141.6" r="0.35"/><circle cx="465.3" cy="141.7" r="0.35"/><circle cx="487.8" cy="140.1" r="0.35"/><circle cx="478.9" cy="139.8" r="0.35"/><circle cx="481.5" cy="141.1" r="0.35"/><circle cx="479.0" cy="142.5" r="0.35"/><circle cx="481.2" cy="142.5" r="0.35"/><circle cx="482.6" cy="139.7" r="0.35"/><circle cx="479.4" cy="141.6" r="0.35"/><circle cx="464.9" cy="142.5" r="0.35"/><circle cx="477.7" cy="141.4" r="0.35"/><circle cx="469.5" cy="141.1" r="0.35"/><circle cx="479.7" cy="140.7" r="0.35"/><circle cx="477.8" cy="138.7" r="0.35"/><circle cx="488.7" cy="139.8" r="0.35"/><circle cx="470.1" cy="141.6" r="0.35"/><circle cx="469.4" cy="141.3" r="0.35"/><circle cx="469.0" cy="143.4" r="0.35"/><circle cx="481.8" cy="143.2" r="0.35"/><circle cx="468.5" cy="141.8" r="0.35"/><circle cx="469.0" cy="141.7" r="0.35"/><circle cx="482.9" cy="139.3" r="0.35"/><circle cx="467.5" cy="139.7" r="0.35"/><circle cx="464.4" cy="140.2" r="0.35"/><circle cx="469.0" cy="139.4" r="0.35"/><circle cx="478.0" cy="141.6" r="0.35"/><circle cx="466.0" cy="140.4" r="0.35"/><circle cx="477.2" cy="140.8" r="0.35"/><circle cx="471.2" cy="141.9" r="0.35"/><circle cx="484.3" cy="141.8" r="0.35"/><circle cx="475.3" cy="143.2" r="0.35"/><circle cx="491.9" cy="140.6" r="0.35"/><circle cx="476.1" cy="142.3" r="0.35"/><circle cx="470.3" cy="141.5" r="0.35"/><circle cx="477.5" cy="140.2" r="0.35"/><circle cx="475.1" cy="139.3" r="0.35"/><circle cx="472.5" cy="138.8" r="0.35"/><circle cx="487.5" cy="141.3" r="0.35"/><circle cx="485.6" cy="142.4" r="0.35"/><circle cx="485.7" cy="142.0" r="0.35"/><circle cx="469.3" cy="141.5" r="0.35"/><circle cx="472.5" cy="139.7" r="0.35"/><circle cx="467.4" cy="141.5" r="0.35"/><circle cx="486.0" cy="139.5" r="0.35"/><circle cx="491.9" cy="142.6" r="0.35"/><circle cx="473.8" cy="140.5" r="0.35"/><circle cx="476.4" cy="142.1" r="0.35"/><circle cx="473.8" cy="139.8" r="0.35"/><circle cx="479.9" cy="138.7" r="0.35"/><circle cx="478.2" cy="142.3" r="0.35"/><circle cx="479.6" cy="141.9" r="0.35"/><circle cx="481.2" cy="141.8" r="0.35"/><circle cx="478.2" cy="140.1" r="0.35"/><circle cx="475.1" cy="140.9" r="0.35"/><circle cx="487.7" cy="142.8" r="0.35"/><circle cx="480.6" cy="140.2" r="0.35"/><circle cx="470.8" cy="140.8" r="0.35"/><circle cx="488.8" cy="141.4" r="0.35"/><circle cx="476.5" cy="140.2" r="0.35"/><circle cx="484.5" cy="141.3" r="0.35"/><circle cx="476.6" cy="141.1" r="0.35"/><circle cx="491.3" cy="140.8" r="0.35"/><circle cx="491.4" cy="142.4" r="0.35"/><circle cx="477.4" cy="142.0" r="0.35"/><circle cx="475.9" cy="140.1" r="0.35"/><circle cx="474.7" cy="140.0" r="0.35"/><circle cx="481.3" cy="141.0" r="0.35"/><circle cx="481.8" cy="141.9" r="0.35"/><circle cx="469.5" cy="141.1" r="0.35"/><circle cx="488.6" cy="139.1" r="0.35"/><circle cx="478.6" cy="140.9" r="0.35"/><circle cx="477.3" cy="140.4" r="0.35"/><circle cx="470.9" cy="144.5" r="0.35"/><circle cx="473.7" cy="139.0" r="0.35"/><circle cx="469.1" cy="140.6" r="0.35"/><circle cx="473.7" cy="140.9" r="0.35"/><circle cx="468.1" cy="141.6" r="0.35"/><circle cx="472.9" cy="139.5" r="0.35"/><circle cx="470.1" cy="140.6" r="0.35"/><circle cx="484.2" cy="141.5" r="0.35"/><circle cx="474.1" cy="141.0" r="0.35"/><circle cx="478.8" cy="143.2" r="0.35"/><circle cx="471.8" cy="141.5" r="0.35"/><circle cx="483.2" cy="140.0" r="0.35"/><circle cx="478.6" cy="141.2" r="0.35"/><circle cx="473.0" cy="141.6" r="0.35"/><circle cx="485.7" cy="142.2" r="0.35"/><circle cx="475.4" cy="141.2" r="0.35"/><circle cx="478.9" cy="142.0" r="0.35"/><circle cx="478.3" cy="141.7" r="0.35"/><circle cx="478.5" cy="141.8" r="0.35"/><circle cx="487.9" cy="140.8" r="0.35"/><circle cx="478.7" cy="140.9" r="0.35"/><circle cx="473.6" cy="141.0" r="0.35"/><circle cx="467.4" cy="141.8" r="0.35"/><circle cx="491.5" cy="142.9" r="0.35"/><circle cx="487.8" cy="139.9" r="0.35"/><circle cx="489.9" cy="140.2" r="0.35"/><circle cx="476.5" cy="143.0" r="0.35"/><circle cx="467.9" cy="141.9" r="0.35"/><circle cx="479.4" cy="140.8" r="0.35"/><circle cx="469.6" cy="141.5" r="0.35"/><circle cx="473.1" cy="142.1" r="0.35"/><circle cx="487.4" cy="139.5" r="0.35"/><circle cx="472.7" cy="140.6" r="0.35"/><circle cx="467.0" cy="139.8" r="0.35"/><circle cx="477.8" cy="140.8" r="0.35"/><circle cx="463.0" cy="140.4" r="0.35"/><circle cx="481.4" cy="139.7" r="0.35"/><circle cx="469.1" cy="142.7" r="0.35"/><circle cx="488.2" cy="139.2" r="0.35"/><circle cx="465.5" cy="141.4" r="0.35"/><circle cx="466.9" cy="140.7" r="0.35"/><circle cx="473.2" cy="141.6" r="0.35"/><circle cx="466.6" cy="142.1" r="0.35"/><circle cx="475.7" cy="139.1" r="0.35"/></g>
<g fill="#e8a0aa" fill-opacity="0.45"><circle cx="460.5" cy="165.4" r="0.35"/><circle cx="456.8" cy="163.3" r="0.35"/><circle cx="460.2" cy="166.4" r="0.35"/><circle cx="458.8" cy="165.1" r="0.35"/><circle cx="457.8" cy="163.2" r="0.35"/><circle cx="453.4" cy="164.5" r="0.35"/><circle cx="456.5" cy="163.5" r="0.35"/><circle cx="462.6" cy="165.0" r="0.35"/><circle cx="462.4" cy="160.8" r="0.35"/><circle cx="460.8" cy="162.8" r="0.35"/><circle cx="454.0" cy="162.3" r="0.35"/><circle cx="464.1" cy="165.7" r="0.35"/><circle cx="454.4" cy="161.7" r="0.35"/><circle cx="458.1" cy="163.1" r="0.35"/><circle cx="466.3" cy="161.1" r="0.35"/><circle cx="448.9" cy="163.5" r="0.35"/><circle cx="458.1" cy="164.3" r="0.35"/><circle cx="461.8" cy="168.1" r="0.35"/><circle cx="456.3" cy="162.9" r="0.35"/><circle cx="449.2" cy="164.5" r="0.35"/><circle cx="462.3" cy="163.5" r="0.35"/><circle cx="463.9" cy="164.1" r="0.35"/><circle cx="465.6" cy="164.7" r="0.35"/><circle cx="452.7" cy="162.7" r="0.35"/><circle cx="450.3" cy="160.5" r="0.35"/><circle cx="459.3" cy="165.7" r="0.35"/><circle cx="467.8" cy="163.9" r="0.35"/><circle cx="456.8" cy="161.8" r="0.35"/><circle cx="462.9" cy="164.8" r="0.35"/><circle cx="455.0" cy="165.4" r="0.35"/><circle cx="460.8" cy="160.3" r="0.35"/><circle cx="461.7" cy="164.3" r="0.35"/><circle cx="456.0" cy="163.2" r="0.35"/><circle cx="466.7" cy="167.1" r="0.35"/><circle cx="467.1" cy="161.7" r="0.35"/><circle cx="454.7" cy="165.8" r="0.35"/><circle cx="452.0" cy="162.6" r="0.35"/><circle cx="449.0" cy="167.7" r="0.35"/><circle cx="463.3" cy="164.9" r="0.35"/><circle cx="459.1" cy="163.2" r="0.35"/><circle cx="456.0" cy="165.2" r="0.35"/><circle cx="454.4" cy="166.5" r="0.35"/><circle cx="455.5" cy="162.3" r="0.35"/><circle cx="464.5" cy="163.7" r="0.35"/><circle cx="460.8" cy="163.2" r="0.35"/><circle cx="446.7" cy="165.1" r="0.35"/><circle cx="451.3" cy="166.2" r="0.35"/><circle cx="450.2" cy="160.3" r="0.35"/><circle cx="459.5" cy="164.9" r="0.35"/><circle cx="458.5" cy="161.6" r="0.35"/><circle cx="462.4" cy="161.1" r="0.35"/><circle cx="455.7" cy="162.4" r="0.35"/><circle cx="456.1" cy="165.7" r="0.35"/><circle cx="454.8" cy="165.1" r="0.35"/><circle cx="461.5" cy="160.6" r="0.35"/><circle cx="452.2" cy="163.2" r="0.35"/><circle cx="455.0" cy="164.6" r="0.35"/><circle cx="448.3" cy="165.4" r="0.35"/><circle cx="461.7" cy="163.7" r="0.35"/><circle cx="451.1" cy="164.0" r="0.35"/></g>
<path d="M447,167.8 L487,167.8 Q492,168.5 496,170.8" fill="none" stroke="#6e5c5c" stroke-width="1.8"/>
<path d="M484,168.4 Q491,169.2 495.8,171.3" fill="none" stroke="#d02040" stroke-width="1.0"/>
<rect x="469.0" y="133.3" width="37.60" height="18.40" fill="none" stroke="#b0b0b0" stroke-width="0.8"/>
<path d="M469.0,184.3 L469.0,165.3 L506.6,165.3 L506.6,184.3" fill="none" stroke="#b0b0b0" stroke-width="0.8"/>
<rect x="443.90" y="129.50" width="66.30" height="54.80" fill="none" stroke="#111" stroke-width="1.4"/>
<line x1="441.30" y1="136.00" x2="443.90" y2="136.00" stroke="#111" stroke-width="0.9" />
<line x1="442.10" y1="143.41" x2="443.90" y2="143.41" stroke="#111" stroke-width="0.75" />
<line x1="442.10" y1="141.54" x2="443.90" y2="141.54" stroke="#111" stroke-width="0.75" />
<line x1="442.10" y1="140.22" x2="443.90" y2="140.22" stroke="#111" stroke-width="0.75" />
<line x1="442.10" y1="139.19" x2="443.90" y2="139.19" stroke="#111" stroke-width="0.75" />
<line x1="442.10" y1="138.35" x2="443.90" y2="138.35" stroke="#111" stroke-width="0.75" />
<line x1="442.10" y1="137.64" x2="443.90" y2="137.64" stroke="#111" stroke-width="0.75" />
<line x1="442.10" y1="137.03" x2="443.90" y2="137.03" stroke="#111" stroke-width="0.75" />
<line x1="442.10" y1="136.49" x2="443.90" y2="136.49" stroke="#111" stroke-width="0.75" />
<line x1="441.30" y1="146.60" x2="443.90" y2="146.60" stroke="#111" stroke-width="0.9" />
<line x1="442.10" y1="154.01" x2="443.90" y2="154.01" stroke="#111" stroke-width="0.75" />
<line x1="442.10" y1="152.14" x2="443.90" y2="152.14" stroke="#111" stroke-width="0.75" />
<line x1="442.10" y1="150.82" x2="443.90" y2="150.82" stroke="#111" stroke-width="0.75" />
<line x1="442.10" y1="149.79" x2="443.90" y2="149.79" stroke="#111" stroke-width="0.75" />
<line x1="442.10" y1="148.95" x2="443.90" y2="148.95" stroke="#111" stroke-width="0.75" />
<line x1="442.10" y1="148.24" x2="443.90" y2="148.24" stroke="#111" stroke-width="0.75" />
<line x1="442.10" y1="147.63" x2="443.90" y2="147.63" stroke="#111" stroke-width="0.75" />
<line x1="442.10" y1="147.09" x2="443.90" y2="147.09" stroke="#111" stroke-width="0.75" />
<line x1="442.10" y1="157.80" x2="443.90" y2="157.80" stroke="#111" stroke-width="0.75" />
<line x1="442.10" y1="160.40" x2="443.90" y2="160.40" stroke="#111" stroke-width="0.75" />
<line x1="442.10" y1="162.40" x2="443.90" y2="162.40" stroke="#111" stroke-width="0.75" />
<line x1="442.10" y1="164.20" x2="443.90" y2="164.20" stroke="#111" stroke-width="0.75" />
<line x1="442.10" y1="165.90" x2="443.90" y2="165.90" stroke="#111" stroke-width="0.75" />
<line x1="442.10" y1="167.60" x2="443.90" y2="167.60" stroke="#111" stroke-width="0.75" />
<line x1="442.10" y1="169.40" x2="443.90" y2="169.40" stroke="#111" stroke-width="0.75" />
<line x1="442.10" y1="171.40" x2="443.90" y2="171.40" stroke="#111" stroke-width="0.75" />
<line x1="442.10" y1="173.40" x2="443.90" y2="173.40" stroke="#111" stroke-width="0.75" />
<line x1="442.10" y1="175.60" x2="443.90" y2="175.60" stroke="#111" stroke-width="0.75" />
<line x1="442.10" y1="177.90" x2="443.90" y2="177.90" stroke="#111" stroke-width="0.75" />
<line x1="442.10" y1="180.40" x2="443.90" y2="180.40" stroke="#111" stroke-width="0.75" />
<line x1="442.10" y1="182.70" x2="443.90" y2="182.70" stroke="#111" stroke-width="0.75" />
<text x="439.30" y="137.30" font-size="3.9" text-anchor="middle" font-weight="normal" fill="#808080" >10⁵</text>
<text x="439.30" y="147.90" font-size="3.9" text-anchor="middle" font-weight="normal" fill="#808080" >10⁴</text>
<text x="439.30" y="158.90" font-size="3.9" text-anchor="middle" font-weight="normal" fill="#808080" >10³</text>
<text x="439.30" y="165.70" font-size="3.9" text-anchor="middle" font-weight="normal" fill="#808080" >0</text>
<text x="439.30" y="172.70" font-size="3.9" text-anchor="middle" font-weight="normal" fill="#808080" >-10³</text>
<line x1="474.50" y1="184.30" x2="474.50" y2="186.90" stroke="#111" stroke-width="0.9" />
<line x1="465.76" y1="184.30" x2="465.76" y2="186.10" stroke="#111" stroke-width="0.75" />
<line x1="467.96" y1="184.30" x2="467.96" y2="186.10" stroke="#111" stroke-width="0.75" />
<line x1="469.53" y1="184.30" x2="469.53" y2="186.10" stroke="#111" stroke-width="0.75" />
<line x1="470.74" y1="184.30" x2="470.74" y2="186.10" stroke="#111" stroke-width="0.75" />
<line x1="471.73" y1="184.30" x2="471.73" y2="186.10" stroke="#111" stroke-width="0.75" />
<line x1="472.56" y1="184.30" x2="472.56" y2="186.10" stroke="#111" stroke-width="0.75" />
<line x1="473.29" y1="184.30" x2="473.29" y2="186.10" stroke="#111" stroke-width="0.75" />
<line x1="473.93" y1="184.30" x2="473.93" y2="186.10" stroke="#111" stroke-width="0.75" />
<line x1="490.50" y1="184.30" x2="490.50" y2="186.90" stroke="#111" stroke-width="0.9" />
<line x1="479.67" y1="184.30" x2="479.67" y2="186.10" stroke="#111" stroke-width="0.75" />
<line x1="482.40" y1="184.30" x2="482.40" y2="186.10" stroke="#111" stroke-width="0.75" />
<line x1="484.33" y1="184.30" x2="484.33" y2="186.10" stroke="#111" stroke-width="0.75" />
<line x1="485.83" y1="184.30" x2="485.83" y2="186.10" stroke="#111" stroke-width="0.75" />
<line x1="487.06" y1="184.30" x2="487.06" y2="186.10" stroke="#111" stroke-width="0.75" />
<line x1="488.10" y1="184.30" x2="488.10" y2="186.10" stroke="#111" stroke-width="0.75" />
<line x1="489.00" y1="184.30" x2="489.00" y2="186.10" stroke="#111" stroke-width="0.75" />
<line x1="489.79" y1="184.30" x2="489.79" y2="186.10" stroke="#111" stroke-width="0.75" />
<line x1="505.00" y1="184.30" x2="505.00" y2="186.90" stroke="#111" stroke-width="0.9" />
<line x1="494.86" y1="184.30" x2="494.86" y2="186.10" stroke="#111" stroke-width="0.75" />
<line x1="497.42" y1="184.30" x2="497.42" y2="186.10" stroke="#111" stroke-width="0.75" />
<line x1="499.23" y1="184.30" x2="499.23" y2="186.10" stroke="#111" stroke-width="0.75" />
<line x1="500.64" y1="184.30" x2="500.64" y2="186.10" stroke="#111" stroke-width="0.75" />
<line x1="501.78" y1="184.30" x2="501.78" y2="186.10" stroke="#111" stroke-width="0.75" />
<line x1="502.75" y1="184.30" x2="502.75" y2="186.10" stroke="#111" stroke-width="0.75" />
<line x1="503.59" y1="184.30" x2="503.59" y2="186.10" stroke="#111" stroke-width="0.75" />
<line x1="504.34" y1="184.30" x2="504.34" y2="186.10" stroke="#111" stroke-width="0.75" />
<line x1="446.50" y1="184.30" x2="446.50" y2="186.10" stroke="#111" stroke-width="0.75" />
<line x1="448.50" y1="184.30" x2="448.50" y2="186.10" stroke="#111" stroke-width="0.75" />
<line x1="450.50" y1="184.30" x2="450.50" y2="186.10" stroke="#111" stroke-width="0.75" />
<line x1="452.50" y1="184.30" x2="452.50" y2="186.10" stroke="#111" stroke-width="0.75" />
<line x1="454.50" y1="184.30" x2="454.50" y2="186.10" stroke="#111" stroke-width="0.75" />
<line x1="456.50" y1="184.30" x2="456.50" y2="186.10" stroke="#111" stroke-width="0.75" />
<line x1="458.50" y1="184.30" x2="458.50" y2="186.10" stroke="#111" stroke-width="0.75" />
<line x1="461.00" y1="184.30" x2="461.00" y2="186.10" stroke="#111" stroke-width="0.75" />
<line x1="463.50" y1="184.30" x2="463.50" y2="186.10" stroke="#111" stroke-width="0.75" />
<line x1="466.00" y1="184.30" x2="466.00" y2="186.10" stroke="#111" stroke-width="0.75" />
<text x="451.50" y="191.50" font-size="3.9" text-anchor="middle" font-weight="normal" fill="#808080" >-10²</text>
<text x="456.00" y="191.50" font-size="3.9" text-anchor="middle" font-weight="normal" fill="#808080" >0</text>
<text x="460.50" y="191.50" font-size="3.9" text-anchor="middle" font-weight="normal" fill="#808080" >10²</text>
<text x="474.50" y="191.50" font-size="3.9" text-anchor="middle" font-weight="normal" fill="#808080" >10³</text>
<text x="490.50" y="191.50" font-size="3.9" text-anchor="middle" font-weight="normal" fill="#808080" >10⁴</text>
<text x="505.00" y="191.50" font-size="3.9" text-anchor="middle" font-weight="normal" fill="#808080" >10⁵</text>
<text x="504.90" y="140.00" font-size="5.8" text-anchor="end" font-weight="normal" fill="#1a1a1a" stroke="#1a1a1a" stroke-width="0.08" >3.6</text>
<text x="505.00" y="180.00" font-size="5.8" text-anchor="end" font-weight="normal" fill="#1a1a1a" stroke="#1a1a1a" stroke-width="0.08" >7.4</text>
<text x="501.00" y="169.00" font-size="2.3" text-anchor="middle" font-weight="normal" fill="#777" >CD4+</text>
<text x="498.00" y="150.20" font-size="2.7" text-anchor="middle" font-weight="normal" fill="#666" >CD57+CD4+</text>
<line x1="351.90" y1="132.50" x2="351.90" y2="187.20" stroke="#2a2a2a" stroke-width="1.3" />
<line x1="351.90" y1="203.10" x2="351.90" y2="262.00" stroke="#2a2a2a" stroke-width="1.3" />
<path d="M351.9,129.2 L354.2,134.0 L349.6,134.0 Z" fill="#111"/>
<text transform="translate(353.65,194.90) rotate(-90)" x="0" y="0" font-size="5.9" text-anchor="middle" fill="#1a1a1a" stroke="#1a1a1a" stroke-width="0.22" textLength="8.7" lengthAdjust="spacingAndGlyphs">CD4</text>
<line x1="368.30" y1="199.50" x2="426.20" y2="199.50" stroke="#1a1a1a" stroke-width="1.3" />
<line x1="444.60" y1="199.50" x2="500.00" y2="199.50" stroke="#1a1a1a" stroke-width="1.3" />
<path d="M504.4,199.5 L499.4,197.2 L499.4,201.8 Z" fill="#111"/>
<text x="435.70" y="201.80" font-size="6.3" text-anchor="middle" font-weight="normal" fill="#1a1a1a" stroke="#1a1a1a" stroke-width="0.22" textLength="13.1" lengthAdjust="spacingAndGlyphs">CD57</text>
<ellipse cx="388" cy="232" rx="7" ry="7" fill="#fcf6d8" fill-opacity="0.45" filter="url(#b25)"/>
<ellipse cx="386" cy="219" rx="5" ry="2.5" fill="#d8f0f4" fill-opacity="0.7" filter="url(#b12)"/>
<ellipse cx="384" cy="216.5" rx="6" ry="2.8" fill="#c8ecf4" fill-opacity="0.8" filter="url(#b10)"/>
<path d="M380,215.6 Q381,213.6 385,213.5 L391,213.4 L391,217.6 L385,217.8 Q380.5,217.6 380,215.6 Z" fill="#3a70d8" fill-opacity="0.85" filter="url(#b6)"/>
<path d="M390.5,212.6 L404,212.3 Q408,212.8 410,214.2 Q408,216.8 404,218.8 Q397,221.2 390.5,221.4 Z" fill="#367a1e" fill-opacity="0.9" filter="url(#b6)"/>
<g fill="#1e5a0c" fill-opacity="0.5"><circle cx="395.6" cy="217.7" r="0.35"/><circle cx="397.6" cy="218.1" r="0.35"/><circle cx="396.1" cy="219.7" r="0.35"/><circle cx="400.2" cy="213.2" r="0.35"/><circle cx="401.3" cy="213.8" r="0.35"/><circle cx="398.4" cy="214.5" r="0.35"/><circle cx="396.0" cy="216.9" r="0.35"/><circle cx="397.5" cy="215.7" r="0.35"/><circle cx="407.7" cy="216.5" r="0.35"/><circle cx="393.6" cy="218.5" r="0.35"/><circle cx="401.7" cy="219.2" r="0.35"/><circle cx="406.0" cy="214.4" r="0.35"/><circle cx="402.8" cy="219.0" r="0.35"/><circle cx="398.0" cy="217.0" r="0.35"/><circle cx="406.0" cy="212.6" r="0.35"/><circle cx="395.6" cy="217.1" r="0.35"/><circle cx="400.6" cy="220.1" r="0.35"/><circle cx="401.9" cy="213.6" r="0.35"/><circle cx="397.8" cy="220.6" r="0.35"/><circle cx="403.9" cy="217.7" r="0.35"/><circle cx="399.7" cy="215.8" r="0.35"/><circle cx="397.7" cy="223.3" r="0.35"/><circle cx="397.0" cy="214.4" r="0.35"/><circle cx="399.1" cy="215.8" r="0.35"/><circle cx="396.6" cy="216.3" r="0.35"/><circle cx="401.5" cy="217.0" r="0.35"/><circle cx="392.6" cy="216.2" r="0.35"/><circle cx="400.1" cy="215.5" r="0.35"/><circle cx="403.2" cy="218.2" r="0.35"/><circle cx="393.5" cy="217.2" r="0.35"/><circle cx="406.9" cy="219.9" r="0.35"/><circle cx="397.7" cy="218.5" r="0.35"/><circle cx="395.0" cy="213.3" r="0.35"/><circle cx="400.5" cy="217.0" r="0.35"/><circle cx="400.3" cy="216.4" r="0.35"/><circle cx="399.5" cy="215.4" r="0.35"/><circle cx="400.1" cy="218.3" r="0.35"/><circle cx="397.7" cy="218.3" r="0.35"/><circle cx="404.5" cy="220.4" r="0.35"/><circle cx="399.1" cy="216.3" r="0.35"/><circle cx="392.3" cy="217.3" r="0.35"/><circle cx="401.5" cy="213.2" r="0.35"/><circle cx="400.5" cy="217.6" r="0.35"/><circle cx="400.0" cy="214.0" r="0.35"/><circle cx="400.4" cy="213.2" r="0.35"/><circle cx="404.7" cy="216.8" r="0.35"/><circle cx="392.8" cy="219.5" r="0.35"/><circle cx="403.2" cy="215.1" r="0.35"/><circle cx="407.9" cy="214.3" r="0.35"/><circle cx="399.4" cy="219.1" r="0.35"/><circle cx="397.7" cy="216.5" r="0.35"/><circle cx="393.2" cy="217.2" r="0.35"/><circle cx="393.0" cy="214.4" r="0.35"/><circle cx="396.0" cy="213.8" r="0.35"/><circle cx="405.1" cy="213.6" r="0.35"/><circle cx="394.6" cy="215.8" r="0.35"/><circle cx="398.0" cy="218.2" r="0.35"/><circle cx="401.7" cy="215.8" r="0.35"/><circle cx="396.3" cy="216.6" r="0.35"/><circle cx="401.7" cy="218.0" r="0.35"/><circle cx="395.7" cy="212.0" r="0.35"/><circle cx="407.6" cy="218.6" r="0.35"/><circle cx="399.2" cy="217.2" r="0.35"/><circle cx="395.7" cy="214.3" r="0.35"/><circle cx="396.5" cy="216.0" r="0.35"/><circle cx="395.2" cy="213.3" r="0.35"/><circle cx="396.6" cy="217.8" r="0.35"/><circle cx="395.8" cy="216.5" r="0.35"/><circle cx="397.5" cy="213.8" r="0.35"/><circle cx="394.4" cy="217.6" r="0.35"/><circle cx="396.1" cy="217.9" r="0.35"/><circle cx="396.5" cy="213.2" r="0.35"/><circle cx="397.6" cy="215.8" r="0.35"/><circle cx="401.0" cy="215.5" r="0.35"/><circle cx="396.2" cy="218.4" r="0.35"/><circle cx="403.2" cy="218.2" r="0.35"/><circle cx="402.7" cy="217.5" r="0.35"/><circle cx="401.5" cy="218.4" r="0.35"/><circle cx="399.8" cy="216.6" r="0.35"/><circle cx="398.6" cy="221.8" r="0.35"/><circle cx="398.1" cy="216.0" r="0.35"/><circle cx="396.4" cy="216.4" r="0.35"/><circle cx="399.1" cy="214.0" r="0.35"/><circle cx="390.8" cy="217.1" r="0.35"/><circle cx="398.6" cy="219.0" r="0.35"/><circle cx="405.5" cy="217.3" r="0.35"/><circle cx="395.5" cy="213.9" r="0.35"/><circle cx="394.4" cy="216.6" r="0.35"/><circle cx="397.9" cy="217.9" r="0.35"/><circle cx="396.5" cy="216.7" r="0.35"/><circle cx="394.7" cy="215.5" r="0.35"/><circle cx="405.0" cy="216.9" r="0.35"/><circle cx="399.6" cy="214.3" r="0.35"/><circle cx="404.4" cy="214.8" r="0.35"/><circle cx="401.6" cy="216.7" r="0.35"/><circle cx="393.7" cy="218.8" r="0.35"/><circle cx="398.1" cy="216.9" r="0.35"/><circle cx="400.0" cy="216.5" r="0.35"/><circle cx="396.3" cy="217.5" r="0.35"/><circle cx="396.2" cy="216.6" r="0.35"/><circle cx="395.0" cy="213.2" r="0.35"/><circle cx="395.0" cy="215.4" r="0.35"/><circle cx="398.1" cy="219.1" r="0.35"/><circle cx="395.7" cy="211.5" r="0.35"/><circle cx="398.3" cy="216.2" r="0.35"/><circle cx="394.4" cy="221.2" r="0.35"/><circle cx="397.3" cy="214.6" r="0.35"/><circle cx="405.6" cy="217.9" r="0.35"/><circle cx="396.3" cy="219.1" r="0.35"/><circle cx="398.7" cy="217.9" r="0.35"/><circle cx="399.1" cy="214.2" r="0.35"/><circle cx="402.4" cy="216.9" r="0.35"/><circle cx="393.5" cy="214.8" r="0.35"/><circle cx="402.3" cy="215.7" r="0.35"/><circle cx="398.2" cy="217.9" r="0.35"/><circle cx="398.6" cy="213.1" r="0.35"/><circle cx="400.9" cy="218.6" r="0.35"/><circle cx="401.9" cy="220.1" r="0.35"/><circle cx="399.6" cy="218.2" r="0.35"/><circle cx="405.2" cy="215.9" r="0.35"/><circle cx="405.8" cy="220.3" r="0.35"/><circle cx="401.5" cy="220.5" r="0.35"/><circle cx="401.8" cy="214.6" r="0.35"/><circle cx="403.1" cy="217.2" r="0.35"/><circle cx="399.9" cy="216.8" r="0.35"/><circle cx="404.1" cy="217.7" r="0.35"/><circle cx="394.9" cy="217.6" r="0.35"/><circle cx="401.3" cy="214.9" r="0.35"/><circle cx="396.0" cy="215.7" r="0.35"/><circle cx="395.3" cy="217.3" r="0.35"/><circle cx="402.6" cy="220.7" r="0.35"/><circle cx="403.4" cy="218.7" r="0.35"/><circle cx="403.1" cy="219.4" r="0.35"/><circle cx="396.3" cy="218.0" r="0.35"/><circle cx="399.5" cy="216.2" r="0.35"/><circle cx="396.0" cy="215.4" r="0.35"/><circle cx="396.8" cy="213.8" r="0.35"/><circle cx="400.3" cy="216.5" r="0.35"/><circle cx="398.5" cy="217.2" r="0.35"/><circle cx="401.3" cy="215.2" r="0.35"/><circle cx="397.5" cy="213.0" r="0.35"/><circle cx="404.9" cy="212.5" r="0.35"/><circle cx="400.1" cy="219.7" r="0.35"/><circle cx="395.9" cy="220.1" r="0.35"/><circle cx="406.3" cy="218.6" r="0.35"/><circle cx="408.7" cy="217.9" r="0.35"/><circle cx="394.7" cy="217.7" r="0.35"/><circle cx="396.0" cy="213.6" r="0.35"/><circle cx="392.3" cy="221.6" r="0.35"/><circle cx="395.6" cy="216.5" r="0.35"/><circle cx="395.0" cy="216.8" r="0.35"/><circle cx="397.0" cy="215.6" r="0.35"/><circle cx="392.6" cy="213.4" r="0.35"/><circle cx="394.7" cy="217.2" r="0.35"/><circle cx="407.4" cy="218.8" r="0.35"/><circle cx="406.3" cy="217.6" r="0.35"/><circle cx="397.7" cy="213.6" r="0.35"/><circle cx="398.1" cy="211.8" r="0.35"/><circle cx="396.7" cy="220.1" r="0.35"/><circle cx="399.6" cy="219.0" r="0.35"/><circle cx="396.4" cy="213.5" r="0.35"/><circle cx="395.9" cy="215.7" r="0.35"/><circle cx="403.5" cy="220.9" r="0.35"/><circle cx="394.8" cy="215.8" r="0.35"/><circle cx="397.4" cy="215.8" r="0.35"/><circle cx="392.5" cy="216.8" r="0.35"/><circle cx="399.7" cy="217.4" r="0.35"/><circle cx="392.7" cy="216.3" r="0.35"/><circle cx="393.5" cy="216.0" r="0.35"/><circle cx="396.1" cy="215.3" r="0.35"/><circle cx="393.4" cy="212.7" r="0.35"/><circle cx="405.9" cy="217.1" r="0.35"/><circle cx="399.3" cy="221.2" r="0.35"/><circle cx="397.7" cy="217.8" r="0.35"/><circle cx="398.2" cy="219.2" r="0.35"/><circle cx="400.4" cy="217.3" r="0.35"/><circle cx="397.0" cy="217.2" r="0.35"/><circle cx="403.4" cy="212.0" r="0.35"/><circle cx="397.6" cy="215.7" r="0.35"/><circle cx="396.8" cy="212.2" r="0.35"/><circle cx="401.4" cy="214.7" r="0.35"/><circle cx="397.1" cy="215.5" r="0.35"/><circle cx="390.6" cy="215.6" r="0.35"/></g>
<g fill="#6aa84a" fill-opacity="0.5"><circle cx="397.4" cy="216.6" r="0.35"/><circle cx="399.5" cy="216.2" r="0.35"/><circle cx="392.5" cy="215.0" r="0.35"/><circle cx="395.6" cy="216.1" r="0.35"/><circle cx="395.9" cy="214.4" r="0.35"/><circle cx="408.3" cy="216.7" r="0.35"/><circle cx="397.3" cy="215.9" r="0.35"/><circle cx="398.0" cy="220.2" r="0.35"/><circle cx="401.8" cy="219.5" r="0.35"/><circle cx="405.0" cy="221.7" r="0.35"/><circle cx="399.4" cy="212.1" r="0.35"/><circle cx="402.4" cy="215.0" r="0.35"/><circle cx="405.0" cy="219.7" r="0.35"/><circle cx="403.2" cy="213.9" r="0.35"/><circle cx="398.8" cy="212.8" r="0.35"/><circle cx="406.4" cy="217.8" r="0.35"/><circle cx="404.1" cy="216.8" r="0.35"/><circle cx="398.8" cy="217.1" r="0.35"/><circle cx="404.2" cy="215.6" r="0.35"/><circle cx="399.1" cy="217.4" r="0.35"/><circle cx="407.9" cy="217.7" r="0.35"/><circle cx="399.5" cy="215.3" r="0.35"/><circle cx="391.0" cy="215.1" r="0.35"/><circle cx="399.6" cy="216.0" r="0.35"/><circle cx="399.7" cy="218.6" r="0.35"/><circle cx="401.6" cy="217.3" r="0.35"/><circle cx="402.9" cy="217.1" r="0.35"/><circle cx="399.1" cy="217.8" r="0.35"/><circle cx="392.2" cy="218.8" r="0.35"/><circle cx="399.3" cy="219.5" r="0.35"/><circle cx="399.5" cy="214.2" r="0.35"/><circle cx="405.2" cy="217.1" r="0.35"/><circle cx="399.9" cy="216.8" r="0.35"/><circle cx="404.8" cy="218.8" r="0.35"/><circle cx="400.5" cy="212.6" r="0.35"/><circle cx="397.1" cy="216.9" r="0.35"/><circle cx="409.2" cy="217.6" r="0.35"/><circle cx="398.8" cy="219.7" r="0.35"/><circle cx="398.7" cy="216.6" r="0.35"/><circle cx="400.2" cy="212.7" r="0.35"/><circle cx="404.6" cy="217.7" r="0.35"/><circle cx="397.7" cy="213.7" r="0.35"/><circle cx="400.5" cy="220.3" r="0.35"/><circle cx="395.8" cy="213.9" r="0.35"/><circle cx="401.6" cy="212.5" r="0.35"/><circle cx="395.5" cy="215.9" r="0.35"/><circle cx="396.3" cy="217.5" r="0.35"/><circle cx="398.1" cy="215.1" r="0.35"/><circle cx="396.8" cy="218.3" r="0.35"/><circle cx="404.6" cy="219.0" r="0.35"/><circle cx="403.2" cy="208.1" r="0.35"/><circle cx="393.8" cy="215.8" r="0.35"/><circle cx="400.5" cy="212.4" r="0.35"/><circle cx="407.1" cy="217.4" r="0.35"/><circle cx="395.9" cy="217.1" r="0.35"/><circle cx="397.4" cy="214.7" r="0.35"/><circle cx="402.1" cy="215.5" r="0.35"/><circle cx="391.6" cy="215.0" r="0.35"/><circle cx="398.7" cy="213.8" r="0.35"/><circle cx="406.3" cy="213.8" r="0.35"/><circle cx="409.0" cy="219.0" r="0.35"/><circle cx="394.2" cy="217.0" r="0.35"/><circle cx="405.8" cy="216.2" r="0.35"/><circle cx="392.8" cy="217.0" r="0.35"/><circle cx="402.4" cy="216.7" r="0.35"/><circle cx="398.7" cy="215.7" r="0.35"/><circle cx="397.6" cy="219.4" r="0.35"/><circle cx="402.6" cy="214.1" r="0.35"/><circle cx="407.9" cy="213.3" r="0.35"/><circle cx="403.0" cy="217.2" r="0.35"/><circle cx="406.0" cy="217.6" r="0.35"/><circle cx="405.2" cy="216.6" r="0.35"/><circle cx="404.7" cy="217.6" r="0.35"/><circle cx="406.0" cy="217.9" r="0.35"/><circle cx="400.4" cy="215.2" r="0.35"/><circle cx="401.9" cy="212.9" r="0.35"/><circle cx="391.9" cy="218.5" r="0.35"/><circle cx="390.8" cy="220.4" r="0.35"/><circle cx="397.9" cy="217.3" r="0.35"/><circle cx="399.8" cy="217.8" r="0.35"/><circle cx="397.9" cy="215.7" r="0.35"/><circle cx="398.7" cy="219.4" r="0.35"/><circle cx="405.6" cy="220.0" r="0.35"/><circle cx="401.4" cy="216.2" r="0.35"/><circle cx="404.0" cy="215.6" r="0.35"/><circle cx="403.9" cy="220.0" r="0.35"/><circle cx="399.9" cy="219.4" r="0.35"/><circle cx="401.1" cy="212.2" r="0.35"/><circle cx="396.8" cy="215.6" r="0.35"/><circle cx="402.3" cy="214.5" r="0.35"/><circle cx="397.0" cy="214.2" r="0.35"/><circle cx="399.2" cy="216.9" r="0.35"/><circle cx="404.8" cy="218.8" r="0.35"/><circle cx="400.3" cy="217.3" r="0.35"/><circle cx="400.0" cy="217.0" r="0.35"/><circle cx="407.9" cy="210.2" r="0.35"/><circle cx="398.5" cy="217.5" r="0.35"/><circle cx="405.6" cy="213.9" r="0.35"/><circle cx="401.3" cy="218.9" r="0.35"/><circle cx="397.0" cy="211.7" r="0.35"/><circle cx="397.4" cy="213.6" r="0.35"/><circle cx="403.0" cy="214.5" r="0.35"/><circle cx="409.2" cy="217.1" r="0.35"/><circle cx="395.0" cy="215.4" r="0.35"/><circle cx="393.4" cy="217.7" r="0.35"/><circle cx="407.6" cy="216.1" r="0.35"/><circle cx="404.5" cy="214.3" r="0.35"/><circle cx="401.1" cy="222.7" r="0.35"/><circle cx="391.7" cy="219.9" r="0.35"/><circle cx="405.9" cy="211.8" r="0.35"/><circle cx="391.5" cy="214.2" r="0.35"/><circle cx="404.8" cy="215.6" r="0.35"/><circle cx="398.5" cy="218.5" r="0.35"/><circle cx="400.1" cy="217.3" r="0.35"/><circle cx="397.7" cy="219.6" r="0.35"/><circle cx="395.1" cy="221.1" r="0.35"/><circle cx="397.6" cy="214.6" r="0.35"/><circle cx="403.0" cy="217.9" r="0.35"/><circle cx="392.0" cy="214.5" r="0.35"/><circle cx="403.7" cy="214.5" r="0.35"/><circle cx="401.4" cy="215.7" r="0.35"/><circle cx="392.9" cy="213.8" r="0.35"/><circle cx="394.4" cy="217.0" r="0.35"/><circle cx="399.4" cy="219.2" r="0.35"/><circle cx="400.3" cy="217.0" r="0.35"/><circle cx="401.2" cy="216.3" r="0.35"/><circle cx="401.0" cy="218.7" r="0.35"/><circle cx="403.7" cy="215.3" r="0.35"/><circle cx="400.9" cy="210.2" r="0.35"/><circle cx="396.7" cy="217.8" r="0.35"/><circle cx="396.2" cy="213.8" r="0.35"/><circle cx="409.0" cy="220.3" r="0.35"/><circle cx="397.9" cy="220.1" r="0.35"/><circle cx="406.5" cy="213.7" r="0.35"/><circle cx="397.9" cy="213.8" r="0.35"/><circle cx="399.7" cy="213.2" r="0.35"/><circle cx="399.3" cy="219.5" r="0.35"/><circle cx="400.5" cy="216.0" r="0.35"/><circle cx="407.8" cy="214.3" r="0.35"/><circle cx="404.6" cy="215.9" r="0.35"/><circle cx="400.5" cy="216.7" r="0.35"/><circle cx="400.0" cy="216.5" r="0.35"/><circle cx="395.0" cy="215.2" r="0.35"/><circle cx="401.7" cy="216.3" r="0.35"/><circle cx="392.9" cy="214.8" r="0.35"/><circle cx="395.5" cy="216.5" r="0.35"/></g>
<ellipse cx="397" cy="223" rx="5" ry="1.5" fill="#c8e8b0" fill-opacity="0.6" filter="url(#b10)"/>
<path d="M376.7,245.7 Q380,243.4 386,243.3 L391.6,243.6 L391.6,247.6 L386,247.9 Q380,247.9 376.7,245.7 Z" fill="#e01a1a" fill-opacity="0.9" filter="url(#b6)"/>
<g fill="#f08080" fill-opacity="0.4"><circle cx="384.9" cy="249.7" r="0.35"/><circle cx="381.6" cy="249.6" r="0.35"/><circle cx="378.7" cy="245.8" r="0.35"/><circle cx="383.9" cy="247.4" r="0.35"/><circle cx="380.4" cy="248.0" r="0.35"/><circle cx="386.7" cy="248.0" r="0.35"/><circle cx="385.2" cy="248.9" r="0.35"/><circle cx="379.2" cy="247.5" r="0.35"/><circle cx="386.0" cy="250.0" r="0.35"/><circle cx="387.2" cy="251.9" r="0.35"/><circle cx="385.2" cy="249.9" r="0.35"/><circle cx="383.6" cy="249.7" r="0.35"/><circle cx="382.7" cy="248.4" r="0.35"/><circle cx="392.1" cy="247.1" r="0.35"/><circle cx="385.1" cy="250.1" r="0.35"/><circle cx="384.7" cy="248.3" r="0.35"/><circle cx="383.3" cy="248.9" r="0.35"/><circle cx="379.8" cy="249.5" r="0.35"/><circle cx="382.4" cy="248.8" r="0.35"/><circle cx="386.8" cy="248.1" r="0.35"/><circle cx="385.8" cy="248.7" r="0.35"/><circle cx="385.7" cy="249.6" r="0.35"/><circle cx="385.0" cy="248.2" r="0.35"/><circle cx="380.9" cy="248.4" r="0.35"/><circle cx="384.7" cy="250.5" r="0.35"/><circle cx="388.3" cy="248.8" r="0.35"/><circle cx="384.3" cy="247.4" r="0.35"/><circle cx="375.1" cy="248.4" r="0.35"/><circle cx="381.3" cy="247.5" r="0.35"/><circle cx="376.9" cy="250.2" r="0.35"/><circle cx="380.8" cy="247.3" r="0.35"/><circle cx="393.2" cy="249.7" r="0.35"/><circle cx="382.7" cy="250.4" r="0.35"/><circle cx="380.9" cy="251.5" r="0.35"/><circle cx="377.8" cy="247.8" r="0.35"/><circle cx="383.4" cy="248.5" r="0.35"/><circle cx="389.5" cy="247.4" r="0.35"/><circle cx="381.0" cy="249.8" r="0.35"/><circle cx="386.1" cy="250.8" r="0.35"/><circle cx="385.3" cy="252.3" r="0.35"/><circle cx="382.0" cy="249.7" r="0.35"/><circle cx="387.3" cy="249.1" r="0.35"/><circle cx="382.7" cy="248.9" r="0.35"/><circle cx="381.3" cy="248.0" r="0.35"/><circle cx="381.6" cy="247.4" r="0.35"/><circle cx="385.4" cy="247.4" r="0.35"/><circle cx="392.1" cy="251.7" r="0.35"/><circle cx="388.2" cy="249.2" r="0.35"/><circle cx="381.5" cy="251.0" r="0.35"/><circle cx="384.6" cy="250.2" r="0.35"/><circle cx="381.0" cy="250.8" r="0.35"/><circle cx="380.6" cy="249.6" r="0.35"/><circle cx="376.9" cy="248.6" r="0.35"/><circle cx="385.8" cy="248.9" r="0.35"/><circle cx="382.0" cy="250.5" r="0.35"/><circle cx="383.5" cy="251.0" r="0.35"/><circle cx="374.2" cy="250.2" r="0.35"/><circle cx="385.8" cy="247.4" r="0.35"/><circle cx="378.6" cy="250.6" r="0.35"/><circle cx="379.5" cy="248.6" r="0.35"/></g>
<g fill="#b01010" fill-opacity="0.45"><circle cx="386.9" cy="244.9" r="0.35"/><circle cx="386.4" cy="244.0" r="0.35"/><circle cx="385.6" cy="247.1" r="0.35"/><circle cx="385.7" cy="241.9" r="0.35"/><circle cx="387.2" cy="245.5" r="0.35"/><circle cx="380.2" cy="247.6" r="0.35"/><circle cx="376.4" cy="248.4" r="0.35"/><circle cx="381.4" cy="247.9" r="0.35"/><circle cx="384.1" cy="243.3" r="0.35"/><circle cx="384.7" cy="245.9" r="0.35"/><circle cx="386.7" cy="247.1" r="0.35"/><circle cx="380.2" cy="246.2" r="0.35"/><circle cx="387.6" cy="245.0" r="0.35"/><circle cx="380.1" cy="243.9" r="0.35"/><circle cx="387.6" cy="246.7" r="0.35"/><circle cx="380.5" cy="243.3" r="0.35"/><circle cx="389.8" cy="242.9" r="0.35"/><circle cx="385.0" cy="244.1" r="0.35"/><circle cx="376.4" cy="245.6" r="0.35"/><circle cx="383.4" cy="247.7" r="0.35"/><circle cx="388.8" cy="247.1" r="0.35"/><circle cx="381.9" cy="244.0" r="0.35"/><circle cx="391.5" cy="244.8" r="0.35"/><circle cx="384.1" cy="244.9" r="0.35"/><circle cx="383.7" cy="244.4" r="0.35"/><circle cx="387.6" cy="247.4" r="0.35"/><circle cx="382.6" cy="243.2" r="0.35"/><circle cx="384.5" cy="243.0" r="0.35"/><circle cx="381.4" cy="247.4" r="0.35"/><circle cx="379.5" cy="246.7" r="0.35"/><circle cx="374.2" cy="244.3" r="0.35"/><circle cx="391.1" cy="246.6" r="0.35"/><circle cx="378.1" cy="242.8" r="0.35"/><circle cx="388.1" cy="245.3" r="0.35"/><circle cx="381.6" cy="246.1" r="0.35"/><circle cx="381.7" cy="242.4" r="0.35"/><circle cx="387.9" cy="244.4" r="0.35"/><circle cx="379.8" cy="243.3" r="0.35"/><circle cx="385.4" cy="244.1" r="0.35"/><circle cx="387.0" cy="245.0" r="0.35"/><circle cx="389.1" cy="244.8" r="0.35"/><circle cx="381.3" cy="242.3" r="0.35"/><circle cx="379.3" cy="246.6" r="0.35"/><circle cx="379.6" cy="245.9" r="0.35"/><circle cx="386.4" cy="244.3" r="0.35"/><circle cx="384.6" cy="242.9" r="0.35"/><circle cx="382.9" cy="246.8" r="0.35"/><circle cx="391.6" cy="245.1" r="0.35"/><circle cx="383.1" cy="246.1" r="0.35"/><circle cx="389.2" cy="246.2" r="0.35"/><circle cx="380.9" cy="246.0" r="0.35"/><circle cx="388.6" cy="244.3" r="0.35"/><circle cx="378.3" cy="246.2" r="0.35"/><circle cx="385.9" cy="247.0" r="0.35"/><circle cx="384.7" cy="244.4" r="0.35"/><circle cx="382.3" cy="243.8" r="0.35"/><circle cx="380.0" cy="244.5" r="0.35"/><circle cx="382.1" cy="247.2" r="0.35"/><circle cx="378.8" cy="245.3" r="0.35"/><circle cx="381.6" cy="247.8" r="0.35"/><circle cx="385.4" cy="244.8" r="0.35"/><circle cx="387.9" cy="245.5" r="0.35"/><circle cx="382.1" cy="247.9" r="0.35"/><circle cx="387.5" cy="248.2" r="0.35"/><circle cx="389.5" cy="246.7" r="0.35"/><circle cx="384.9" cy="243.7" r="0.35"/><circle cx="387.5" cy="245.5" r="0.35"/><circle cx="387.3" cy="245.4" r="0.35"/><circle cx="381.2" cy="243.8" r="0.35"/><circle cx="387.4" cy="247.5" r="0.35"/><circle cx="383.0" cy="246.2" r="0.35"/><circle cx="390.5" cy="244.1" r="0.35"/><circle cx="382.8" cy="243.7" r="0.35"/><circle cx="389.6" cy="245.8" r="0.35"/><circle cx="382.2" cy="242.8" r="0.35"/><circle cx="383.5" cy="247.0" r="0.35"/><circle cx="383.0" cy="244.8" r="0.35"/><circle cx="387.2" cy="243.5" r="0.35"/><circle cx="384.6" cy="246.4" r="0.35"/><circle cx="380.8" cy="244.1" r="0.35"/><circle cx="385.4" cy="245.3" r="0.35"/><circle cx="383.3" cy="245.8" r="0.35"/><circle cx="385.3" cy="244.0" r="0.35"/><circle cx="381.3" cy="246.2" r="0.35"/><circle cx="389.3" cy="247.6" r="0.35"/><circle cx="380.5" cy="247.2" r="0.35"/><circle cx="387.7" cy="245.4" r="0.35"/><circle cx="386.5" cy="246.8" r="0.35"/><circle cx="387.0" cy="245.2" r="0.35"/><circle cx="383.4" cy="247.3" r="0.35"/><circle cx="388.0" cy="243.8" r="0.35"/><circle cx="383.1" cy="245.8" r="0.35"/><circle cx="378.0" cy="246.8" r="0.35"/><circle cx="384.0" cy="245.7" r="0.35"/><circle cx="385.9" cy="248.3" r="0.35"/><circle cx="384.5" cy="244.9" r="0.35"/><circle cx="382.0" cy="243.3" r="0.35"/><circle cx="389.2" cy="245.9" r="0.35"/><circle cx="386.5" cy="245.7" r="0.35"/><circle cx="383.8" cy="244.2" r="0.35"/><circle cx="380.9" cy="246.1" r="0.35"/><circle cx="384.9" cy="248.0" r="0.35"/><circle cx="381.0" cy="244.7" r="0.35"/><circle cx="379.8" cy="247.6" r="0.35"/><circle cx="378.9" cy="246.7" r="0.35"/><circle cx="390.8" cy="245.2" r="0.35"/><circle cx="387.6" cy="242.1" r="0.35"/><circle cx="382.7" cy="242.8" r="0.35"/><circle cx="385.1" cy="245.5" r="0.35"/><circle cx="381.0" cy="247.0" r="0.35"/><circle cx="386.0" cy="244.6" r="0.35"/><circle cx="382.1" cy="243.1" r="0.35"/><circle cx="383.6" cy="248.8" r="0.35"/><circle cx="381.2" cy="246.1" r="0.35"/><circle cx="381.9" cy="246.7" r="0.35"/><circle cx="386.3" cy="245.1" r="0.35"/><circle cx="376.5" cy="244.6" r="0.35"/><circle cx="389.7" cy="245.1" r="0.35"/><circle cx="387.2" cy="244.7" r="0.35"/><circle cx="376.1" cy="246.1" r="0.35"/><circle cx="385.8" cy="244.5" r="0.35"/><circle cx="382.7" cy="245.9" r="0.35"/><circle cx="381.8" cy="246.0" r="0.35"/><circle cx="383.5" cy="241.7" r="0.35"/><circle cx="383.7" cy="244.5" r="0.35"/><circle cx="380.7" cy="246.1" r="0.35"/><circle cx="382.2" cy="246.3" r="0.35"/><circle cx="389.3" cy="245.7" r="0.35"/><circle cx="377.5" cy="244.3" r="0.35"/><circle cx="388.5" cy="245.1" r="0.35"/><circle cx="380.8" cy="245.3" r="0.35"/><circle cx="386.6" cy="245.9" r="0.35"/><circle cx="387.3" cy="244.2" r="0.35"/><circle cx="383.2" cy="245.1" r="0.35"/><circle cx="384.3" cy="242.2" r="0.35"/><circle cx="383.4" cy="243.3" r="0.35"/><circle cx="390.6" cy="247.9" r="0.35"/><circle cx="391.9" cy="246.7" r="0.35"/><circle cx="382.3" cy="247.0" r="0.35"/><circle cx="383.5" cy="246.4" r="0.35"/><circle cx="380.4" cy="244.5" r="0.35"/><circle cx="386.5" cy="248.3" r="0.35"/><circle cx="384.3" cy="249.0" r="0.35"/><circle cx="384.3" cy="244.0" r="0.35"/></g>
<path d="M391.6,245.2 L408.4,245.2" stroke="#8a8a8a" stroke-width="1.6"/>
<g fill="#606060" fill-opacity="0.5"><circle cx="398.1" cy="244.7" r="0.35"/><circle cx="398.5" cy="246.0" r="0.35"/><circle cx="404.0" cy="245.4" r="0.35"/><circle cx="398.9" cy="245.3" r="0.35"/><circle cx="399.6" cy="245.7" r="0.35"/><circle cx="398.9" cy="245.6" r="0.35"/><circle cx="391.8" cy="245.9" r="0.35"/><circle cx="408.4" cy="245.3" r="0.35"/><circle cx="397.1" cy="242.5" r="0.35"/><circle cx="397.7" cy="245.7" r="0.35"/><circle cx="401.0" cy="246.3" r="0.35"/><circle cx="402.3" cy="245.3" r="0.35"/><circle cx="399.9" cy="245.8" r="0.35"/><circle cx="393.3" cy="244.6" r="0.35"/><circle cx="401.5" cy="243.5" r="0.35"/><circle cx="400.3" cy="244.8" r="0.35"/><circle cx="391.7" cy="245.8" r="0.35"/><circle cx="398.4" cy="245.4" r="0.35"/><circle cx="402.4" cy="244.7" r="0.35"/><circle cx="403.4" cy="246.3" r="0.35"/><circle cx="401.1" cy="246.4" r="0.35"/><circle cx="395.5" cy="246.0" r="0.35"/><circle cx="400.4" cy="244.3" r="0.35"/><circle cx="398.5" cy="244.7" r="0.35"/><circle cx="395.9" cy="245.3" r="0.35"/><circle cx="404.7" cy="244.9" r="0.35"/><circle cx="399.6" cy="243.9" r="0.35"/><circle cx="399.5" cy="246.2" r="0.35"/><circle cx="403.3" cy="245.6" r="0.35"/><circle cx="396.1" cy="244.3" r="0.35"/><circle cx="398.4" cy="244.0" r="0.35"/><circle cx="392.2" cy="246.0" r="0.35"/><circle cx="393.9" cy="246.8" r="0.35"/><circle cx="392.6" cy="245.3" r="0.35"/><circle cx="393.3" cy="245.2" r="0.35"/><circle cx="398.1" cy="244.8" r="0.35"/><circle cx="401.7" cy="246.5" r="0.35"/><circle cx="395.7" cy="246.0" r="0.35"/><circle cx="399.4" cy="245.2" r="0.35"/><circle cx="395.2" cy="243.6" r="0.35"/><circle cx="397.2" cy="245.0" r="0.35"/><circle cx="396.5" cy="245.6" r="0.35"/><circle cx="408.0" cy="245.3" r="0.35"/><circle cx="400.1" cy="245.6" r="0.35"/><circle cx="400.8" cy="245.7" r="0.35"/><circle cx="393.9" cy="244.9" r="0.35"/><circle cx="398.3" cy="245.1" r="0.35"/><circle cx="402.7" cy="245.3" r="0.35"/><circle cx="399.8" cy="243.9" r="0.35"/><circle cx="393.2" cy="245.5" r="0.35"/><circle cx="395.3" cy="244.5" r="0.35"/><circle cx="402.5" cy="244.6" r="0.35"/><circle cx="394.2" cy="244.6" r="0.35"/><circle cx="399.2" cy="247.6" r="0.35"/><circle cx="397.6" cy="246.0" r="0.35"/><circle cx="396.9" cy="243.0" r="0.35"/><circle cx="406.1" cy="244.2" r="0.35"/><circle cx="398.6" cy="244.0" r="0.35"/><circle cx="392.9" cy="244.7" r="0.35"/><circle cx="403.6" cy="245.9" r="0.35"/><circle cx="395.6" cy="245.6" r="0.35"/><circle cx="396.8" cy="245.3" r="0.35"/><circle cx="399.7" cy="245.7" r="0.35"/><circle cx="395.5" cy="245.1" r="0.35"/><circle cx="400.1" cy="245.3" r="0.35"/><circle cx="394.5" cy="246.7" r="0.35"/><circle cx="396.3" cy="245.9" r="0.35"/><circle cx="400.0" cy="246.3" r="0.35"/><circle cx="397.7" cy="244.1" r="0.35"/><circle cx="399.6" cy="247.2" r="0.35"/><circle cx="401.6" cy="244.1" r="0.35"/><circle cx="396.3" cy="246.4" r="0.35"/><circle cx="397.2" cy="247.1" r="0.35"/><circle cx="397.2" cy="246.3" r="0.35"/><circle cx="395.1" cy="244.5" r="0.35"/><circle cx="404.3" cy="245.7" r="0.35"/><circle cx="402.3" cy="244.6" r="0.35"/><circle cx="400.0" cy="245.4" r="0.35"/><circle cx="396.2" cy="244.6" r="0.35"/><circle cx="395.2" cy="244.9" r="0.35"/><circle cx="398.4" cy="244.2" r="0.35"/><circle cx="403.5" cy="246.9" r="0.35"/><circle cx="406.1" cy="243.9" r="0.35"/><circle cx="405.8" cy="245.4" r="0.35"/><circle cx="398.5" cy="244.6" r="0.35"/><circle cx="398.8" cy="246.4" r="0.35"/><circle cx="401.8" cy="244.8" r="0.35"/><circle cx="395.2" cy="244.8" r="0.35"/><circle cx="402.0" cy="246.8" r="0.35"/><circle cx="393.0" cy="245.2" r="0.35"/><circle cx="396.7" cy="244.5" r="0.35"/><circle cx="401.0" cy="245.7" r="0.35"/><circle cx="405.3" cy="245.5" r="0.35"/><circle cx="401.7" cy="244.7" r="0.35"/><circle cx="396.7" cy="245.6" r="0.35"/><circle cx="396.1" cy="244.2" r="0.35"/><circle cx="398.8" cy="246.0" r="0.35"/><circle cx="393.2" cy="246.1" r="0.35"/><circle cx="402.6" cy="244.4" r="0.35"/><circle cx="398.9" cy="245.1" r="0.35"/><circle cx="402.3" cy="245.8" r="0.35"/><circle cx="391.7" cy="244.0" r="0.35"/><circle cx="404.4" cy="245.3" r="0.35"/><circle cx="401.1" cy="245.5" r="0.35"/><circle cx="407.2" cy="244.1" r="0.35"/><circle cx="404.7" cy="244.4" r="0.35"/><circle cx="402.8" cy="246.4" r="0.35"/><circle cx="397.3" cy="244.9" r="0.35"/><circle cx="399.0" cy="244.2" r="0.35"/><circle cx="393.6" cy="245.8" r="0.35"/><circle cx="403.4" cy="244.7" r="0.35"/><circle cx="404.8" cy="245.5" r="0.35"/><circle cx="393.2" cy="244.7" r="0.35"/><circle cx="400.1" cy="244.3" r="0.35"/><circle cx="407.5" cy="245.3" r="0.35"/><circle cx="400.9" cy="244.3" r="0.35"/><circle cx="393.9" cy="244.5" r="0.35"/><circle cx="400.3" cy="244.9" r="0.35"/><circle cx="397.2" cy="245.4" r="0.35"/><circle cx="400.0" cy="246.5" r="0.35"/><circle cx="397.7" cy="244.3" r="0.35"/></g>
<rect x="391.3" y="209.4" width="33.70" height="18.40" fill="none" stroke="#b0b0b0" stroke-width="0.8"/>
<path d="M391.6,261.1 L391.6,242.2 L425.0,242.2 L425.0,261.1" fill="none" stroke="#b0b0b0" stroke-width="0.8"/>
<rect x="367.20" y="206.50" width="63.30" height="54.60" fill="none" stroke="#111" stroke-width="1.4"/>
<line x1="364.60" y1="211.80" x2="367.20" y2="211.80" stroke="#111" stroke-width="0.9" />
<line x1="365.40" y1="220.82" x2="367.20" y2="220.82" stroke="#111" stroke-width="0.75" />
<line x1="365.40" y1="218.55" x2="367.20" y2="218.55" stroke="#111" stroke-width="0.75" />
<line x1="365.40" y1="216.93" x2="367.20" y2="216.93" stroke="#111" stroke-width="0.75" />
<line x1="365.40" y1="215.68" x2="367.20" y2="215.68" stroke="#111" stroke-width="0.75" />
<line x1="365.40" y1="214.66" x2="367.20" y2="214.66" stroke="#111" stroke-width="0.75" />
<line x1="365.40" y1="213.80" x2="367.20" y2="213.80" stroke="#111" stroke-width="0.75" />
<line x1="365.40" y1="213.05" x2="367.20" y2="213.05" stroke="#111" stroke-width="0.75" />
<line x1="365.40" y1="212.39" x2="367.20" y2="212.39" stroke="#111" stroke-width="0.75" />
<line x1="364.60" y1="224.70" x2="367.20" y2="224.70" stroke="#111" stroke-width="0.9" />
<line x1="365.40" y1="233.72" x2="367.20" y2="233.72" stroke="#111" stroke-width="0.75" />
<line x1="365.40" y1="231.45" x2="367.20" y2="231.45" stroke="#111" stroke-width="0.75" />
<line x1="365.40" y1="229.83" x2="367.20" y2="229.83" stroke="#111" stroke-width="0.75" />
<line x1="365.40" y1="228.58" x2="367.20" y2="228.58" stroke="#111" stroke-width="0.75" />
<line x1="365.40" y1="227.56" x2="367.20" y2="227.56" stroke="#111" stroke-width="0.75" />
<line x1="365.40" y1="226.70" x2="367.20" y2="226.70" stroke="#111" stroke-width="0.75" />
<line x1="365.40" y1="225.95" x2="367.20" y2="225.95" stroke="#111" stroke-width="0.75" />
<line x1="365.40" y1="225.29" x2="367.20" y2="225.29" stroke="#111" stroke-width="0.75" />
<line x1="365.40" y1="237.60" x2="367.20" y2="237.60" stroke="#111" stroke-width="0.75" />
<line x1="365.40" y1="239.50" x2="367.20" y2="239.50" stroke="#111" stroke-width="0.75" />
<line x1="365.40" y1="241.20" x2="367.20" y2="241.20" stroke="#111" stroke-width="0.75" />
<line x1="365.40" y1="242.80" x2="367.20" y2="242.80" stroke="#111" stroke-width="0.75" />
<line x1="365.40" y1="244.40" x2="367.20" y2="244.40" stroke="#111" stroke-width="0.75" />
<line x1="365.40" y1="246.00" x2="367.20" y2="246.00" stroke="#111" stroke-width="0.75" />
<line x1="365.40" y1="247.80" x2="367.20" y2="247.80" stroke="#111" stroke-width="0.75" />
<line x1="365.40" y1="249.80" x2="367.20" y2="249.80" stroke="#111" stroke-width="0.75" />
<line x1="365.40" y1="252.00" x2="367.20" y2="252.00" stroke="#111" stroke-width="0.75" />
<line x1="365.40" y1="254.50" x2="367.20" y2="254.50" stroke="#111" stroke-width="0.75" />
<line x1="365.40" y1="257.00" x2="367.20" y2="257.00" stroke="#111" stroke-width="0.75" />
<line x1="365.40" y1="259.50" x2="367.20" y2="259.50" stroke="#111" stroke-width="0.75" />
<text x="362.60" y="213.10" font-size="3.9" text-anchor="middle" font-weight="normal" fill="#808080" >10⁵</text>
<text x="362.60" y="226.00" font-size="3.9" text-anchor="middle" font-weight="normal" fill="#808080" >10⁴</text>
<text x="362.60" y="237.30" font-size="3.9" text-anchor="middle" font-weight="normal" fill="#808080" >10³</text>
<text x="362.60" y="242.10" font-size="3.9" text-anchor="middle" font-weight="normal" fill="#808080" >0</text>
<text x="362.60" y="246.30" font-size="3.9" text-anchor="middle" font-weight="normal" fill="#808080" >-10³</text>
<line x1="393.90" y1="261.10" x2="393.90" y2="263.70" stroke="#111" stroke-width="0.9" />
<line x1="384.32" y1="261.10" x2="384.32" y2="262.90" stroke="#111" stroke-width="0.75" />
<line x1="386.74" y1="261.10" x2="386.74" y2="262.90" stroke="#111" stroke-width="0.75" />
<line x1="388.45" y1="261.10" x2="388.45" y2="262.90" stroke="#111" stroke-width="0.75" />
<line x1="389.78" y1="261.10" x2="389.78" y2="262.90" stroke="#111" stroke-width="0.75" />
<line x1="390.86" y1="261.10" x2="390.86" y2="262.90" stroke="#111" stroke-width="0.75" />
<line x1="391.78" y1="261.10" x2="391.78" y2="262.90" stroke="#111" stroke-width="0.75" />
<line x1="392.57" y1="261.10" x2="392.57" y2="262.90" stroke="#111" stroke-width="0.75" />
<line x1="393.27" y1="261.10" x2="393.27" y2="262.90" stroke="#111" stroke-width="0.75" />
<line x1="410.50" y1="261.10" x2="410.50" y2="263.70" stroke="#111" stroke-width="0.9" />
<line x1="398.90" y1="261.10" x2="398.90" y2="262.90" stroke="#111" stroke-width="0.75" />
<line x1="401.82" y1="261.10" x2="401.82" y2="262.90" stroke="#111" stroke-width="0.75" />
<line x1="403.89" y1="261.10" x2="403.89" y2="262.90" stroke="#111" stroke-width="0.75" />
<line x1="405.50" y1="261.10" x2="405.50" y2="262.90" stroke="#111" stroke-width="0.75" />
<line x1="406.82" y1="261.10" x2="406.82" y2="262.90" stroke="#111" stroke-width="0.75" />
<line x1="407.93" y1="261.10" x2="407.93" y2="262.90" stroke="#111" stroke-width="0.75" />
<line x1="408.89" y1="261.10" x2="408.89" y2="262.90" stroke="#111" stroke-width="0.75" />
<line x1="409.74" y1="261.10" x2="409.74" y2="262.90" stroke="#111" stroke-width="0.75" />
<line x1="423.50" y1="261.10" x2="423.50" y2="263.70" stroke="#111" stroke-width="0.9" />
<line x1="414.41" y1="261.10" x2="414.41" y2="262.90" stroke="#111" stroke-width="0.75" />
<line x1="416.70" y1="261.10" x2="416.70" y2="262.90" stroke="#111" stroke-width="0.75" />
<line x1="418.33" y1="261.10" x2="418.33" y2="262.90" stroke="#111" stroke-width="0.75" />
<line x1="419.59" y1="261.10" x2="419.59" y2="262.90" stroke="#111" stroke-width="0.75" />
<line x1="420.62" y1="261.10" x2="420.62" y2="262.90" stroke="#111" stroke-width="0.75" />
<line x1="421.49" y1="261.10" x2="421.49" y2="262.90" stroke="#111" stroke-width="0.75" />
<line x1="422.24" y1="261.10" x2="422.24" y2="262.90" stroke="#111" stroke-width="0.75" />
<line x1="422.91" y1="261.10" x2="422.91" y2="262.90" stroke="#111" stroke-width="0.75" />
<line x1="369.50" y1="261.10" x2="369.50" y2="262.90" stroke="#111" stroke-width="0.75" />
<line x1="371.50" y1="261.10" x2="371.50" y2="262.90" stroke="#111" stroke-width="0.75" />
<line x1="374.00" y1="261.10" x2="374.00" y2="262.90" stroke="#111" stroke-width="0.75" />
<line x1="376.50" y1="261.10" x2="376.50" y2="262.90" stroke="#111" stroke-width="0.75" />
<line x1="378.50" y1="261.10" x2="378.50" y2="262.90" stroke="#111" stroke-width="0.75" />
<line x1="380.20" y1="261.10" x2="380.20" y2="262.90" stroke="#111" stroke-width="0.75" />
<line x1="382.00" y1="261.10" x2="382.00" y2="262.90" stroke="#111" stroke-width="0.75" />
<line x1="384.50" y1="261.10" x2="384.50" y2="262.90" stroke="#111" stroke-width="0.75" />
<line x1="387.00" y1="261.10" x2="387.00" y2="262.90" stroke="#111" stroke-width="0.75" />
<line x1="390.00" y1="261.10" x2="390.00" y2="262.90" stroke="#111" stroke-width="0.75" />
<text x="380.20" y="268.30" font-size="3.9" text-anchor="middle" font-weight="normal" fill="#808080" >0</text>
<text x="393.90" y="268.30" font-size="3.9" text-anchor="middle" font-weight="normal" fill="#808080" >10³</text>
<text x="410.50" y="268.30" font-size="3.9" text-anchor="middle" font-weight="normal" fill="#808080" >10⁴</text>
<text x="423.50" y="268.30" font-size="3.9" text-anchor="middle" font-weight="normal" fill="#808080" >10⁵</text>
<text x="423.60" y="215.50" font-size="5.8" text-anchor="end" font-weight="normal" fill="#1a1a1a" stroke="#1a1a1a" stroke-width="0.08" >60.3</text>
<text x="423.60" y="259.10" font-size="5.8" text-anchor="end" font-weight="normal" fill="#1a1a1a" stroke="#1a1a1a" stroke-width="0.08" >35.1</text>
<text x="416.50" y="225.60" font-size="2.8" text-anchor="middle" font-weight="normal" fill="#666" >PD-1+CD4+</text>
<text x="413.50" y="246.20" font-size="2.6" text-anchor="middle" font-weight="normal" fill="#666" >PD-1+CD4-</text>
<ellipse cx="468" cy="232" rx="7" ry="7" fill="#fcf6d8" fill-opacity="0.45" filter="url(#b25)"/>
<ellipse cx="463" cy="220.5" rx="7" ry="2" fill="#c8f0f8" fill-opacity="0.7" filter="url(#b12)"/>
<ellipse cx="463" cy="219.5" rx="8" ry="2.5" fill="#c8ecf4" fill-opacity="0.8" filter="url(#b10)"/>
<path d="M455,217.4 Q459,215.6 466,214.8 L472.8,214.0 L472.8,220.0 L466,219.6 Q459,219.0 455,217.4 Z" fill="#3a6ee0" fill-opacity="0.88" filter="url(#b6)"/>
<path d="M472.5,213.6 L480,213.2 Q484,213.8 486,215.6 Q483,218.8 478,221.8 Q475,222.9 472.5,222.9 Z" fill="#367a1e" fill-opacity="0.9" filter="url(#b6)"/>
<g fill="#1e5a0c" fill-opacity="0.5"><circle cx="477.9" cy="220.6" r="0.35"/><circle cx="476.1" cy="217.5" r="0.35"/><circle cx="476.8" cy="218.3" r="0.35"/><circle cx="478.7" cy="215.7" r="0.35"/><circle cx="477.2" cy="219.5" r="0.35"/><circle cx="481.3" cy="219.4" r="0.35"/><circle cx="480.6" cy="216.7" r="0.35"/><circle cx="476.7" cy="219.4" r="0.35"/><circle cx="474.2" cy="217.3" r="0.35"/><circle cx="475.7" cy="214.8" r="0.35"/><circle cx="479.7" cy="215.8" r="0.35"/><circle cx="476.7" cy="216.9" r="0.35"/><circle cx="475.6" cy="220.5" r="0.35"/><circle cx="476.3" cy="217.9" r="0.35"/><circle cx="473.8" cy="216.4" r="0.35"/><circle cx="476.9" cy="216.8" r="0.35"/><circle cx="476.1" cy="217.7" r="0.35"/><circle cx="482.8" cy="217.1" r="0.35"/><circle cx="477.5" cy="216.6" r="0.35"/><circle cx="485.9" cy="220.9" r="0.35"/><circle cx="479.6" cy="219.0" r="0.35"/><circle cx="475.7" cy="217.1" r="0.35"/><circle cx="478.6" cy="217.7" r="0.35"/><circle cx="475.2" cy="215.7" r="0.35"/><circle cx="479.5" cy="218.1" r="0.35"/><circle cx="481.9" cy="216.0" r="0.35"/><circle cx="478.7" cy="214.3" r="0.35"/><circle cx="480.5" cy="215.0" r="0.35"/><circle cx="474.0" cy="216.7" r="0.35"/><circle cx="485.3" cy="216.1" r="0.35"/><circle cx="473.9" cy="218.4" r="0.35"/><circle cx="478.6" cy="221.0" r="0.35"/><circle cx="473.9" cy="214.0" r="0.35"/><circle cx="476.9" cy="218.2" r="0.35"/><circle cx="479.0" cy="219.8" r="0.35"/><circle cx="473.2" cy="215.7" r="0.35"/><circle cx="477.5" cy="219.2" r="0.35"/><circle cx="479.4" cy="216.5" r="0.35"/><circle cx="474.7" cy="219.3" r="0.35"/><circle cx="480.9" cy="223.3" r="0.35"/><circle cx="477.3" cy="220.9" r="0.35"/><circle cx="474.1" cy="216.3" r="0.35"/><circle cx="475.8" cy="216.4" r="0.35"/><circle cx="475.2" cy="216.3" r="0.35"/><circle cx="477.7" cy="216.5" r="0.35"/><circle cx="480.0" cy="217.3" r="0.35"/><circle cx="477.9" cy="220.6" r="0.35"/><circle cx="478.9" cy="217.8" r="0.35"/><circle cx="477.8" cy="217.6" r="0.35"/><circle cx="479.7" cy="215.7" r="0.35"/><circle cx="481.5" cy="220.8" r="0.35"/><circle cx="481.5" cy="216.4" r="0.35"/><circle cx="472.9" cy="216.5" r="0.35"/><circle cx="478.4" cy="219.2" r="0.35"/><circle cx="477.3" cy="216.8" r="0.35"/><circle cx="482.7" cy="216.0" r="0.35"/><circle cx="481.2" cy="219.4" r="0.35"/><circle cx="473.7" cy="218.0" r="0.35"/><circle cx="476.2" cy="215.4" r="0.35"/><circle cx="479.2" cy="216.6" r="0.35"/><circle cx="478.8" cy="215.1" r="0.35"/><circle cx="476.9" cy="216.9" r="0.35"/><circle cx="473.1" cy="213.9" r="0.35"/><circle cx="479.3" cy="217.8" r="0.35"/><circle cx="475.0" cy="217.2" r="0.35"/><circle cx="480.0" cy="221.4" r="0.35"/><circle cx="475.1" cy="218.8" r="0.35"/><circle cx="484.5" cy="217.6" r="0.35"/><circle cx="482.5" cy="211.9" r="0.35"/><circle cx="482.4" cy="217.4" r="0.35"/><circle cx="481.2" cy="220.0" r="0.35"/><circle cx="481.7" cy="217.4" r="0.35"/><circle cx="475.6" cy="216.4" r="0.35"/><circle cx="477.8" cy="218.3" r="0.35"/><circle cx="476.4" cy="217.5" r="0.35"/><circle cx="480.7" cy="218.1" r="0.35"/><circle cx="485.1" cy="222.1" r="0.35"/><circle cx="474.3" cy="216.2" r="0.35"/><circle cx="473.8" cy="214.9" r="0.35"/><circle cx="479.6" cy="215.3" r="0.35"/><circle cx="474.6" cy="216.9" r="0.35"/><circle cx="480.4" cy="216.7" r="0.35"/><circle cx="476.8" cy="219.4" r="0.35"/><circle cx="479.4" cy="218.4" r="0.35"/><circle cx="480.9" cy="215.2" r="0.35"/><circle cx="478.6" cy="216.1" r="0.35"/><circle cx="481.1" cy="219.2" r="0.35"/><circle cx="474.6" cy="220.3" r="0.35"/><circle cx="474.2" cy="220.0" r="0.35"/><circle cx="478.6" cy="215.6" r="0.35"/><circle cx="474.4" cy="216.8" r="0.35"/><circle cx="477.8" cy="215.9" r="0.35"/><circle cx="479.7" cy="214.4" r="0.35"/><circle cx="477.9" cy="217.4" r="0.35"/><circle cx="473.9" cy="212.0" r="0.35"/><circle cx="476.0" cy="216.9" r="0.35"/><circle cx="480.8" cy="216.4" r="0.35"/><circle cx="482.5" cy="220.5" r="0.35"/><circle cx="481.3" cy="220.3" r="0.35"/><circle cx="479.0" cy="216.2" r="0.35"/><circle cx="479.9" cy="219.5" r="0.35"/><circle cx="478.7" cy="216.9" r="0.35"/><circle cx="473.0" cy="218.9" r="0.35"/><circle cx="479.0" cy="214.6" r="0.35"/><circle cx="478.2" cy="219.0" r="0.35"/><circle cx="477.6" cy="219.1" r="0.35"/><circle cx="480.3" cy="214.2" r="0.35"/><circle cx="477.0" cy="218.5" r="0.35"/><circle cx="480.8" cy="220.5" r="0.35"/><circle cx="480.2" cy="220.1" r="0.35"/><circle cx="483.2" cy="215.4" r="0.35"/><circle cx="476.7" cy="215.1" r="0.35"/><circle cx="480.5" cy="214.6" r="0.35"/><circle cx="481.6" cy="219.5" r="0.35"/><circle cx="479.4" cy="212.7" r="0.35"/><circle cx="475.8" cy="219.1" r="0.35"/><circle cx="473.4" cy="216.9" r="0.35"/><circle cx="477.6" cy="219.4" r="0.35"/><circle cx="478.8" cy="218.0" r="0.35"/><circle cx="476.5" cy="217.4" r="0.35"/><circle cx="477.5" cy="219.0" r="0.35"/><circle cx="477.3" cy="219.7" r="0.35"/><circle cx="472.5" cy="220.0" r="0.35"/><circle cx="477.4" cy="219.9" r="0.35"/><circle cx="478.2" cy="219.3" r="0.35"/><circle cx="482.6" cy="216.2" r="0.35"/><circle cx="478.2" cy="217.1" r="0.35"/><circle cx="478.6" cy="213.9" r="0.35"/><circle cx="477.4" cy="216.9" r="0.35"/><circle cx="475.4" cy="217.0" r="0.35"/><circle cx="473.0" cy="220.5" r="0.35"/><circle cx="479.3" cy="221.5" r="0.35"/><circle cx="475.1" cy="214.9" r="0.35"/><circle cx="478.8" cy="213.8" r="0.35"/><circle cx="478.6" cy="215.9" r="0.35"/><circle cx="476.8" cy="218.0" r="0.35"/><circle cx="478.0" cy="221.5" r="0.35"/><circle cx="479.9" cy="214.6" r="0.35"/><circle cx="481.0" cy="214.5" r="0.35"/><circle cx="478.2" cy="214.7" r="0.35"/><circle cx="475.3" cy="220.3" r="0.35"/><circle cx="476.1" cy="216.0" r="0.35"/><circle cx="476.1" cy="216.7" r="0.35"/><circle cx="482.4" cy="214.9" r="0.35"/><circle cx="474.0" cy="218.7" r="0.35"/><circle cx="472.8" cy="216.6" r="0.35"/><circle cx="481.5" cy="217.4" r="0.35"/><circle cx="476.4" cy="215.9" r="0.35"/><circle cx="475.0" cy="216.1" r="0.35"/><circle cx="478.3" cy="220.1" r="0.35"/><circle cx="480.9" cy="216.2" r="0.35"/><circle cx="475.6" cy="218.9" r="0.35"/><circle cx="476.8" cy="215.0" r="0.35"/></g>
<g fill="#6aa84a" fill-opacity="0.5"><circle cx="474.4" cy="218.3" r="0.35"/><circle cx="475.7" cy="217.6" r="0.35"/><circle cx="472.9" cy="220.2" r="0.35"/><circle cx="477.1" cy="216.7" r="0.35"/><circle cx="476.8" cy="215.6" r="0.35"/><circle cx="474.4" cy="220.3" r="0.35"/><circle cx="479.1" cy="217.1" r="0.35"/><circle cx="482.2" cy="215.5" r="0.35"/><circle cx="480.7" cy="217.4" r="0.35"/><circle cx="474.7" cy="219.3" r="0.35"/><circle cx="474.7" cy="218.4" r="0.35"/><circle cx="483.7" cy="218.8" r="0.35"/><circle cx="475.8" cy="217.2" r="0.35"/><circle cx="476.8" cy="214.3" r="0.35"/><circle cx="473.8" cy="217.4" r="0.35"/><circle cx="480.3" cy="212.8" r="0.35"/><circle cx="477.9" cy="218.6" r="0.35"/><circle cx="478.6" cy="214.7" r="0.35"/><circle cx="482.3" cy="214.2" r="0.35"/><circle cx="480.7" cy="221.4" r="0.35"/><circle cx="479.4" cy="217.9" r="0.35"/><circle cx="475.1" cy="216.5" r="0.35"/><circle cx="472.7" cy="217.6" r="0.35"/><circle cx="480.3" cy="215.6" r="0.35"/><circle cx="474.5" cy="216.1" r="0.35"/><circle cx="478.1" cy="217.4" r="0.35"/><circle cx="477.7" cy="217.4" r="0.35"/><circle cx="473.0" cy="210.3" r="0.35"/><circle cx="480.6" cy="220.9" r="0.35"/><circle cx="472.6" cy="215.6" r="0.35"/><circle cx="479.3" cy="219.7" r="0.35"/><circle cx="480.7" cy="220.5" r="0.35"/><circle cx="477.9" cy="218.3" r="0.35"/><circle cx="479.7" cy="216.1" r="0.35"/><circle cx="482.8" cy="218.8" r="0.35"/><circle cx="482.0" cy="216.3" r="0.35"/><circle cx="482.2" cy="214.6" r="0.35"/><circle cx="479.7" cy="210.6" r="0.35"/><circle cx="474.2" cy="219.1" r="0.35"/><circle cx="476.3" cy="217.7" r="0.35"/><circle cx="480.4" cy="217.2" r="0.35"/><circle cx="479.7" cy="218.1" r="0.35"/><circle cx="483.6" cy="217.8" r="0.35"/><circle cx="483.1" cy="218.7" r="0.35"/><circle cx="476.5" cy="218.8" r="0.35"/><circle cx="478.6" cy="218.8" r="0.35"/><circle cx="480.7" cy="216.7" r="0.35"/><circle cx="479.5" cy="222.2" r="0.35"/><circle cx="476.9" cy="217.9" r="0.35"/><circle cx="475.9" cy="215.7" r="0.35"/><circle cx="477.8" cy="213.5" r="0.35"/><circle cx="477.7" cy="220.1" r="0.35"/><circle cx="478.6" cy="217.6" r="0.35"/><circle cx="480.7" cy="219.1" r="0.35"/><circle cx="473.4" cy="220.3" r="0.35"/><circle cx="474.3" cy="217.8" r="0.35"/><circle cx="484.6" cy="216.4" r="0.35"/><circle cx="480.5" cy="217.4" r="0.35"/><circle cx="479.7" cy="215.1" r="0.35"/><circle cx="474.5" cy="218.1" r="0.35"/><circle cx="480.6" cy="215.7" r="0.35"/><circle cx="474.6" cy="214.4" r="0.35"/><circle cx="478.7" cy="216.3" r="0.35"/><circle cx="478.7" cy="216.8" r="0.35"/><circle cx="485.3" cy="216.1" r="0.35"/><circle cx="478.1" cy="217.6" r="0.35"/><circle cx="478.0" cy="217.1" r="0.35"/><circle cx="477.9" cy="220.7" r="0.35"/><circle cx="476.5" cy="214.1" r="0.35"/><circle cx="478.6" cy="214.9" r="0.35"/><circle cx="479.7" cy="214.5" r="0.35"/><circle cx="477.6" cy="216.7" r="0.35"/><circle cx="478.0" cy="215.9" r="0.35"/><circle cx="475.0" cy="217.1" r="0.35"/><circle cx="475.9" cy="217.6" r="0.35"/><circle cx="477.0" cy="211.6" r="0.35"/><circle cx="477.9" cy="220.8" r="0.35"/><circle cx="479.3" cy="218.8" r="0.35"/><circle cx="479.9" cy="216.1" r="0.35"/><circle cx="472.9" cy="219.3" r="0.35"/><circle cx="482.2" cy="218.7" r="0.35"/><circle cx="479.8" cy="218.2" r="0.35"/><circle cx="478.0" cy="217.9" r="0.35"/><circle cx="478.2" cy="218.1" r="0.35"/><circle cx="474.5" cy="215.7" r="0.35"/><circle cx="480.3" cy="216.4" r="0.35"/><circle cx="480.9" cy="218.9" r="0.35"/><circle cx="475.6" cy="214.4" r="0.35"/><circle cx="477.3" cy="217.3" r="0.35"/><circle cx="475.2" cy="217.6" r="0.35"/><circle cx="480.8" cy="218.8" r="0.35"/><circle cx="474.1" cy="211.8" r="0.35"/><circle cx="478.1" cy="215.6" r="0.35"/><circle cx="479.8" cy="221.4" r="0.35"/><circle cx="484.4" cy="218.0" r="0.35"/><circle cx="482.4" cy="221.4" r="0.35"/><circle cx="478.3" cy="217.9" r="0.35"/><circle cx="481.4" cy="217.2" r="0.35"/><circle cx="476.2" cy="215.4" r="0.35"/><circle cx="478.2" cy="215.7" r="0.35"/><circle cx="481.2" cy="216.4" r="0.35"/><circle cx="483.8" cy="220.3" r="0.35"/><circle cx="473.4" cy="220.0" r="0.35"/><circle cx="476.6" cy="220.7" r="0.35"/><circle cx="480.1" cy="217.2" r="0.35"/><circle cx="480.8" cy="215.9" r="0.35"/><circle cx="479.4" cy="218.3" r="0.35"/><circle cx="477.6" cy="218.3" r="0.35"/><circle cx="474.4" cy="218.7" r="0.35"/><circle cx="473.6" cy="218.9" r="0.35"/><circle cx="480.0" cy="219.1" r="0.35"/><circle cx="476.1" cy="224.8" r="0.35"/><circle cx="477.4" cy="217.7" r="0.35"/><circle cx="475.4" cy="220.9" r="0.35"/><circle cx="476.4" cy="219.8" r="0.35"/><circle cx="474.6" cy="218.1" r="0.35"/></g>
<path d="M449.4,245.0 Q455,244.0 462,243.6 L473.9,243.5 L473.9,246.5 L462,246.5 Q455,246.2 449.4,245.0 Z" fill="#e01a1a" fill-opacity="0.9" filter="url(#b6)"/>
<g fill="#f08080" fill-opacity="0.45"><circle cx="463.3" cy="242.9" r="0.35"/><circle cx="463.7" cy="241.4" r="0.35"/><circle cx="466.5" cy="241.1" r="0.35"/><circle cx="461.1" cy="242.8" r="0.35"/><circle cx="457.7" cy="242.8" r="0.35"/><circle cx="463.3" cy="241.4" r="0.35"/><circle cx="465.7" cy="242.7" r="0.35"/><circle cx="462.6" cy="242.0" r="0.35"/><circle cx="467.8" cy="242.8" r="0.35"/><circle cx="464.6" cy="241.5" r="0.35"/><circle cx="461.2" cy="241.7" r="0.35"/><circle cx="467.4" cy="242.7" r="0.35"/><circle cx="466.0" cy="243.3" r="0.35"/><circle cx="463.7" cy="241.8" r="0.35"/><circle cx="463.4" cy="243.8" r="0.35"/><circle cx="457.1" cy="242.4" r="0.35"/><circle cx="466.5" cy="242.2" r="0.35"/><circle cx="473.7" cy="243.2" r="0.35"/><circle cx="467.8" cy="241.4" r="0.35"/><circle cx="466.8" cy="241.9" r="0.35"/><circle cx="465.1" cy="242.3" r="0.35"/><circle cx="463.1" cy="242.7" r="0.35"/><circle cx="471.0" cy="243.1" r="0.35"/><circle cx="465.7" cy="240.5" r="0.35"/><circle cx="469.0" cy="243.1" r="0.35"/><circle cx="464.2" cy="241.8" r="0.35"/><circle cx="467.4" cy="241.5" r="0.35"/><circle cx="467.9" cy="241.3" r="0.35"/><circle cx="461.5" cy="242.2" r="0.35"/><circle cx="459.5" cy="242.2" r="0.35"/><circle cx="466.9" cy="241.1" r="0.35"/><circle cx="468.4" cy="241.7" r="0.35"/><circle cx="467.0" cy="242.4" r="0.35"/><circle cx="463.2" cy="241.7" r="0.35"/><circle cx="458.5" cy="241.6" r="0.35"/><circle cx="462.1" cy="243.6" r="0.35"/><circle cx="468.8" cy="241.0" r="0.35"/><circle cx="468.0" cy="242.4" r="0.35"/><circle cx="463.5" cy="242.6" r="0.35"/><circle cx="467.9" cy="241.7" r="0.35"/><circle cx="463.9" cy="242.3" r="0.35"/><circle cx="461.3" cy="242.4" r="0.35"/><circle cx="464.7" cy="241.6" r="0.35"/><circle cx="461.8" cy="242.5" r="0.35"/><circle cx="468.3" cy="242.5" r="0.35"/><circle cx="461.8" cy="242.8" r="0.35"/><circle cx="465.6" cy="242.7" r="0.35"/><circle cx="469.3" cy="241.4" r="0.35"/><circle cx="464.5" cy="241.7" r="0.35"/><circle cx="461.7" cy="243.9" r="0.35"/><circle cx="468.5" cy="240.7" r="0.35"/><circle cx="466.6" cy="241.7" r="0.35"/><circle cx="469.3" cy="242.3" r="0.35"/><circle cx="464.3" cy="242.3" r="0.35"/><circle cx="466.4" cy="242.2" r="0.35"/><circle cx="464.2" cy="242.1" r="0.35"/><circle cx="466.9" cy="241.2" r="0.35"/><circle cx="465.0" cy="242.1" r="0.35"/><circle cx="463.2" cy="242.8" r="0.35"/><circle cx="460.2" cy="241.9" r="0.35"/></g>
<g fill="#b01010" fill-opacity="0.45"><circle cx="456.8" cy="245.6" r="0.35"/><circle cx="459.2" cy="245.0" r="0.35"/><circle cx="464.3" cy="243.4" r="0.35"/><circle cx="464.7" cy="244.2" r="0.35"/><circle cx="460.4" cy="244.9" r="0.35"/><circle cx="466.9" cy="245.8" r="0.35"/><circle cx="472.7" cy="245.2" r="0.35"/><circle cx="459.1" cy="244.5" r="0.35"/><circle cx="466.0" cy="246.6" r="0.35"/><circle cx="464.1" cy="244.4" r="0.35"/><circle cx="463.7" cy="245.3" r="0.35"/><circle cx="462.2" cy="244.2" r="0.35"/><circle cx="446.6" cy="244.4" r="0.35"/><circle cx="468.4" cy="245.2" r="0.35"/><circle cx="448.6" cy="245.0" r="0.35"/><circle cx="450.8" cy="247.0" r="0.35"/><circle cx="463.2" cy="243.8" r="0.35"/><circle cx="466.8" cy="244.2" r="0.35"/><circle cx="465.4" cy="245.0" r="0.35"/><circle cx="454.8" cy="245.7" r="0.35"/><circle cx="453.9" cy="246.4" r="0.35"/><circle cx="462.4" cy="243.9" r="0.35"/><circle cx="451.0" cy="246.7" r="0.35"/><circle cx="470.8" cy="243.7" r="0.35"/><circle cx="472.0" cy="245.2" r="0.35"/><circle cx="460.7" cy="244.9" r="0.35"/><circle cx="460.4" cy="246.5" r="0.35"/><circle cx="462.9" cy="243.1" r="0.35"/><circle cx="455.4" cy="244.6" r="0.35"/><circle cx="456.5" cy="245.0" r="0.35"/><circle cx="464.4" cy="245.2" r="0.35"/><circle cx="458.4" cy="244.2" r="0.35"/><circle cx="467.1" cy="244.9" r="0.35"/><circle cx="466.8" cy="245.1" r="0.35"/><circle cx="457.4" cy="246.4" r="0.35"/><circle cx="462.7" cy="244.1" r="0.35"/><circle cx="460.1" cy="246.0" r="0.35"/><circle cx="454.6" cy="246.4" r="0.35"/><circle cx="466.2" cy="244.7" r="0.35"/><circle cx="470.2" cy="246.8" r="0.35"/><circle cx="465.6" cy="245.2" r="0.35"/><circle cx="473.2" cy="246.5" r="0.35"/><circle cx="456.4" cy="244.8" r="0.35"/><circle cx="460.7" cy="244.6" r="0.35"/><circle cx="452.9" cy="245.9" r="0.35"/><circle cx="462.5" cy="245.1" r="0.35"/><circle cx="470.6" cy="244.4" r="0.35"/><circle cx="461.7" cy="245.3" r="0.35"/><circle cx="459.4" cy="244.9" r="0.35"/><circle cx="466.7" cy="245.0" r="0.35"/><circle cx="470.1" cy="244.2" r="0.35"/><circle cx="463.2" cy="243.5" r="0.35"/><circle cx="461.3" cy="244.3" r="0.35"/><circle cx="470.3" cy="245.8" r="0.35"/><circle cx="465.1" cy="246.9" r="0.35"/><circle cx="470.8" cy="245.7" r="0.35"/><circle cx="457.8" cy="243.5" r="0.35"/><circle cx="461.8" cy="244.6" r="0.35"/><circle cx="458.0" cy="244.7" r="0.35"/><circle cx="451.9" cy="246.5" r="0.35"/><circle cx="455.0" cy="244.3" r="0.35"/><circle cx="465.5" cy="243.3" r="0.35"/><circle cx="467.6" cy="246.0" r="0.35"/><circle cx="460.1" cy="243.9" r="0.35"/><circle cx="459.1" cy="243.1" r="0.35"/><circle cx="470.5" cy="245.1" r="0.35"/><circle cx="457.5" cy="244.1" r="0.35"/><circle cx="465.5" cy="246.6" r="0.35"/><circle cx="454.2" cy="244.4" r="0.35"/><circle cx="451.2" cy="245.7" r="0.35"/><circle cx="463.0" cy="247.3" r="0.35"/><circle cx="461.2" cy="244.5" r="0.35"/><circle cx="457.6" cy="245.9" r="0.35"/><circle cx="452.0" cy="245.8" r="0.35"/><circle cx="463.5" cy="244.5" r="0.35"/><circle cx="456.4" cy="246.1" r="0.35"/><circle cx="473.5" cy="244.5" r="0.35"/><circle cx="465.3" cy="246.8" r="0.35"/><circle cx="458.2" cy="244.7" r="0.35"/><circle cx="454.5" cy="244.8" r="0.35"/><circle cx="461.5" cy="244.6" r="0.35"/><circle cx="457.4" cy="243.3" r="0.35"/><circle cx="453.7" cy="244.0" r="0.35"/><circle cx="466.0" cy="244.5" r="0.35"/><circle cx="456.7" cy="245.7" r="0.35"/><circle cx="465.5" cy="244.2" r="0.35"/><circle cx="458.1" cy="245.7" r="0.35"/><circle cx="464.3" cy="244.1" r="0.35"/><circle cx="463.5" cy="245.0" r="0.35"/><circle cx="468.9" cy="244.1" r="0.35"/><circle cx="467.5" cy="245.5" r="0.35"/><circle cx="455.8" cy="246.1" r="0.35"/><circle cx="467.6" cy="243.6" r="0.35"/><circle cx="456.3" cy="244.7" r="0.35"/><circle cx="466.8" cy="245.6" r="0.35"/><circle cx="461.4" cy="246.4" r="0.35"/><circle cx="464.5" cy="246.5" r="0.35"/><circle cx="446.0" cy="244.5" r="0.35"/><circle cx="455.3" cy="245.1" r="0.35"/><circle cx="462.6" cy="243.7" r="0.35"/><circle cx="454.8" cy="244.7" r="0.35"/><circle cx="460.8" cy="242.2" r="0.35"/><circle cx="468.1" cy="245.0" r="0.35"/><circle cx="461.9" cy="245.3" r="0.35"/><circle cx="455.6" cy="244.9" r="0.35"/><circle cx="468.5" cy="246.1" r="0.35"/><circle cx="464.9" cy="244.7" r="0.35"/><circle cx="456.8" cy="246.4" r="0.35"/><circle cx="465.3" cy="244.5" r="0.35"/><circle cx="448.3" cy="244.1" r="0.35"/><circle cx="449.8" cy="246.3" r="0.35"/><circle cx="463.2" cy="244.2" r="0.35"/><circle cx="460.3" cy="247.8" r="0.35"/><circle cx="469.7" cy="243.6" r="0.35"/><circle cx="461.2" cy="243.7" r="0.35"/><circle cx="451.1" cy="245.2" r="0.35"/><circle cx="462.3" cy="244.6" r="0.35"/><circle cx="463.3" cy="246.1" r="0.35"/><circle cx="452.7" cy="243.0" r="0.35"/><circle cx="474.0" cy="245.3" r="0.35"/><circle cx="472.2" cy="245.3" r="0.35"/><circle cx="471.4" cy="244.3" r="0.35"/><circle cx="465.2" cy="246.7" r="0.35"/><circle cx="468.5" cy="244.5" r="0.35"/><circle cx="467.7" cy="244.3" r="0.35"/><circle cx="452.9" cy="245.6" r="0.35"/><circle cx="471.0" cy="245.9" r="0.35"/><circle cx="453.9" cy="245.9" r="0.35"/><circle cx="466.4" cy="244.5" r="0.35"/><circle cx="446.0" cy="246.1" r="0.35"/><circle cx="467.7" cy="245.5" r="0.35"/><circle cx="450.9" cy="243.4" r="0.35"/><circle cx="468.5" cy="245.9" r="0.35"/><circle cx="465.2" cy="244.7" r="0.35"/><circle cx="464.5" cy="244.4" r="0.35"/><circle cx="460.0" cy="244.1" r="0.35"/><circle cx="463.7" cy="244.5" r="0.35"/><circle cx="468.1" cy="245.8" r="0.35"/><circle cx="456.8" cy="247.0" r="0.35"/><circle cx="454.7" cy="245.5" r="0.35"/><circle cx="469.0" cy="246.4" r="0.35"/><circle cx="447.7" cy="246.1" r="0.35"/><circle cx="469.9" cy="246.6" r="0.35"/><circle cx="447.6" cy="244.3" r="0.35"/><circle cx="461.4" cy="244.5" r="0.35"/><circle cx="470.7" cy="244.3" r="0.35"/><circle cx="470.0" cy="245.6" r="0.35"/><circle cx="452.6" cy="243.9" r="0.35"/><circle cx="459.0" cy="245.1" r="0.35"/><circle cx="468.4" cy="244.8" r="0.35"/><circle cx="467.9" cy="243.3" r="0.35"/><circle cx="442.2" cy="244.6" r="0.35"/><circle cx="465.0" cy="244.6" r="0.35"/><circle cx="455.4" cy="245.5" r="0.35"/><circle cx="457.3" cy="244.1" r="0.35"/><circle cx="466.0" cy="246.3" r="0.35"/><circle cx="469.0" cy="244.0" r="0.35"/><circle cx="468.2" cy="245.9" r="0.35"/><circle cx="465.2" cy="246.1" r="0.35"/><circle cx="458.4" cy="244.9" r="0.35"/><circle cx="458.6" cy="245.8" r="0.35"/><circle cx="457.8" cy="245.4" r="0.35"/><circle cx="454.9" cy="244.9" r="0.35"/><circle cx="459.6" cy="244.9" r="0.35"/><circle cx="462.9" cy="244.8" r="0.35"/><circle cx="460.6" cy="242.7" r="0.35"/><circle cx="469.2" cy="244.3" r="0.35"/><circle cx="460.4" cy="244.1" r="0.35"/><circle cx="468.5" cy="244.0" r="0.35"/><circle cx="465.3" cy="246.3" r="0.35"/><circle cx="472.7" cy="246.3" r="0.35"/><circle cx="466.0" cy="243.7" r="0.35"/><circle cx="470.4" cy="246.3" r="0.35"/></g>
<path d="M473.9,245.0 L485.5,245.0" stroke="#8a8a8a" stroke-width="1.6"/>
<g fill="#606060" fill-opacity="0.5"><circle cx="482.4" cy="245.6" r="0.35"/><circle cx="479.3" cy="244.6" r="0.35"/><circle cx="483.3" cy="246.0" r="0.35"/><circle cx="474.9" cy="245.7" r="0.35"/><circle cx="480.0" cy="245.7" r="0.35"/><circle cx="480.1" cy="245.9" r="0.35"/><circle cx="483.1" cy="245.7" r="0.35"/><circle cx="479.2" cy="244.1" r="0.35"/><circle cx="481.9" cy="243.9" r="0.35"/><circle cx="482.6" cy="246.4" r="0.35"/><circle cx="477.1" cy="245.7" r="0.35"/><circle cx="480.9" cy="245.5" r="0.35"/><circle cx="479.6" cy="245.6" r="0.35"/><circle cx="479.1" cy="245.9" r="0.35"/><circle cx="480.2" cy="245.6" r="0.35"/><circle cx="484.5" cy="245.2" r="0.35"/><circle cx="483.0" cy="245.2" r="0.35"/><circle cx="481.2" cy="244.6" r="0.35"/><circle cx="482.2" cy="246.0" r="0.35"/><circle cx="478.8" cy="245.7" r="0.35"/><circle cx="480.8" cy="244.1" r="0.35"/><circle cx="480.5" cy="246.1" r="0.35"/><circle cx="477.2" cy="243.6" r="0.35"/><circle cx="479.9" cy="244.5" r="0.35"/><circle cx="479.1" cy="244.5" r="0.35"/><circle cx="480.1" cy="244.6" r="0.35"/><circle cx="475.6" cy="245.0" r="0.35"/><circle cx="475.9" cy="246.1" r="0.35"/><circle cx="474.5" cy="245.0" r="0.35"/><circle cx="476.4" cy="243.9" r="0.35"/><circle cx="485.7" cy="243.4" r="0.35"/><circle cx="484.9" cy="243.9" r="0.35"/><circle cx="479.5" cy="246.8" r="0.35"/><circle cx="484.3" cy="245.2" r="0.35"/><circle cx="477.0" cy="245.0" r="0.35"/><circle cx="475.4" cy="245.1" r="0.35"/><circle cx="485.0" cy="244.7" r="0.35"/><circle cx="479.7" cy="246.0" r="0.35"/><circle cx="480.3" cy="244.6" r="0.35"/><circle cx="476.6" cy="244.7" r="0.35"/><circle cx="476.7" cy="243.7" r="0.35"/><circle cx="479.7" cy="246.0" r="0.35"/><circle cx="477.1" cy="244.9" r="0.35"/><circle cx="481.7" cy="245.6" r="0.35"/><circle cx="478.7" cy="245.0" r="0.35"/><circle cx="477.2" cy="243.8" r="0.35"/><circle cx="480.8" cy="244.8" r="0.35"/><circle cx="482.3" cy="245.8" r="0.35"/><circle cx="485.6" cy="244.0" r="0.35"/><circle cx="485.3" cy="245.0" r="0.35"/><circle cx="478.7" cy="244.8" r="0.35"/><circle cx="477.6" cy="244.8" r="0.35"/><circle cx="479.4" cy="244.3" r="0.35"/><circle cx="478.9" cy="246.8" r="0.35"/><circle cx="480.6" cy="244.7" r="0.35"/><circle cx="478.5" cy="244.6" r="0.35"/><circle cx="478.2" cy="245.6" r="0.35"/><circle cx="481.4" cy="244.5" r="0.35"/><circle cx="478.6" cy="245.1" r="0.35"/><circle cx="477.5" cy="245.0" r="0.35"/><circle cx="476.3" cy="244.5" r="0.35"/><circle cx="479.3" cy="244.2" r="0.35"/><circle cx="480.8" cy="244.9" r="0.35"/><circle cx="475.5" cy="244.5" r="0.35"/><circle cx="477.3" cy="244.9" r="0.35"/><circle cx="479.6" cy="244.9" r="0.35"/><circle cx="475.7" cy="246.1" r="0.35"/><circle cx="482.6" cy="245.1" r="0.35"/><circle cx="482.8" cy="245.3" r="0.35"/><circle cx="478.1" cy="245.1" r="0.35"/><circle cx="483.2" cy="244.7" r="0.35"/><circle cx="481.5" cy="246.8" r="0.35"/><circle cx="480.8" cy="245.9" r="0.35"/><circle cx="484.0" cy="245.5" r="0.35"/><circle cx="485.2" cy="245.2" r="0.35"/><circle cx="481.0" cy="244.5" r="0.35"/><circle cx="479.5" cy="246.1" r="0.35"/><circle cx="477.2" cy="245.0" r="0.35"/><circle cx="476.1" cy="245.0" r="0.35"/><circle cx="477.6" cy="245.4" r="0.35"/><circle cx="478.6" cy="244.6" r="0.35"/><circle cx="478.0" cy="244.9" r="0.35"/><circle cx="477.1" cy="245.7" r="0.35"/><circle cx="481.7" cy="245.1" r="0.35"/><circle cx="474.5" cy="245.4" r="0.35"/><circle cx="474.2" cy="245.2" r="0.35"/><circle cx="479.3" cy="244.6" r="0.35"/><circle cx="475.9" cy="244.5" r="0.35"/></g>
<rect x="472.8" y="209.6" width="32.90" height="18.10" fill="none" stroke="#b0b0b0" stroke-width="0.8"/>
<path d="M473.4,261.1 L473.4,242.2 L505.7,242.2 L505.7,261.1" fill="none" stroke="#b0b0b0" stroke-width="0.8"/>
<rect x="446.30" y="206.50" width="64.20" height="54.60" fill="none" stroke="#111" stroke-width="1.4"/>
<line x1="443.70" y1="211.80" x2="446.30" y2="211.80" stroke="#111" stroke-width="0.9" />
<line x1="444.50" y1="220.82" x2="446.30" y2="220.82" stroke="#111" stroke-width="0.75" />
<line x1="444.50" y1="218.55" x2="446.30" y2="218.55" stroke="#111" stroke-width="0.75" />
<line x1="444.50" y1="216.93" x2="446.30" y2="216.93" stroke="#111" stroke-width="0.75" />
<line x1="444.50" y1="215.68" x2="446.30" y2="215.68" stroke="#111" stroke-width="0.75" />
<line x1="444.50" y1="214.66" x2="446.30" y2="214.66" stroke="#111" stroke-width="0.75" />
<line x1="444.50" y1="213.80" x2="446.30" y2="213.80" stroke="#111" stroke-width="0.75" />
<line x1="444.50" y1="213.05" x2="446.30" y2="213.05" stroke="#111" stroke-width="0.75" />
<line x1="444.50" y1="212.39" x2="446.30" y2="212.39" stroke="#111" stroke-width="0.75" />
<line x1="443.70" y1="224.70" x2="446.30" y2="224.70" stroke="#111" stroke-width="0.9" />
<line x1="444.50" y1="233.72" x2="446.30" y2="233.72" stroke="#111" stroke-width="0.75" />
<line x1="444.50" y1="231.45" x2="446.30" y2="231.45" stroke="#111" stroke-width="0.75" />
<line x1="444.50" y1="229.83" x2="446.30" y2="229.83" stroke="#111" stroke-width="0.75" />
<line x1="444.50" y1="228.58" x2="446.30" y2="228.58" stroke="#111" stroke-width="0.75" />
<line x1="444.50" y1="227.56" x2="446.30" y2="227.56" stroke="#111" stroke-width="0.75" />
<line x1="444.50" y1="226.70" x2="446.30" y2="226.70" stroke="#111" stroke-width="0.75" />
<line x1="444.50" y1="225.95" x2="446.30" y2="225.95" stroke="#111" stroke-width="0.75" />
<line x1="444.50" y1="225.29" x2="446.30" y2="225.29" stroke="#111" stroke-width="0.75" />
<line x1="444.50" y1="237.60" x2="446.30" y2="237.60" stroke="#111" stroke-width="0.75" />
<line x1="444.50" y1="239.50" x2="446.30" y2="239.50" stroke="#111" stroke-width="0.75" />
<line x1="444.50" y1="241.20" x2="446.30" y2="241.20" stroke="#111" stroke-width="0.75" />
<line x1="444.50" y1="242.80" x2="446.30" y2="242.80" stroke="#111" stroke-width="0.75" />
<line x1="444.50" y1="244.40" x2="446.30" y2="244.40" stroke="#111" stroke-width="0.75" />
<line x1="444.50" y1="246.00" x2="446.30" y2="246.00" stroke="#111" stroke-width="0.75" />
<line x1="444.50" y1="247.80" x2="446.30" y2="247.80" stroke="#111" stroke-width="0.75" />
<line x1="444.50" y1="249.80" x2="446.30" y2="249.80" stroke="#111" stroke-width="0.75" />
<line x1="444.50" y1="252.00" x2="446.30" y2="252.00" stroke="#111" stroke-width="0.75" />
<line x1="444.50" y1="254.50" x2="446.30" y2="254.50" stroke="#111" stroke-width="0.75" />
<line x1="444.50" y1="257.00" x2="446.30" y2="257.00" stroke="#111" stroke-width="0.75" />
<line x1="444.50" y1="259.50" x2="446.30" y2="259.50" stroke="#111" stroke-width="0.75" />
<text x="441.70" y="213.10" font-size="3.9" text-anchor="middle" font-weight="normal" fill="#808080" >10⁵</text>
<text x="441.70" y="226.00" font-size="3.9" text-anchor="middle" font-weight="normal" fill="#808080" >10⁴</text>
<text x="441.70" y="237.30" font-size="3.9" text-anchor="middle" font-weight="normal" fill="#808080" >10³</text>
<text x="441.70" y="242.10" font-size="3.9" text-anchor="middle" font-weight="normal" fill="#808080" >0</text>
<text x="441.70" y="246.30" font-size="3.9" text-anchor="middle" font-weight="normal" fill="#808080" >-10³</text>
<line x1="473.50" y1="261.10" x2="473.50" y2="263.70" stroke="#111" stroke-width="0.9" />
<line x1="463.92" y1="261.10" x2="463.92" y2="262.90" stroke="#111" stroke-width="0.75" />
<line x1="466.34" y1="261.10" x2="466.34" y2="262.90" stroke="#111" stroke-width="0.75" />
<line x1="468.05" y1="261.10" x2="468.05" y2="262.90" stroke="#111" stroke-width="0.75" />
<line x1="469.38" y1="261.10" x2="469.38" y2="262.90" stroke="#111" stroke-width="0.75" />
<line x1="470.46" y1="261.10" x2="470.46" y2="262.90" stroke="#111" stroke-width="0.75" />
<line x1="471.38" y1="261.10" x2="471.38" y2="262.90" stroke="#111" stroke-width="0.75" />
<line x1="472.17" y1="261.10" x2="472.17" y2="262.90" stroke="#111" stroke-width="0.75" />
<line x1="472.87" y1="261.10" x2="472.87" y2="262.90" stroke="#111" stroke-width="0.75" />
<line x1="490.00" y1="261.10" x2="490.00" y2="263.70" stroke="#111" stroke-width="0.9" />
<line x1="478.40" y1="261.10" x2="478.40" y2="262.90" stroke="#111" stroke-width="0.75" />
<line x1="481.32" y1="261.10" x2="481.32" y2="262.90" stroke="#111" stroke-width="0.75" />
<line x1="483.39" y1="261.10" x2="483.39" y2="262.90" stroke="#111" stroke-width="0.75" />
<line x1="485.00" y1="261.10" x2="485.00" y2="262.90" stroke="#111" stroke-width="0.75" />
<line x1="486.32" y1="261.10" x2="486.32" y2="262.90" stroke="#111" stroke-width="0.75" />
<line x1="487.43" y1="261.10" x2="487.43" y2="262.90" stroke="#111" stroke-width="0.75" />
<line x1="488.39" y1="261.10" x2="488.39" y2="262.90" stroke="#111" stroke-width="0.75" />
<line x1="489.24" y1="261.10" x2="489.24" y2="262.90" stroke="#111" stroke-width="0.75" />
<line x1="503.50" y1="261.10" x2="503.50" y2="263.70" stroke="#111" stroke-width="0.9" />
<line x1="494.41" y1="261.10" x2="494.41" y2="262.90" stroke="#111" stroke-width="0.75" />
<line x1="496.70" y1="261.10" x2="496.70" y2="262.90" stroke="#111" stroke-width="0.75" />
<line x1="498.33" y1="261.10" x2="498.33" y2="262.90" stroke="#111" stroke-width="0.75" />
<line x1="499.59" y1="261.10" x2="499.59" y2="262.90" stroke="#111" stroke-width="0.75" />
<line x1="500.62" y1="261.10" x2="500.62" y2="262.90" stroke="#111" stroke-width="0.75" />
<line x1="501.49" y1="261.10" x2="501.49" y2="262.90" stroke="#111" stroke-width="0.75" />
<line x1="502.24" y1="261.10" x2="502.24" y2="262.90" stroke="#111" stroke-width="0.75" />
<line x1="502.91" y1="261.10" x2="502.91" y2="262.90" stroke="#111" stroke-width="0.75" />
<line x1="449.00" y1="261.10" x2="449.00" y2="262.90" stroke="#111" stroke-width="0.75" />
<line x1="451.00" y1="261.10" x2="451.00" y2="262.90" stroke="#111" stroke-width="0.75" />
<line x1="453.00" y1="261.10" x2="453.00" y2="262.90" stroke="#111" stroke-width="0.75" />
<line x1="455.00" y1="261.10" x2="455.00" y2="262.90" stroke="#111" stroke-width="0.75" />
<line x1="457.50" y1="261.10" x2="457.50" y2="262.90" stroke="#111" stroke-width="0.75" />
<line x1="459.50" y1="261.10" x2="459.50" y2="262.90" stroke="#111" stroke-width="0.75" />
<line x1="461.50" y1="261.10" x2="461.50" y2="262.90" stroke="#111" stroke-width="0.75" />
<line x1="464.00" y1="261.10" x2="464.00" y2="262.90" stroke="#111" stroke-width="0.75" />
<line x1="466.50" y1="261.10" x2="466.50" y2="262.90" stroke="#111" stroke-width="0.75" />
<line x1="469.50" y1="261.10" x2="469.50" y2="262.90" stroke="#111" stroke-width="0.75" />
<text x="456.00" y="268.30" font-size="3.9" text-anchor="middle" font-weight="normal" fill="#808080" >0</text>
<text x="460.50" y="268.30" font-size="3.9" text-anchor="middle" font-weight="normal" fill="#808080" >10²</text>
<text x="473.50" y="268.30" font-size="3.9" text-anchor="middle" font-weight="normal" fill="#808080" >10³</text>
<text x="490.00" y="268.30" font-size="3.9" text-anchor="middle" font-weight="normal" fill="#808080" >10⁴</text>
<text x="503.50" y="268.30" font-size="3.9" text-anchor="middle" font-weight="normal" fill="#808080" >10⁵</text>
<text x="504.70" y="216.40" font-size="5.8" text-anchor="end" font-weight="normal" fill="#1a1a1a" stroke="#1a1a1a" stroke-width="0.08" >28.7</text>
<text x="505.10" y="258.00" font-size="5.8" text-anchor="end" font-weight="normal" fill="#1a1a1a" stroke="#1a1a1a" stroke-width="0.08" >19.5</text>
<text x="497.50" y="225.60" font-size="2.8" text-anchor="middle" font-weight="normal" fill="#666" >PD-1+CD4+</text>
<text x="494.00" y="246.20" font-size="2.6" text-anchor="middle" font-weight="normal" fill="#666" >PD-1+CD4-</text>
<line x1="366.90" y1="273.50" x2="429.60" y2="273.50" stroke="#1a1a1a" stroke-width="1.3" />
<line x1="446.90" y1="273.50" x2="506.00" y2="273.50" stroke="#1a1a1a" stroke-width="1.3" />
<path d="M510.5,273.5 L505.5,271.2 L505.5,275.8 Z" fill="#111"/>
<text x="438.20" y="275.90" font-size="6.3" text-anchor="middle" font-weight="normal" fill="#1a1a1a" stroke="#1a1a1a" stroke-width="0.22" textLength="11.3" lengthAdjust="spacingAndGlyphs">PD-1</text>
<rect x="0.6" y="0.6" width="518.3" height="290.3" fill="none" stroke="#000" stroke-width="1.2"/>
<rect x="518.2" y="0" width="1.8" height="292" fill="#000"/>
<rect x="0" y="290.2" width="520" height="1.8" fill="#000"/>
</svg>
</body></html>
